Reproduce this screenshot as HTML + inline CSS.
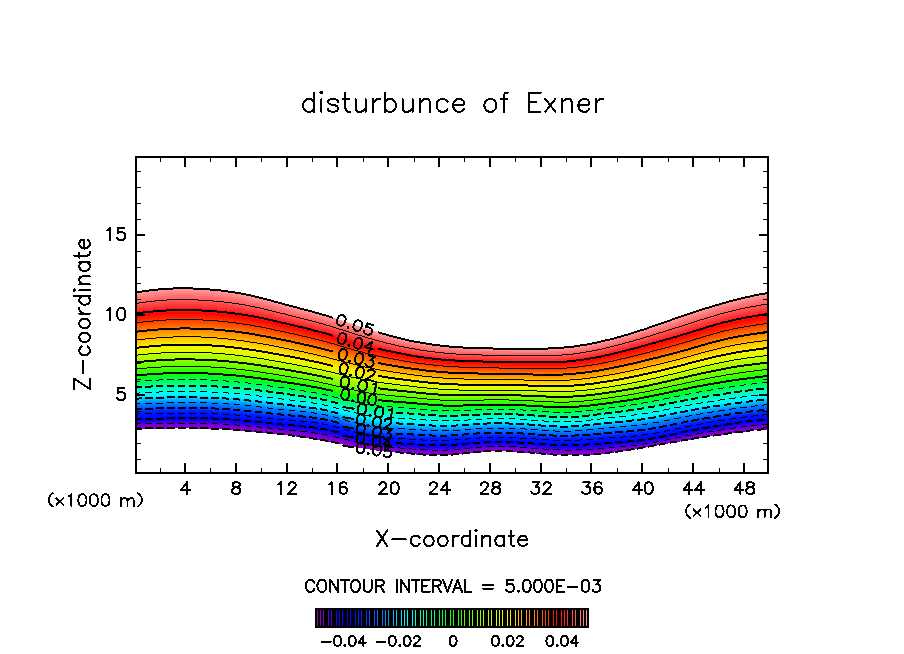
<!DOCTYPE html><html><head><meta charset="utf-8"><title>disturbunce of Exner</title><style>html,body{margin:0;padding:0;background:#fff}svg{display:block}</style></head><body>
<svg width="904" height="654" viewBox="0 0 904 654">
<rect width="904" height="654" fill="#fff"/>
<defs><clipPath id="band"><path d="M136,292.5 144,291.2 152,290.1 160,289.3 168,288.7 176,288.3 184,288.3 192,288.5 200,288.8 208,289.4 216,290 224,290.9 232,292 240,293.3 248,294.9 256,296.7 264,298.7 272,300.9 280,303.1 288,305.2 296,307.4 304,309.4 312,311.6 320,313.8 328,316.1 336,318.6 344,321.2 352,323.8 360,326.5 368,329.1 376,331.6 384,334 392,336.2 400,338.3 408,340.2 416,341.8 424,343.3 432,344.5 440,345.5 448,346.4 456,347 464,347.5 472,347.9 480,348.2 488,348.4 496,348.5 504,348.6 512,348.7 520,348.7 528,348.7 536,348.7 544,348.6 552,348.3 560,347.8 568,347.1 576,346.2 584,344.9 592,343.5 600,341.8 608,339.9 616,337.8 624,335.6 632,333.2 640,330.6 648,328 656,325.2 664,322.5 672,319.7 680,316.9 688,314.1 696,311.5 704,308.9 712,306.4 720,304.1 728,301.8 736,299.8 744,297.8 752,296 760,294.4 768,292.9 L768,428.9 760,429.5 752,430.3 744,431.3 736,432.4 728,433.5 720,434.7 712,435.8 704,437 696,438.2 688,439.5 680,440.9 672,442.3 664,443.8 656,445.2 648,446.7 640,448.1 632,449.4 624,450.6 616,451.7 608,452.7 600,453.6 592,454.3 584,454.8 576,455.1 568,455.1 560,454.9 552,454.4 544,453.8 536,453.1 528,452.3 520,451.7 512,451.2 504,450.8 496,450.8 488,451 480,451.6 472,452.4 464,453.4 456,454.2 448,454.9 440,455.1 432,455 424,454.6 416,454 408,453.2 400,452.5 392,451.8 384,450.9 376,450 368,448.8 360,447.5 352,445.9 344,444.3 336,442.7 328,441.1 320,439.6 312,438.3 304,437.1 296,435.9 288,434.9 280,434 272,433.1 264,432.2 256,431.5 248,430.8 240,430.1 232,429.6 224,429.1 216,428.7 208,428.4 200,428.2 192,428.1 184,428.1 176,428.1 168,428.2 160,428.2 152,428.3 144,428.4 136,428.7Z"/></clipPath><clipPath id="plot"><rect x="136" y="157" width="632" height="316"/></clipPath></defs>
<g clip-path="url(#band)" shape-rendering="crispEdges">
<path d="M768,480 136,480 136,289.5l8,-1.3 8,-1.1 8,-0.8 8,-0.6 8,-0.4 8,0 8,0.2 8,0.3 8,0.6 8,0.6 8,0.9 8,1.1 8,1.3 8,1.6 8,1.8 8,2 8,2.2 8,2.2 8,2.1 8,2.2 8,2 8,2.2 8,2.2 8,2.3 8,2.5 8,2.6 8,2.6 8,2.7 8,2.6 8,2.5 8,2.4 8,2.2 8,2.1 8,1.9 8,1.6 8,1.5 8,1.2 8,1 8,0.9 8,0.6 8,0.5 8,0.4 8,0.3 8,0.2 8,0.1 8,0.1 8,0.1 8,0 8,0 8,0 8,-0.1 8,-0.3 8,-0.5 8,-0.7 8,-0.9 8,-1.3 8,-1.4 8,-1.7 8,-1.9 8,-2.1 8,-2.2 8,-2.4 8,-2.6 8,-2.6 8,-2.8 8,-2.7 8,-2.8 8,-2.8 8,-2.8 8,-2.6 8,-2.6 8,-2.5 8,-2.3 8,-2.3 8,-2 8,-2 8,-1.8 8,-1.6 8,-1.5Z" fill="#ff9898"/>
<path d="M768,480 136,480 136,294.7l8,-1.2 8,-1.1 8,-0.8 8,-0.6 8,-0.3 8,-0.1 8,0.2 8,0.4 8,0.5 8,0.7 8,0.8 8,1.1 8,1.2 8,1.6 8,1.8 8,1.9 8,2.1 8,2.2 8,2.1 8,2.1 8,2.1 8,2.1 8,2.2 8,2.3 8,2.5 8,2.6 8,2.6 8,2.6 8,2.6 8,2.5 8,2.3 8,2.2 8,2 8,1.8 8,1.7 8,1.4 8,1.2 8,1 8,0.8 8,0.7 8,0.4 8,0.4 8,0.2 8,0.2 8,0.2 8,0.1 8,0.1 8,0.1 8,0 8,-0.1 8,-0.1 8,-0.2 8,-0.5 8,-0.7 8,-0.9 8,-1.2 8,-1.5 8,-1.7 8,-1.8 8,-2.1 8,-2.2 8,-2.4 8,-2.5 8,-2.6 8,-2.7 8,-2.7 8,-2.7 8,-2.7 8,-2.7 8,-2.7 8,-2.5 8,-2.5 8,-2.4 8,-2.2 8,-2 8,-1.9 8,-1.8 8,-1.6 8,-1.4Z" fill="#ff8a8a"/>
<path d="M768,480 136,480 136,296.9l8,-1.2 8,-1 8,-0.8 8,-0.6 8,-0.3 8,-0.1 8,0.2 8,0.4 8,0.5 8,0.6 8,0.9 8,1 8,1.2 8,1.5 8,1.8 8,1.9 8,2.1 8,2.1 8,2.1 8,2 8,2.1 8,2.1 8,2.2 8,2.3 8,2.5 8,2.6 8,2.6 8,2.6 8,2.5 8,2.4 8,2.3 8,2.1 8,2 8,1.8 8,1.6 8,1.3 8,1.2 8,1 8,0.8 8,0.7 8,0.4 8,0.4 8,0.2 8,0.2 8,0.2 8,0.1 8,0.1 8,0 8,0.1 8,0 8,-0.1 8,-0.3 8,-0.4 8,-0.7 8,-0.9 8,-1.2 8,-1.5 8,-1.6 8,-1.9 8,-2.1 8,-2.2 8,-2.3 8,-2.5 8,-2.5 8,-2.6 8,-2.6 8,-2.7 8,-2.7 8,-2.6 8,-2.7 8,-2.5 8,-2.5 8,-2.3 8,-2.2 8,-2.1 8,-1.8 8,-1.7 8,-1.6 8,-1.4Z" fill="#ff7b7b"/>
<path d="M768,480 136,480 136,299.1l8,-1.2 8,-1 8,-0.8 8,-0.5 8,-0.3 8,-0.1 8,0.2 8,0.3 8,0.5 8,0.7 8,0.8 8,1 8,1.2 8,1.5 8,1.7 8,1.9 8,2 8,2 8,2.1 8,2 8,2.1 8,2.1 8,2.1 8,2.4 8,2.4 8,2.6 8,2.6 8,2.6 8,2.5 8,2.3 8,2.3 8,2 8,2 8,1.7 8,1.5 8,1.4 8,1.2 8,1 8,0.7 8,0.6 8,0.5 8,0.3 8,0.3 8,0.2 8,0.1 8,0.1 8,0.1 8,0.1 8,0.1 8,0 8,-0.1 8,-0.2 8,-0.4 8,-0.7 8,-0.9 8,-1.2 8,-1.5 8,-1.6 8,-1.9 8,-2 8,-2.2 8,-2.3 8,-2.4 8,-2.5 8,-2.5 8,-2.6 8,-2.6 8,-2.6 8,-2.7 8,-2.6 8,-2.5 8,-2.5 8,-2.3 8,-2.2 8,-2 8,-1.8 8,-1.7 8,-1.5 8,-1.4Z" fill="#ff6e6e"/>
<path d="M768,480 136,480 136,301.2l8,-1.1 8,-1 8,-0.8 8,-0.5 8,-0.3 8,-0.1 8,0.2 8,0.3 8,0.5 8,0.6 8,0.8 8,1 8,1.2 8,1.5 8,1.6 8,1.9 8,1.9 8,2.1 8,2 8,2 8,2 8,2.1 8,2.2 8,2.3 8,2.5 8,2.5 8,2.6 8,2.6 8,2.4 8,2.3 8,2.2 8,2 8,1.9 8,1.7 8,1.5 8,1.3 8,1.2 8,1 8,0.7 8,0.6 8,0.5 8,0.3 8,0.2 8,0.2 8,0.1 8,0.2 8,0.1 8,0.1 8,0.1 8,0 8,-0.1 8,-0.2 8,-0.4 8,-0.6 8,-1 8,-1.2 8,-1.4 8,-1.6 8,-1.9 8,-2 8,-2.2 8,-2.2 8,-2.4 8,-2.4 8,-2.5 8,-2.5 8,-2.6 8,-2.5 8,-2.6 8,-2.6 8,-2.6 8,-2.4 8,-2.4 8,-2.1 8,-2 8,-1.8 8,-1.6 8,-1.5 8,-1.3Z" fill="#ff6161"/>
<path d="M768,480 136,480 136,303.4l8,-1.2 8,-0.9 8,-0.8 8,-0.5 8,-0.3 8,-0.1 8,0.2 8,0.3 8,0.5 8,0.6 8,0.8 8,0.9 8,1.2 8,1.4 8,1.7 8,1.8 8,1.9 8,2 8,2 8,2 8,2 8,2.1 8,2.1 8,2.3 8,2.5 8,2.5 8,2.6 8,2.5 8,2.4 8,2.3 8,2.1 8,2 8,1.8 8,1.7 8,1.4 8,1.4 8,1.1 8,0.9 8,0.8 8,0.6 8,0.4 8,0.3 8,0.2 8,0.2 8,0.2 8,0.1 8,0.1 8,0.1 8,0.1 8,0.1 8,-0.1 8,-0.2 8,-0.4 8,-0.6 8,-0.9 8,-1.2 8,-1.4 8,-1.7 8,-1.8 8,-2 8,-2.1 8,-2.2 8,-2.4 8,-2.4 8,-2.4 8,-2.4 8,-2.5 8,-2.6 8,-2.5 8,-2.6 8,-2.5 8,-2.5 8,-2.3 8,-2.2 8,-1.9 8,-1.8 8,-1.6 8,-1.4 8,-1.3Z" fill="#ff5353"/>
<path d="M768,480 136,480 136,305.4l8,-1.1 8,-0.9 8,-0.8 8,-0.5 8,-0.3 8,0 8,0.1 8,0.3 8,0.5 8,0.6 8,0.8 8,0.9 8,1.2 8,1.4 8,1.6 8,1.7 8,1.9 8,2 8,2 8,1.9 8,2 8,2.1 8,2.1 8,2.3 8,2.4 8,2.6 8,2.5 8,2.5 8,2.4 8,2.2 8,2.1 8,1.9 8,1.8 8,1.6 8,1.5 8,1.3 8,1.1 8,0.9 8,0.8 8,0.5 8,0.4 8,0.3 8,0.2 8,0.2 8,0.2 8,0.1 8,0.2 8,0.1 8,0.1 8,0 8,0 8,-0.2 8,-0.4 8,-0.6 8,-0.9 8,-1.2 8,-1.4 8,-1.6 8,-1.8 8,-2 8,-2.1 8,-2.2 8,-2.3 8,-2.3 8,-2.4 8,-2.4 8,-2.4 8,-2.5 8,-2.5 8,-2.6 8,-2.5 8,-2.5 8,-2.3 8,-2.1 8,-2 8,-1.7 8,-1.5 8,-1.5 8,-1.2Z" fill="#ff4646"/>
<path d="M768,480 136,480 136,307.5l8,-1.1 8,-0.9 8,-0.8 8,-0.5 8,-0.3 8,0 8,0.1 8,0.3 8,0.5 8,0.6 8,0.7 8,1 8,1.1 8,1.4 8,1.5 8,1.8 8,1.8 8,2 8,1.9 8,2 8,1.9 8,2.1 8,2.1 8,2.3 8,2.4 8,2.5 8,2.5 8,2.5 8,2.4 8,2.2 8,2 8,1.9 8,1.7 8,1.6 8,1.4 8,1.2 8,1.1 8,1 8,0.7 8,0.6 8,0.4 8,0.2 8,0.3 8,0.1 8,0.2 8,0.1 8,0.2 8,0.1 8,0.1 8,0.1 8,-0.1 8,-0.1 8,-0.4 8,-0.6 8,-0.9 8,-1.1 8,-1.4 8,-1.6 8,-1.8 8,-1.9 8,-2.1 8,-2.2 8,-2.2 8,-2.3 8,-2.4 8,-2.3 8,-2.4 8,-2.5 8,-2.5 8,-2.5 8,-2.6 8,-2.4 8,-2.3 8,-2.1 8,-1.9 8,-1.7 8,-1.5 8,-1.4 8,-1.3Z" fill="#ff3939"/>
<path d="M768,480 136,480 136,309.5l8,-1.1 8,-0.9 8,-0.7 8,-0.5 8,-0.3 8,-0.1 8,0.2 8,0.3 8,0.4 8,0.6 8,0.8 8,0.9 8,1.1 8,1.4 8,1.5 8,1.7 8,1.8 8,1.9 8,1.9 8,2 8,1.9 8,2 8,2.2 8,2.2 8,2.4 8,2.5 8,2.5 8,2.5 8,2.3 8,2.1 8,2 8,1.9 8,1.6 8,1.6 8,1.4 8,1.2 8,1.1 8,0.9 8,0.7 8,0.6 8,0.4 8,0.2 8,0.2 8,0.2 8,0.2 8,0.1 8,0.2 8,0.1 8,0.1 8,0.1 8,0 8,-0.2 8,-0.3 8,-0.6 8,-0.9 8,-1.1 8,-1.4 8,-1.6 8,-1.7 8,-2 8,-2 8,-2.1 8,-2.3 8,-2.2 8,-2.3 8,-2.3 8,-2.4 8,-2.4 8,-2.5 8,-2.5 8,-2.5 8,-2.4 8,-2.3 8,-2.1 8,-1.9 8,-1.7 8,-1.5 8,-1.3 8,-1.3Z" fill="#ff2a2a"/>
<path d="M768,480 136,480 136,311.5l8,-1.1 8,-0.8 8,-0.8 8,-0.5 8,-0.3 8,0 8,0.1 8,0.3 8,0.4 8,0.6 8,0.8 8,0.9 8,1.1 8,1.3 8,1.5 8,1.7 8,1.8 8,1.9 8,1.8 8,1.9 8,2 8,2 8,2.1 8,2.3 8,2.3 8,2.5 8,2.5 8,2.4 8,2.3 8,2.1 8,1.9 8,1.8 8,1.7 8,1.5 8,1.4 8,1.2 8,1 8,0.9 8,0.7 8,0.6 8,0.4 8,0.2 8,0.2 8,0.2 8,0.2 8,0.1 8,0.1 8,0.2 8,0.1 8,0.1 8,0 8,-0.1 8,-0.3 8,-0.6 8,-0.9 8,-1.1 8,-1.4 8,-1.5 8,-1.8 8,-1.9 8,-2 8,-2.1 8,-2.2 8,-2.2 8,-2.2 8,-2.3 8,-2.4 8,-2.3 8,-2.5 8,-2.5 8,-2.5 8,-2.4 8,-2.3 8,-2.1 8,-1.8 8,-1.7 8,-1.4 8,-1.4 8,-1.2Z" fill="#ff1919"/>
<path d="M768,480 136,480 136,313.4l8,-1 8,-0.9 8,-0.7 8,-0.5 8,-0.3 8,0 8,0.1 8,0.3 8,0.4 8,0.6 8,0.8 8,0.9 8,1.1 8,1.2 8,1.5 8,1.7 8,1.7 8,1.9 8,1.8 8,1.9 8,1.9 8,2 8,2.1 8,2.3 8,2.3 8,2.5 8,2.4 8,2.4 8,2.3 8,2 8,1.9 8,1.8 8,1.6 8,1.5 8,1.3 8,1.2 8,1.1 8,0.9 8,0.7 8,0.5 8,0.3 8,0.3 8,0.2 8,0.2 8,0.1 8,0.2 8,0.1 8,0.2 8,0.1 8,0.1 8,0 8,-0.1 8,-0.3 8,-0.6 8,-0.8 8,-1.1 8,-1.4 8,-1.5 8,-1.7 8,-1.9 8,-2 8,-2.1 8,-2.1 8,-2.2 8,-2.2 8,-2.2 8,-2.3 8,-2.4 8,-2.4 8,-2.5 8,-2.5 8,-2.4 8,-2.3 8,-2.1 8,-1.8 8,-1.6 8,-1.4 8,-1.3 8,-1.2Z" fill="#ff0808"/>
<path d="M768,480 136,480 136,315.4l8,-1 8,-0.9 8,-0.7 8,-0.5 8,-0.3 8,-0.1 8,0.2 8,0.2 8,0.5 8,0.6 8,0.7 8,0.9 8,1.1 8,1.2 8,1.5 8,1.6 8,1.8 8,1.8 8,1.8 8,1.9 8,1.9 8,2 8,2 8,2.3 8,2.3 8,2.4 8,2.4 8,2.4 8,2.2 8,2.1 8,1.8 8,1.7 8,1.6 8,1.4 8,1.4 8,1.2 8,1 8,0.9 8,0.6 8,0.5 8,0.4 8,0.3 8,0.2 8,0.1 8,0.2 8,0.1 8,0.2 8,0.1 8,0.2 8,0.1 8,0 8,-0.1 8,-0.3 8,-0.5 8,-0.9 8,-1.1 8,-1.3 8,-1.5 8,-1.7 8,-1.8 8,-2 8,-2 8,-2.1 8,-2.2 8,-2.2 8,-2.2 8,-2.3 8,-2.3 8,-2.4 8,-2.5 8,-2.4 8,-2.4 8,-2.3 8,-2 8,-1.9 8,-1.5 8,-1.5 8,-1.2 8,-1.2Z" fill="#ff0700"/>
<path d="M768,480 136,480 136,317.3l8,-1 8,-0.9 8,-0.7 8,-0.5 8,-0.2 8,-0.1 8,0.1 8,0.3 8,0.4 8,0.6 8,0.7 8,0.9 8,1.1 8,1.2 8,1.5 8,1.6 8,1.7 8,1.7 8,1.9 8,1.8 8,1.9 8,2 8,2 8,2.2 8,2.4 8,2.3 8,2.4 8,2.4 8,2.1 8,2 8,1.9 8,1.7 8,1.5 8,1.4 8,1.3 8,1.2 8,1 8,0.8 8,0.7 8,0.5 8,0.4 8,0.2 8,0.2 8,0.2 8,0.1 8,0.2 8,0.1 8,0.2 8,0.1 8,0.1 8,0.1 8,-0.1 8,-0.3 8,-0.5 8,-0.8 8,-1.1 8,-1.3 8,-1.5 8,-1.7 8,-1.8 8,-1.9 8,-2 8,-2.1 8,-2.1 8,-2.2 8,-2.2 8,-2.2 8,-2.3 8,-2.4 8,-2.4 8,-2.5 8,-2.4 8,-2.2 8,-2.1 8,-1.7 8,-1.6 8,-1.4 8,-1.3 8,-1.1Z" fill="#ff1400"/>
<path d="M768,480 136,480 136,319.2l8,-1 8,-0.9 8,-0.6 8,-0.5 8,-0.3 8,-0.1 8,0.1 8,0.3 8,0.4 8,0.6 8,0.7 8,0.9 8,1 8,1.3 8,1.4 8,1.6 8,1.6 8,1.8 8,1.8 8,1.8 8,1.9 8,1.9 8,2.1 8,2.2 8,2.3 8,2.4 8,2.3 8,2.3 8,2.2 8,1.9 8,1.8 8,1.7 8,1.5 8,1.4 8,1.2 8,1.2 8,1 8,0.8 8,0.7 8,0.5 8,0.3 8,0.3 8,0.1 8,0.2 8,0.1 8,0.2 8,0.2 8,0.1 8,0.2 8,0.1 8,0 8,0 8,-0.3 8,-0.5 8,-0.8 8,-1.1 8,-1.2 8,-1.5 8,-1.6 8,-1.8 8,-1.9 8,-2 8,-2.1 8,-2.1 8,-2.1 8,-2.1 8,-2.2 8,-2.3 8,-2.4 8,-2.4 8,-2.5 8,-2.3 8,-2.3 8,-2 8,-1.8 8,-1.5 8,-1.4 8,-1.2 8,-1.1Z" fill="#ff2100"/>
<path d="M768,480 136,480 136,321l8,-0.9 8,-0.9 8,-0.7 8,-0.5 8,-0.2 8,-0.1 8,0.1 8,0.2 8,0.5 8,0.5 8,0.7 8,0.9 8,1.1 8,1.2 8,1.4 8,1.5 8,1.7 8,1.7 8,1.8 8,1.8 8,1.9 8,1.9 8,2 8,2.2 8,2.3 8,2.3 8,2.4 8,2.2 8,2.1 8,2 8,1.7 8,1.7 8,1.4 8,1.4 8,1.2 8,1.2 8,1 8,0.8 8,0.6 8,0.5 8,0.4 8,0.2 8,0.2 8,0.1 8,0.2 8,0.1 8,0.2 8,0.1 8,0.2 8,0.1 8,0.1 8,-0.1 8,-0.2 8,-0.5 8,-0.8 8,-1 8,-1.3 8,-1.4 8,-1.6 8,-1.8 8,-1.9 8,-1.9 8,-2.1 8,-2 8,-2.1 8,-2.1 8,-2.2 8,-2.3 8,-2.3 8,-2.5 8,-2.4 8,-2.3 8,-2.3 8,-2 8,-1.7 8,-1.5 8,-1.4 8,-1.2 8,-1.1Z" fill="#ff3000"/>
<path d="M768,480 136,480 136,322.9l8,-1 8,-0.8 8,-0.7 8,-0.5 8,-0.3 8,-0.1 8,0.1 8,0.3 8,0.4 8,0.6 8,0.7 8,0.8 8,1.1 8,1.2 8,1.4 8,1.5 8,1.6 8,1.7 8,1.8 8,1.8 8,1.8 8,1.9 8,2.1 8,2.1 8,2.3 8,2.3 8,2.3 8,2.2 8,2.1 8,1.9 8,1.7 8,1.6 8,1.5 8,1.3 8,1.2 8,1.1 8,1 8,0.8 8,0.7 8,0.5 8,0.3 8,0.2 8,0.2 8,0.1 8,0.2 8,0.1 8,0.2 8,0.1 8,0.2 8,0.1 8,0.1 8,0 8,-0.3 8,-0.4 8,-0.8 8,-1 8,-1.2 8,-1.5 8,-1.5 8,-1.8 8,-1.8 8,-1.9 8,-2 8,-2.1 8,-2.1 8,-2.1 8,-2.1 8,-2.3 8,-2.3 8,-2.4 8,-2.4 8,-2.3 8,-2.2 8,-2 8,-1.8 8,-1.5 8,-1.3 8,-1.2 8,-1.1Z" fill="#ff3e00"/>
<path d="M768,480 136,480 136,324.7l8,-1 8,-0.8 8,-0.7 8,-0.5 8,-0.3 8,-0.1 8,0.1 8,0.3 8,0.4 8,0.6 8,0.7 8,0.8 8,1.1 8,1.2 8,1.4 8,1.4 8,1.7 8,1.6 8,1.8 8,1.7 8,1.9 8,1.9 8,2 8,2.1 8,2.3 8,2.2 8,2.3 8,2.2 8,2.1 8,1.8 8,1.7 8,1.6 8,1.4 8,1.3 8,1.2 8,1.1 8,1 8,0.8 8,0.6 8,0.5 8,0.3 8,0.2 8,0.2 8,0.1 8,0.2 8,0.1 8,0.2 8,0.1 8,0.2 8,0.2 8,0 8,0 8,-0.2 8,-0.5 8,-0.7 8,-1 8,-1.2 8,-1.4 8,-1.6 8,-1.7 8,-1.8 8,-1.9 8,-2 8,-2 8,-2 8,-2.1 8,-2.2 8,-2.2 8,-2.3 8,-2.4 8,-2.4 8,-2.3 8,-2.2 8,-1.9 8,-1.7 8,-1.5 8,-1.3 8,-1.2 8,-1.1Z" fill="#ff4e00"/>
<path d="M768,480 136,480 136,326.4l8,-0.9 8,-0.8 8,-0.7 8,-0.5 8,-0.3 8,-0.1 8,0.1 8,0.3 8,0.4 8,0.5 8,0.8 8,0.8 8,1.1 8,1.1 8,1.4 8,1.5 8,1.6 8,1.6 8,1.7 8,1.8 8,1.8 8,1.9 8,2 8,2.1 8,2.2 8,2.3 8,2.2 8,2.2 8,2 8,1.9 8,1.6 8,1.5 8,1.4 8,1.3 8,1.2 8,1.1 8,0.9 8,0.8 8,0.7 8,0.4 8,0.3 8,0.2 8,0.2 8,0.1 8,0.2 8,0.1 8,0.2 8,0.1 8,0.2 8,0.2 8,0 8,0 8,-0.2 8,-0.4 8,-0.7 8,-1 8,-1.2 8,-1.4 8,-1.5 8,-1.7 8,-1.8 8,-1.8 8,-2 8,-2 8,-2 8,-2.1 8,-2.1 8,-2.2 8,-2.3 8,-2.4 8,-2.3 8,-2.3 8,-2.2 8,-1.9 8,-1.7 8,-1.5 8,-1.3 8,-1.2 8,-1Z" fill="#ff5c00"/>
<path d="M768,480 136,480 136,328.2l8,-0.9 8,-0.8 8,-0.7 8,-0.5 8,-0.3 8,-0.1 8,0.1 8,0.2 8,0.4 8,0.6 8,0.7 8,0.9 8,1 8,1.2 8,1.3 8,1.5 8,1.5 8,1.7 8,1.7 8,1.7 8,1.8 8,1.9 8,2 8,2 8,2.2 8,2.3 8,2.2 8,2.2 8,1.9 8,1.8 8,1.7 8,1.5 8,1.3 8,1.3 8,1.2 8,1 8,1 8,0.7 8,0.7 8,0.4 8,0.3 8,0.2 8,0.2 8,0.1 8,0.1 8,0.2 8,0.1 8,0.2 8,0.2 8,0.1 8,0.1 8,0 8,-0.2 8,-0.4 8,-0.7 8,-0.9 8,-1.2 8,-1.3 8,-1.5 8,-1.7 8,-1.7 8,-1.9 8,-1.9 8,-2 8,-2 8,-2.1 8,-2.1 8,-2.2 8,-2.2 8,-2.4 8,-2.3 8,-2.3 8,-2.1 8,-2 8,-1.6 8,-1.5 8,-1.3 8,-1.1 8,-1.1Z" fill="#ff6a00"/>
<path d="M768,480 136,480 136,329.9l8,-0.9 8,-0.8 8,-0.6 8,-0.5 8,-0.3 8,-0.1 8,0 8,0.3 8,0.4 8,0.5 8,0.7 8,0.9 8,1 8,1.2 8,1.3 8,1.5 8,1.5 8,1.6 8,1.7 8,1.7 8,1.8 8,1.9 8,1.9 8,2.1 8,2.2 8,2.2 8,2.2 8,2.1 8,2 8,1.7 8,1.6 8,1.5 8,1.3 8,1.3 8,1.1 8,1.1 8,0.9 8,0.8 8,0.6 8,0.4 8,0.3 8,0.2 8,0.2 8,0.1 8,0.1 8,0.2 8,0.1 8,0.2 8,0.1 8,0.2 8,0.1 8,0 8,-0.2 8,-0.4 8,-0.6 8,-1 8,-1.1 8,-1.3 8,-1.5 8,-1.6 8,-1.8 8,-1.8 8,-1.9 8,-1.9 8,-2 8,-2.1 8,-2.1 8,-2.1 8,-2.3 8,-2.3 8,-2.3 8,-2.3 8,-2.1 8,-1.9 8,-1.7 8,-1.4 8,-1.3 8,-1.1 8,-1.1Z" fill="#ff7700"/>
<path d="M768,480 136,480 136,331.7l8,-0.9 8,-0.8 8,-0.7 8,-0.5 8,-0.3 8,-0.1 8,0.1 8,0.2 8,0.4 8,0.6 8,0.7 8,0.8 8,1 8,1.2 8,1.3 8,1.4 8,1.5 8,1.6 8,1.7 8,1.7 8,1.8 8,1.8 8,2 8,2 8,2.2 8,2.2 8,2.1 8,2.1 8,1.9 8,1.8 8,1.6 8,1.4 8,1.3 8,1.2 8,1.2 8,1 8,0.9 8,0.8 8,0.6 8,0.4 8,0.3 8,0.2 8,0.1 8,0.1 8,0.2 8,0.1 8,0.2 8,0.1 8,0.2 8,0.2 8,0.1 8,0 8,-0.1 8,-0.4 8,-0.7 8,-0.9 8,-1.1 8,-1.3 8,-1.5 8,-1.6 8,-1.7 8,-1.8 8,-1.8 8,-2 8,-1.9 8,-2.1 8,-2.1 8,-2.1 8,-2.3 8,-2.3 8,-2.3 8,-2.2 8,-2.1 8,-1.9 8,-1.6 8,-1.5 8,-1.2 8,-1.1 8,-1.1Z" fill="#ff8300"/>
<path d="M768,480 136,480 136,333.4l8,-0.9 8,-0.8 8,-0.7 8,-0.5 8,-0.3 8,-0.1 8,0.1 8,0.2 8,0.4 8,0.5 8,0.8 8,0.8 8,1 8,1.2 8,1.3 8,1.4 8,1.5 8,1.6 8,1.6 8,1.7 8,1.7 8,1.9 8,1.9 8,2 8,2.2 8,2.1 8,2.2 8,2 8,1.9 8,1.7 8,1.6 8,1.4 8,1.3 8,1.2 8,1.1 8,1 8,0.9 8,0.8 8,0.6 8,0.4 8,0.3 8,0.2 8,0.1 8,0.1 8,0.1 8,0.1 8,0.2 8,0.2 8,0.1 8,0.2 8,0.2 8,0 8,-0.2 8,-0.3 8,-0.7 8,-0.9 8,-1 8,-1.3 8,-1.5 8,-1.5 8,-1.7 8,-1.8 8,-1.8 8,-1.9 8,-2 8,-2 8,-2.1 8,-2.1 8,-2.2 8,-2.3 8,-2.3 8,-2.2 8,-2.1 8,-1.9 8,-1.6 8,-1.4 8,-1.3 8,-1.1 8,-1Z" fill="#ff9000"/>
<path d="M768,480 136,480 136,335l8,-0.9 8,-0.7 8,-0.7 8,-0.5 8,-0.3 8,-0.1 8,0.1 8,0.2 8,0.4 8,0.5 8,0.7 8,0.9 8,1 8,1.1 8,1.3 8,1.4 8,1.5 8,1.6 8,1.6 8,1.7 8,1.7 8,1.8 8,1.9 8,2 8,2.1 8,2.2 8,2.1 8,2 8,1.9 8,1.7 8,1.5 8,1.4 8,1.2 8,1.2 8,1.1 8,1 8,0.9 8,0.8 8,0.5 8,0.5 8,0.2 8,0.2 8,0.1 8,0.1 8,0.2 8,0.1 8,0.1 8,0.2 8,0.2 8,0.2 8,0.1 8,0.1 8,-0.2 8,-0.3 8,-0.7 8,-0.8 8,-1.1 8,-1.2 8,-1.4 8,-1.6 8,-1.6 8,-1.8 8,-1.8 8,-1.9 8,-2 8,-2 8,-2 8,-2.2 8,-2.2 8,-2.2 8,-2.3 8,-2.2 8,-2 8,-1.9 8,-1.6 8,-1.4 8,-1.2 8,-1.1 8,-1Z" fill="#ff9c00"/>
<path d="M768,480 136,480 136,336.7l8,-0.9 8,-0.8 8,-0.6 8,-0.5 8,-0.3 8,-0.1 8,0 8,0.2 8,0.4 8,0.6 8,0.7 8,0.8 8,1 8,1.2 8,1.2 8,1.4 8,1.5 8,1.5 8,1.6 8,1.7 8,1.7 8,1.8 8,1.9 8,2 8,2.1 8,2.1 8,2.1 8,2 8,1.9 8,1.6 8,1.5 8,1.3 8,1.3 8,1.1 8,1.1 8,1 8,0.9 8,0.7 8,0.6 8,0.4 8,0.3 8,0.2 8,0.1 8,0.1 8,0.1 8,0.1 8,0.1 8,0.2 8,0.2 8,0.2 8,0.2 8,0 8,-0.1 8,-0.4 8,-0.6 8,-0.8 8,-1 8,-1.3 8,-1.4 8,-1.5 8,-1.6 8,-1.7 8,-1.8 8,-1.9 8,-1.9 8,-2 8,-2.1 8,-2.1 8,-2.2 8,-2.2 8,-2.3 8,-2.1 8,-2.1 8,-1.8 8,-1.6 8,-1.4 8,-1.2 8,-1.1 8,-1Z" fill="#ffa900"/>
<path d="M768,480 136,480 136,338.3l8,-0.9 8,-0.7 8,-0.7 8,-0.5 8,-0.3 8,-0.1 8,0.1 8,0.2 8,0.4 8,0.5 8,0.7 8,0.9 8,1 8,1.1 8,1.2 8,1.4 8,1.5 8,1.5 8,1.6 8,1.6 8,1.7 8,1.8 8,1.9 8,2 8,2 8,2.1 8,2.1 8,2 8,1.8 8,1.6 8,1.5 8,1.3 8,1.2 8,1.2 8,1 8,1 8,0.9 8,0.7 8,0.6 8,0.4 8,0.2 8,0.2 8,0.1 8,0.1 8,0.1 8,0.1 8,0.2 8,0.1 8,0.2 8,0.2 8,0.2 8,0.1 8,-0.1 8,-0.4 8,-0.6 8,-0.8 8,-1 8,-1.2 8,-1.4 8,-1.5 8,-1.6 8,-1.7 8,-1.8 8,-1.8 8,-1.9 8,-2 8,-2.1 8,-2.1 8,-2.1 8,-2.3 8,-2.2 8,-2.1 8,-2 8,-1.8 8,-1.6 8,-1.4 8,-1.2 8,-1.1 8,-1Z" fill="#ffb500"/>
<path d="M768,480 136,480 136,340l8,-0.9 8,-0.8 8,-0.6 8,-0.5 8,-0.3 8,-0.2 8,0.1 8,0.2 8,0.4 8,0.5 8,0.7 8,0.9 8,1 8,1.1 8,1.2 8,1.4 8,1.4 8,1.5 8,1.6 8,1.7 8,1.6 8,1.8 8,1.9 8,1.9 8,2.1 8,2.1 8,2 8,1.9 8,1.8 8,1.6 8,1.5 8,1.3 8,1.2 8,1.1 8,1 8,1 8,0.9 8,0.7 8,0.5 8,0.4 8,0.3 8,0.1 8,0.1 8,0.1 8,0.1 8,0.1 8,0.2 8,0.1 8,0.2 8,0.2 8,0.2 8,0.1 8,-0.1 8,-0.3 8,-0.6 8,-0.8 8,-1 8,-1.2 8,-1.3 8,-1.5 8,-1.6 8,-1.6 8,-1.8 8,-1.9 8,-1.9 8,-1.9 8,-2.1 8,-2.1 8,-2.1 8,-2.2 8,-2.2 8,-2.1 8,-2 8,-1.8 8,-1.6 8,-1.3 8,-1.2 8,-1.1 8,-0.9Z" fill="#ffc200"/>
<path d="M768,480 136,480 136,341.6l8,-0.9 8,-0.8 8,-0.6 8,-0.5 8,-0.3 8,-0.1 8,0 8,0.2 8,0.4 8,0.5 8,0.7 8,0.9 8,0.9 8,1.2 8,1.2 8,1.3 8,1.5 8,1.5 8,1.5 8,1.7 8,1.6 8,1.8 8,1.8 8,2 8,2 8,2.1 8,2 8,1.9 8,1.8 8,1.5 8,1.4 8,1.3 8,1.2 8,1.1 8,1 8,1 8,0.8 8,0.7 8,0.6 8,0.4 8,0.2 8,0.2 8,0 8,0.1 8,0.1 8,0.1 8,0.2 8,0.1 8,0.2 8,0.3 8,0.1 8,0.1 8,0 8,-0.3 8,-0.6 8,-0.8 8,-1 8,-1.1 8,-1.4 8,-1.4 8,-1.6 8,-1.6 8,-1.8 8,-1.8 8,-1.9 8,-2 8,-2 8,-2.1 8,-2.1 8,-2.2 8,-2.1 8,-2.1 8,-2 8,-1.8 8,-1.5 8,-1.4 8,-1.1 8,-1.1 8,-1Z" fill="#ffcd00"/>
<path d="M768,480 136,480 136,343.1l8,-0.8 8,-0.8 8,-0.6 8,-0.5 8,-0.3 8,-0.1 8,0 8,0.2 8,0.4 8,0.5 8,0.7 8,0.8 8,1 8,1.1 8,1.3 8,1.3 8,1.4 8,1.5 8,1.5 8,1.6 8,1.7 8,1.7 8,1.9 8,1.9 8,2 8,2 8,2 8,1.9 8,1.8 8,1.5 8,1.4 8,1.3 8,1.1 8,1.1 8,1 8,1 8,0.8 8,0.7 8,0.5 8,0.4 8,0.2 8,0.2 8,0 8,0.1 8,0.1 8,0.1 8,0.1 8,0.2 8,0.2 8,0.3 8,0.1 8,0.1 8,0 8,-0.3 8,-0.5 8,-0.8 8,-1 8,-1.1 8,-1.3 8,-1.4 8,-1.6 8,-1.6 8,-1.8 8,-1.8 8,-1.8 8,-2 8,-2 8,-2.1 8,-2.1 8,-2.2 8,-2.1 8,-2.1 8,-1.9 8,-1.7 8,-1.6 8,-1.3 8,-1.2 8,-1 8,-1Z" fill="#ffd700"/>
<path d="M768,480 136,480 136,344.7l8,-0.9 8,-0.7 8,-0.7 8,-0.4 8,-0.3 8,-0.2 8,0.1 8,0.2 8,0.3 8,0.6 8,0.7 8,0.8 8,1 8,1.1 8,1.2 8,1.3 8,1.4 8,1.5 8,1.5 8,1.6 8,1.7 8,1.7 8,1.8 8,1.9 8,2 8,2 8,2 8,1.9 8,1.7 8,1.5 8,1.4 8,1.2 8,1.1 8,1.1 8,1 8,0.9 8,0.9 8,0.7 8,0.5 8,0.3 8,0.3 8,0.1 8,0 8,0.1 8,0.1 8,0.1 8,0.1 8,0.2 8,0.2 8,0.2 8,0.3 8,0.1 8,-0.1 8,-0.2 8,-0.6 8,-0.7 8,-1 8,-1.1 8,-1.3 8,-1.4 8,-1.5 8,-1.6 8,-1.7 8,-1.8 8,-1.9 8,-1.9 8,-2 8,-2.1 8,-2.1 8,-2.1 8,-2.2 8,-2 8,-1.9 8,-1.7 8,-1.5 8,-1.4 8,-1.1 8,-1.1 8,-0.9Z" fill="#ffe100"/>
<path d="M768,480 136,480 136,346.3l8,-0.9 8,-0.8 8,-0.6 8,-0.5 8,-0.3 8,-0.1 8,0 8,0.2 8,0.4 8,0.5 8,0.7 8,0.8 8,1 8,1.1 8,1.2 8,1.3 8,1.4 8,1.5 8,1.5 8,1.6 8,1.6 8,1.7 8,1.8 8,1.9 8,2 8,2 8,1.9 8,1.9 8,1.7 8,1.5 8,1.3 8,1.2 8,1.1 8,1.1 8,1 8,0.9 8,0.8 8,0.7 8,0.5 8,0.4 8,0.2 8,0.1 8,0 8,0.1 8,0 8,0.1 8,0.2 8,0.2 8,0.2 8,0.2 8,0.2 8,0.2 8,-0.1 8,-0.2 8,-0.5 8,-0.8 8,-0.9 8,-1.1 8,-1.3 8,-1.4 8,-1.5 8,-1.6 8,-1.7 8,-1.7 8,-1.9 8,-1.9 8,-2 8,-2.1 8,-2 8,-2.2 8,-2 8,-2.1 8,-1.8 8,-1.7 8,-1.5 8,-1.4 8,-1.1 8,-1.1 8,-0.9Z" fill="#ffeb00"/>
<path d="M768,480 136,480 136,347.8l8,-0.9 8,-0.7 8,-0.7 8,-0.4 8,-0.3 8,-0.2 8,0.1 8,0.2 8,0.3 8,0.6 8,0.6 8,0.9 8,0.9 8,1.1 8,1.2 8,1.3 8,1.4 8,1.4 8,1.6 8,1.5 8,1.6 8,1.7 8,1.8 8,1.9 8,1.9 8,2 8,2 8,1.8 8,1.7 8,1.5 8,1.3 8,1.1 8,1.1 8,1 8,1 8,0.9 8,0.8 8,0.7 8,0.5 8,0.4 8,0.2 8,0.1 8,0 8,0 8,0.1 8,0.1 8,0.1 8,0.2 8,0.2 8,0.3 8,0.2 8,0.2 8,0 8,-0.3 8,-0.5 8,-0.7 8,-0.9 8,-1.1 8,-1.3 8,-1.3 8,-1.5 8,-1.6 8,-1.7 8,-1.7 8,-1.9 8,-1.9 8,-2 8,-2 8,-2.1 8,-2.1 8,-2 8,-2 8,-1.9 8,-1.7 8,-1.4 8,-1.3 8,-1.2 8,-1 8,-1Z" fill="#fbf200"/>
<path d="M768,480 136,480 136,349.3l8,-0.9 8,-0.7 8,-0.6 8,-0.5 8,-0.3 8,-0.1 8,0 8,0.2 8,0.4 8,0.5 8,0.7 8,0.8 8,0.9 8,1.1 8,1.2 8,1.3 8,1.4 8,1.4 8,1.5 8,1.5 8,1.6 8,1.7 8,1.8 8,1.9 8,1.9 8,2 8,1.9 8,1.8 8,1.7 8,1.4 8,1.3 8,1.1 8,1.1 8,1 8,1 8,0.9 8,0.8 8,0.7 8,0.5 8,0.3 8,0.2 8,0 8,0.1 8,0 8,0.1 8,0.1 8,0.1 8,0.2 8,0.2 8,0.3 8,0.2 8,0.2 8,0 8,-0.3 8,-0.4 8,-0.8 8,-0.9 8,-1.1 8,-1.2 8,-1.3 8,-1.5 8,-1.5 8,-1.7 8,-1.8 8,-1.8 8,-1.9 8,-2 8,-2 8,-2 8,-2.1 8,-2 8,-2 8,-1.8 8,-1.7 8,-1.5 8,-1.3 8,-1.1 8,-1 8,-1Z" fill="#f2f600"/>
<path d="M768,480 136,480 136,350.8l8,-0.9 8,-0.7 8,-0.6 8,-0.5 8,-0.3 8,-0.1 8,0 8,0.2 8,0.4 8,0.5 8,0.7 8,0.8 8,0.9 8,1.1 8,1.2 8,1.3 8,1.3 8,1.4 8,1.5 8,1.6 8,1.5 8,1.7 8,1.8 8,1.8 8,1.9 8,2 8,1.9 8,1.8 8,1.7 8,1.4 8,1.2 8,1.1 8,1.1 8,1 8,0.9 8,0.9 8,0.8 8,0.7 8,0.5 8,0.3 8,0.2 8,0 8,0 8,0.1 8,0 8,0.1 8,0.1 8,0.2 8,0.2 8,0.3 8,0.3 8,0.2 8,0 8,-0.2 8,-0.5 8,-0.7 8,-0.9 8,-1.1 8,-1.2 8,-1.3 8,-1.5 8,-1.5 8,-1.7 8,-1.7 8,-1.8 8,-1.9 8,-2 8,-2 8,-2 8,-2.1 8,-2 8,-1.9 8,-1.8 8,-1.6 8,-1.5 8,-1.3 8,-1.1 8,-1 8,-1Z" fill="#e9f900"/>
<path d="M768,480 136,480 136,352.3l8,-0.9 8,-0.7 8,-0.6 8,-0.5 8,-0.3 8,-0.1 8,0 8,0.2 8,0.4 8,0.5 8,0.7 8,0.8 8,0.9 8,1.1 8,1.2 8,1.2 8,1.4 8,1.4 8,1.4 8,1.6 8,1.5 8,1.7 8,1.7 8,1.9 8,1.9 8,1.9 8,1.9 8,1.8 8,1.6 8,1.4 8,1.3 8,1 8,1.1 8,0.9 8,1 8,0.9 8,0.7 8,0.7 8,0.5 8,0.3 8,0.1 8,0.1 8,0 8,0 8,0 8,0.1 8,0.2 8,0.1 8,0.3 8,0.3 8,0.3 8,0.1 8,0.1 8,-0.2 8,-0.5 8,-0.7 8,-0.9 8,-1 8,-1.2 8,-1.4 8,-1.4 8,-1.5 8,-1.6 8,-1.7 8,-1.9 8,-1.8 8,-2 8,-2 8,-2 8,-2 8,-2 8,-1.9 8,-1.8 8,-1.6 8,-1.4 8,-1.3 8,-1.1 8,-1.1 8,-0.9Z" fill="#e0fd00"/>
<path d="M768,480 136,480 136,353.8l8,-0.9 8,-0.7 8,-0.6 8,-0.5 8,-0.3 8,-0.1 8,0 8,0.2 8,0.3 8,0.6 8,0.6 8,0.8 8,1 8,1 8,1.2 8,1.3 8,1.3 8,1.4 8,1.4 8,1.6 8,1.5 8,1.6 8,1.8 8,1.8 8,1.9 8,1.9 8,1.9 8,1.8 8,1.6 8,1.4 8,1.2 8,1 8,1 8,1 8,0.9 8,0.9 8,0.8 8,0.6 8,0.5 8,0.3 8,0.1 8,0.1 8,-0.1 8,0 8,0.1 8,0.1 8,0.1 8,0.2 8,0.2 8,0.3 8,0.3 8,0.2 8,0 8,-0.1 8,-0.5 8,-0.7 8,-0.9 8,-1 8,-1.2 8,-1.3 8,-1.4 8,-1.5 8,-1.6 8,-1.7 8,-1.8 8,-1.9 8,-1.9 8,-2 8,-2 8,-2 8,-1.9 8,-1.9 8,-1.8 8,-1.6 8,-1.4 8,-1.3 8,-1.1 8,-1 8,-0.9Z" fill="#d6ff00"/>
<path d="M768,480 136,480 136,355.2l8,-0.8 8,-0.8 8,-0.6 8,-0.4 8,-0.3 8,-0.1 8,0 8,0.2 8,0.3 8,0.5 8,0.7 8,0.8 8,0.9 8,1.1 8,1.1 8,1.3 8,1.3 8,1.4 8,1.4 8,1.5 8,1.6 8,1.6 8,1.7 8,1.8 8,1.9 8,1.9 8,1.9 8,1.8 8,1.6 8,1.3 8,1.2 8,1 8,1 8,0.9 8,0.9 8,0.9 8,0.8 8,0.6 8,0.5 8,0.3 8,0.1 8,0 8,0 8,0 8,0 8,0.1 8,0.1 8,0.2 8,0.3 8,0.3 8,0.3 8,0.2 8,0 8,-0.1 8,-0.5 8,-0.7 8,-0.8 8,-1.1 8,-1.1 8,-1.3 8,-1.4 8,-1.5 8,-1.6 8,-1.7 8,-1.8 8,-1.8 8,-2 8,-1.9 8,-2 8,-2 8,-1.9 8,-1.8 8,-1.8 8,-1.6 8,-1.4 8,-1.2 8,-1.1 8,-1 8,-1Z" fill="#c9ff00"/>
<path d="M768,480 136,480 136,356.7l8,-0.9 8,-0.7 8,-0.6 8,-0.5 8,-0.2 8,-0.2 8,0 8,0.2 8,0.4 8,0.5 8,0.6 8,0.8 8,1 8,1 8,1.2 8,1.2 8,1.3 8,1.4 8,1.4 8,1.5 8,1.5 8,1.6 8,1.7 8,1.8 8,1.9 8,1.9 8,1.9 8,1.8 8,1.5 8,1.3 8,1.2 8,1 8,1 8,0.9 8,0.9 8,0.8 8,0.8 8,0.6 8,0.5 8,0.2 8,0.2 8,0 8,-0.1 8,0 8,0 8,0.1 8,0.1 8,0.2 8,0.3 8,0.3 8,0.3 8,0.2 8,0.1 8,-0.2 8,-0.4 8,-0.7 8,-0.8 8,-1.1 8,-1.1 8,-1.3 8,-1.3 8,-1.5 8,-1.6 8,-1.7 8,-1.8 8,-1.8 8,-1.9 8,-2 8,-1.9 8,-2 8,-1.9 8,-1.8 8,-1.7 8,-1.5 8,-1.4 8,-1.3 8,-1.1 8,-1 8,-0.9Z" fill="#bdff00"/>
<path d="M768,480 136,480 136,358.1l8,-0.9 8,-0.7 8,-0.6 8,-0.4 8,-0.3 8,-0.1 8,0 8,0.2 8,0.3 8,0.5 8,0.7 8,0.8 8,0.9 8,1 8,1.2 8,1.2 8,1.3 8,1.4 8,1.4 8,1.4 8,1.6 8,1.5 8,1.7 8,1.8 8,1.9 8,1.9 8,1.9 8,1.7 8,1.6 8,1.3 8,1.1 8,1 8,0.9 8,0.9 8,0.9 8,0.8 8,0.8 8,0.6 8,0.5 8,0.2 8,0.1 8,0 8,0 8,-0.1 8,0 8,0.1 8,0.1 8,0.2 8,0.3 8,0.3 8,0.4 8,0.2 8,0.1 8,-0.2 8,-0.4 8,-0.7 8,-0.8 8,-1 8,-1.2 8,-1.2 8,-1.4 8,-1.5 8,-1.5 8,-1.7 8,-1.7 8,-1.9 8,-1.9 8,-1.9 8,-2 8,-1.9 8,-1.9 8,-1.7 8,-1.7 8,-1.5 8,-1.4 8,-1.3 8,-1.1 8,-1 8,-0.9Z" fill="#b0ff00"/>
<path d="M768,480 136,480 136,359.5l8,-0.8 8,-0.8 8,-0.5 8,-0.5 8,-0.3 8,-0.1 8,0 8,0.2 8,0.4 8,0.5 8,0.6 8,0.8 8,0.9 8,1 8,1.2 8,1.2 8,1.3 8,1.3 8,1.4 8,1.5 8,1.5 8,1.6 8,1.6 8,1.8 8,1.9 8,1.9 8,1.9 8,1.7 8,1.5 8,1.3 8,1.1 8,1 8,0.9 8,0.8 8,0.9 8,0.9 8,0.7 8,0.6 8,0.5 8,0.2 8,0.1 8,-0.1 8,0 8,-0.1 8,0 8,0.1 8,0.1 8,0.2 8,0.3 8,0.4 8,0.3 8,0.3 8,0.1 8,-0.2 8,-0.4 8,-0.7 8,-0.8 8,-1 8,-1.2 8,-1.2 8,-1.4 8,-1.4 8,-1.5 8,-1.7 8,-1.7 8,-1.9 8,-1.9 8,-1.9 8,-1.9 8,-1.9 8,-1.8 8,-1.8 8,-1.6 8,-1.6 8,-1.3 8,-1.3 8,-1.1 8,-1 8,-0.9Z" fill="#a4ff00"/>
<path d="M768,480 136,480 136,360.9l8,-0.8 8,-0.7 8,-0.6 8,-0.4 8,-0.3 8,-0.1 8,0 8,0.2 8,0.3 8,0.5 8,0.6 8,0.8 8,0.9 8,1 8,1.1 8,1.3 8,1.2 8,1.4 8,1.4 8,1.4 8,1.5 8,1.6 8,1.6 8,1.8 8,1.9 8,1.9 8,1.8 8,1.7 8,1.6 8,1.2 8,1.1 8,0.9 8,0.9 8,0.9 8,0.8 8,0.9 8,0.7 8,0.6 8,0.5 8,0.2 8,0 8,0 8,-0.1 8,-0.1 8,0 8,0.1 8,0.1 8,0.2 8,0.3 8,0.4 8,0.3 8,0.3 8,0.1 8,-0.1 8,-0.4 8,-0.7 8,-0.8 8,-1 8,-1.2 8,-1.2 8,-1.3 8,-1.5 8,-1.5 8,-1.6 8,-1.8 8,-1.8 8,-1.9 8,-1.9 8,-1.9 8,-1.8 8,-1.8 8,-1.8 8,-1.6 8,-1.5 8,-1.3 8,-1.3 8,-1.1 8,-0.9 8,-0.9Z" fill="#97ff00"/>
<path d="M768,480 136,480 136,362.3l8,-0.8 8,-0.7 8,-0.6 8,-0.4 8,-0.3 8,-0.1 8,0 8,0.2 8,0.3 8,0.5 8,0.6 8,0.8 8,0.9 8,1 8,1.1 8,1.2 8,1.3 8,1.3 8,1.4 8,1.4 8,1.5 8,1.5 8,1.7 8,1.7 8,1.9 8,1.9 8,1.9 8,1.7 8,1.5 8,1.2 8,1.1 8,0.9 8,0.8 8,0.9 8,0.8 8,0.9 8,0.7 8,0.6 8,0.4 8,0.2 8,0.1 8,-0.1 8,-0.1 8,-0.1 8,0 8,0.1 8,0.1 8,0.2 8,0.3 8,0.4 8,0.4 8,0.3 8,0.1 8,-0.2 8,-0.4 8,-0.6 8,-0.9 8,-1 8,-1.1 8,-1.2 8,-1.3 8,-1.4 8,-1.5 8,-1.7 8,-1.7 8,-1.8 8,-1.9 8,-1.9 8,-1.8 8,-1.9 8,-1.8 8,-1.7 8,-1.6 8,-1.4 8,-1.4 8,-1.2 8,-1.1 8,-1 8,-0.8Z" fill="#8bff00"/>
<path d="M768,480 136,480 136,363.7l8,-0.9 8,-0.7 8,-0.5 8,-0.4 8,-0.3 8,-0.1 8,0 8,0.2 8,0.3 8,0.5 8,0.6 8,0.8 8,0.9 8,1 8,1.1 8,1.2 8,1.2 8,1.4 8,1.3 8,1.4 8,1.5 8,1.5 8,1.6 8,1.8 8,1.9 8,1.9 8,1.8 8,1.7 8,1.5 8,1.3 8,1 8,0.9 8,0.8 8,0.8 8,0.9 8,0.8 8,0.7 8,0.6 8,0.4 8,0.2 8,0 8,-0.1 8,-0.1 8,-0.1 8,0 8,0 8,0.2 8,0.2 8,0.3 8,0.4 8,0.4 8,0.3 8,0.1 8,-0.1 8,-0.4 8,-0.6 8,-0.9 8,-1 8,-1.1 8,-1.2 8,-1.3 8,-1.4 8,-1.5 8,-1.6 8,-1.7 8,-1.8 8,-1.9 8,-1.8 8,-1.9 8,-1.8 8,-1.8 8,-1.6 8,-1.6 8,-1.5 8,-1.3 8,-1.2 8,-1.1 8,-1 8,-0.9Z" fill="#7eff00"/>
<path d="M768,480 136,480 136,365l8,-0.8 8,-0.7 8,-0.5 8,-0.4 8,-0.3 8,-0.1 8,0 8,0.2 8,0.3 8,0.5 8,0.6 8,0.8 8,0.8 8,1 8,1.1 8,1.2 8,1.3 8,1.3 8,1.3 8,1.4 8,1.4 8,1.6 8,1.6 8,1.7 8,1.9 8,1.9 8,1.9 8,1.7 8,1.4 8,1.3 8,1 8,0.8 8,0.8 8,0.8 8,0.9 8,0.8 8,0.7 8,0.6 8,0.4 8,0.1 8,0 8,-0.1 8,-0.1 8,-0.1 8,0 8,0 8,0.2 8,0.2 8,0.3 8,0.4 8,0.4 8,0.3 8,0.2 8,-0.1 8,-0.4 8,-0.7 8,-0.8 8,-1 8,-1.1 8,-1.2 8,-1.3 8,-1.4 8,-1.5 8,-1.6 8,-1.7 8,-1.8 8,-1.8 8,-1.8 8,-1.9 8,-1.8 8,-1.7 8,-1.6 8,-1.6 8,-1.4 8,-1.3 8,-1.2 8,-1.1 8,-1 8,-0.9Z" fill="#72ff00"/>
<path d="M768,480 136,480 136,366.4l8,-0.8 8,-0.7 8,-0.6 8,-0.4 8,-0.2 8,-0.1 8,0 8,0.2 8,0.3 8,0.5 8,0.6 8,0.7 8,0.9 8,1 8,1 8,1.2 8,1.3 8,1.3 8,1.3 8,1.4 8,1.4 8,1.5 8,1.6 8,1.8 8,1.8 8,1.9 8,1.9 8,1.7 8,1.5 8,1.2 8,0.9 8,0.9 8,0.8 8,0.7 8,0.9 8,0.8 8,0.7 8,0.6 8,0.3 8,0.2 8,0 8,-0.1 8,-0.2 8,-0.1 8,-0.1 8,0.1 8,0.1 8,0.3 8,0.3 8,0.4 8,0.4 8,0.4 8,0.1 8,-0.1 8,-0.4 8,-0.6 8,-0.9 8,-1 8,-1.1 8,-1.2 8,-1.2 8,-1.4 8,-1.5 8,-1.5 8,-1.7 8,-1.8 8,-1.8 8,-1.9 8,-1.8 8,-1.7 8,-1.7 8,-1.7 8,-1.5 8,-1.4 8,-1.3 8,-1.2 8,-1.1 8,-0.9 8,-0.9Z" fill="#65ff00"/>
<path d="M768,480 136,480 136,367.7l8,-0.8 8,-0.7 8,-0.5 8,-0.4 8,-0.2 8,-0.2 8,0.1 8,0.2 8,0.3 8,0.4 8,0.6 8,0.8 8,0.8 8,1 8,1.1 8,1.1 8,1.3 8,1.3 8,1.3 8,1.3 8,1.5 8,1.4 8,1.6 8,1.8 8,1.9 8,1.9 8,1.8 8,1.7 8,1.5 8,1.2 8,0.9 8,0.8 8,0.8 8,0.7 8,0.9 8,0.8 8,0.7 8,0.5 8,0.4 8,0.1 8,0 8,-0.1 8,-0.2 8,-0.1 8,-0.1 8,0.1 8,0.1 8,0.3 8,0.3 8,0.4 8,0.5 8,0.3 8,0.2 8,-0.1 8,-0.4 8,-0.7 8,-0.8 8,-1 8,-1.1 8,-1.2 8,-1.3 8,-1.3 8,-1.4 8,-1.6 8,-1.7 8,-1.7 8,-1.9 8,-1.8 8,-1.8 8,-1.7 8,-1.7 8,-1.6 8,-1.5 8,-1.4 8,-1.3 8,-1.1 8,-1.1 8,-1 8,-0.9Z" fill="#59ff00"/>
<path d="M768,480 136,480 136,369l8,-0.8 8,-0.6 8,-0.6 8,-0.3 8,-0.3 8,-0.1 8,0.1 8,0.1 8,0.4 8,0.4 8,0.6 8,0.7 8,0.8 8,1 8,1.1 8,1.1 8,1.3 8,1.3 8,1.3 8,1.3 8,1.4 8,1.5 8,1.6 8,1.7 8,1.9 8,1.9 8,1.8 8,1.7 8,1.5 8,1.2 8,0.9 8,0.8 8,0.7 8,0.8 8,0.7 8,0.8 8,0.7 8,0.6 8,0.4 8,0.1 8,-0.1 8,-0.1 8,-0.2 8,-0.2 8,0 8,0 8,0.2 8,0.2 8,0.4 8,0.4 8,0.5 8,0.3 8,0.2 8,-0.1 8,-0.4 8,-0.6 8,-0.9 8,-1 8,-1.1 8,-1.1 8,-1.3 8,-1.3 8,-1.4 8,-1.6 8,-1.7 8,-1.7 8,-1.8 8,-1.8 8,-1.8 8,-1.7 8,-1.6 8,-1.6 8,-1.5 8,-1.4 8,-1.2 8,-1.2 8,-1.1 8,-0.9 8,-0.9Z" fill="#4cff00"/>
<path d="M768,480 136,480 136,370.3l8,-0.7 8,-0.7 8,-0.5 8,-0.4 8,-0.2 8,-0.1 8,0 8,0.2 8,0.3 8,0.5 8,0.5 8,0.7 8,0.9 8,0.9 8,1.1 8,1.1 8,1.3 8,1.2 8,1.3 8,1.3 8,1.4 8,1.5 8,1.6 8,1.7 8,1.9 8,1.9 8,1.8 8,1.8 8,1.4 8,1.1 8,1 8,0.7 8,0.7 8,0.8 8,0.7 8,0.8 8,0.7 8,0.6 8,0.3 8,0.1 8,-0.1 8,-0.1 8,-0.2 8,-0.2 8,-0.1 8,0.1 8,0.1 8,0.3 8,0.4 8,0.4 8,0.5 8,0.3 8,0.2 8,-0.1 8,-0.3 8,-0.7 8,-0.8 8,-1 8,-1.1 8,-1.2 8,-1.2 8,-1.3 8,-1.5 8,-1.5 8,-1.6 8,-1.8 8,-1.7 8,-1.8 8,-1.8 8,-1.7 8,-1.6 8,-1.6 8,-1.4 8,-1.4 8,-1.2 8,-1.2 8,-1 8,-1 8,-0.9Z" fill="#40ff00"/>
<path d="M768,480 136,480 136,371.6l8,-0.7 8,-0.7 8,-0.5 8,-0.4 8,-0.2 8,-0.1 8,0.1 8,0.1 8,0.4 8,0.4 8,0.6 8,0.7 8,0.8 8,0.9 8,1.1 8,1.1 8,1.2 8,1.3 8,1.3 8,1.3 8,1.3 8,1.5 8,1.5 8,1.8 8,1.8 8,2 8,1.8 8,1.8 8,1.4 8,1.1 8,0.9 8,0.8 8,0.6 8,0.8 8,0.7 8,0.8 8,0.7 8,0.5 8,0.4 8,0.1 8,-0.1 8,-0.2 8,-0.3 8,-0.1 8,-0.1 8,0 8,0.2 8,0.3 8,0.3 8,0.5 8,0.5 8,0.3 8,0.2 8,0 8,-0.4 8,-0.7 8,-0.8 8,-1 8,-1.1 8,-1.2 8,-1.2 8,-1.3 8,-1.4 8,-1.5 8,-1.6 8,-1.7 8,-1.8 8,-1.8 8,-1.7 8,-1.7 8,-1.6 8,-1.5 8,-1.4 8,-1.4 8,-1.2 8,-1.2 8,-1 8,-1 8,-0.9Z" fill="#33ff00"/>
<path d="M768,480 136,480 136,372.9l8,-0.7 8,-0.7 8,-0.5 8,-0.3 8,-0.3 8,0 8,0 8,0.2 8,0.3 8,0.4 8,0.6 8,0.7 8,0.8 8,0.9 8,1 8,1.2 8,1.2 8,1.2 8,1.3 8,1.3 8,1.3 8,1.5 8,1.5 8,1.7 8,1.9 8,2 8,1.8 8,1.8 8,1.4 8,1.1 8,0.9 8,0.7 8,0.7 8,0.7 8,0.7 8,0.8 8,0.7 8,0.5 8,0.3 8,0.1 8,-0.1 8,-0.3 8,-0.2 8,-0.2 8,-0.1 8,0.1 8,0.1 8,0.3 8,0.4 8,0.5 8,0.5 8,0.4 8,0.2 8,-0.1 8,-0.4 8,-0.6 8,-0.9 8,-1 8,-1.1 8,-1.1 8,-1.2 8,-1.3 8,-1.4 8,-1.5 8,-1.6 8,-1.7 8,-1.8 8,-1.7 8,-1.7 8,-1.7 8,-1.6 8,-1.5 8,-1.4 8,-1.3 8,-1.2 8,-1.2 8,-1 8,-1 8,-0.9Z" fill="#27ff00"/>
<path d="M768,480 136,480 136,374.2l8,-0.7 8,-0.7 8,-0.5 8,-0.3 8,-0.2 8,-0.1 8,0 8,0.2 8,0.3 8,0.4 8,0.6 8,0.7 8,0.8 8,0.9 8,1 8,1.1 8,1.2 8,1.3 8,1.2 8,1.3 8,1.3 8,1.4 8,1.6 8,1.7 8,1.9 8,1.9 8,1.9 8,1.7 8,1.5 8,1.1 8,0.8 8,0.7 8,0.7 8,0.6 8,0.8 8,0.8 8,0.6 8,0.6 8,0.3 8,0 8,-0.1 8,-0.3 8,-0.2 8,-0.2 8,-0.1 8,0 8,0.2 8,0.3 8,0.4 8,0.5 8,0.5 8,0.4 8,0.2 8,-0.1 8,-0.4 8,-0.6 8,-0.9 8,-1 8,-1.1 8,-1.1 8,-1.2 8,-1.2 8,-1.4 8,-1.5 8,-1.6 8,-1.7 8,-1.7 8,-1.8 8,-1.7 8,-1.6 8,-1.5 8,-1.5 8,-1.4 8,-1.3 8,-1.2 8,-1.2 8,-1 8,-1 8,-0.9Z" fill="#1aff00"/>
<path d="M768,480 136,480 136,375.5l8,-0.8 8,-0.6 8,-0.5 8,-0.3 8,-0.2 8,-0.1 8,0.1 8,0.1 8,0.3 8,0.5 8,0.5 8,0.7 8,0.7 8,0.9 8,1.1 8,1.1 8,1.2 8,1.2 8,1.3 8,1.2 8,1.3 8,1.4 8,1.5 8,1.8 8,1.8 8,2 8,1.9 8,1.7 8,1.5 8,1.1 8,0.8 8,0.7 8,0.6 8,0.6 8,0.8 8,0.7 8,0.7 8,0.5 8,0.3 8,0 8,-0.1 8,-0.3 8,-0.3 8,-0.2 8,-0.1 8,0.1 8,0.1 8,0.3 8,0.4 8,0.5 8,0.6 8,0.4 8,0.2 8,-0.1 8,-0.3 8,-0.7 8,-0.9 8,-1 8,-1.1 8,-1.1 8,-1.1 8,-1.3 8,-1.3 8,-1.5 8,-1.6 8,-1.7 8,-1.7 8,-1.7 8,-1.7 8,-1.6 8,-1.5 8,-1.5 8,-1.4 8,-1.3 8,-1.2 8,-1.1 8,-1 8,-1 8,-0.9Z" fill="#11ff07"/>
<path d="M768,480 136,480 136,376.7l8,-0.7 8,-0.6 8,-0.5 8,-0.3 8,-0.2 8,-0.1 8,0.1 8,0.2 8,0.2 8,0.5 8,0.5 8,0.6 8,0.8 8,0.9 8,1 8,1.1 8,1.2 8,1.2 8,1.3 8,1.2 8,1.3 8,1.4 8,1.5 8,1.7 8,1.9 8,2 8,1.9 8,1.7 8,1.4 8,1.1 8,0.8 8,0.7 8,0.6 8,0.6 8,0.8 8,0.7 8,0.7 8,0.5 8,0.3 8,0 8,-0.2 8,-0.3 8,-0.3 8,-0.2 8,-0.1 8,0 8,0.2 8,0.3 8,0.4 8,0.5 8,0.5 8,0.5 8,0.2 8,0 8,-0.4 8,-0.7 8,-0.9 8,-1 8,-1 8,-1.2 8,-1.1 8,-1.3 8,-1.3 8,-1.4 8,-1.6 8,-1.7 8,-1.7 8,-1.7 8,-1.6 8,-1.6 8,-1.5 8,-1.5 8,-1.3 8,-1.3 8,-1.2 8,-1.1 8,-1.1 8,-0.9 8,-0.9Z" fill="#0aff14"/>
<path d="M768,480 136,480 136,378l8,-0.7 8,-0.6 8,-0.5 8,-0.3 8,-0.2 8,-0.1 8,0.1 8,0.2 8,0.2 8,0.4 8,0.6 8,0.6 8,0.8 8,0.8 8,1.1 8,1.1 8,1.1 8,1.2 8,1.3 8,1.2 8,1.2 8,1.4 8,1.5 8,1.7 8,1.9 8,2 8,1.9 8,1.8 8,1.4 8,1.1 8,0.8 8,0.6 8,0.6 8,0.6 8,0.7 8,0.8 8,0.6 8,0.5 8,0.3 8,0 8,-0.2 8,-0.3 8,-0.3 8,-0.3 8,-0.1 8,0 8,0.2 8,0.3 8,0.5 8,0.5 8,0.5 8,0.5 8,0.2 8,0 8,-0.4 8,-0.7 8,-0.9 8,-1 8,-1 8,-1.1 8,-1.2 8,-1.2 8,-1.3 8,-1.5 8,-1.5 8,-1.7 8,-1.7 8,-1.6 8,-1.7 8,-1.6 8,-1.4 8,-1.5 8,-1.3 8,-1.3 8,-1.1 8,-1.2 8,-1 8,-0.9 8,-0.9Z" fill="#03ff21"/>
<path d="M768,480 136,480 136,379.2l8,-0.7 8,-0.6 8,-0.4 8,-0.3 8,-0.2 8,-0.1 8,0.1 8,0.1 8,0.3 8,0.4 8,0.5 8,0.7 8,0.7 8,0.9 8,1 8,1.1 8,1.1 8,1.2 8,1.2 8,1.2 8,1.3 8,1.3 8,1.5 8,1.7 8,2 8,1.9 8,2 8,1.7 8,1.5 8,1 8,0.8 8,0.6 8,0.6 8,0.6 8,0.7 8,0.7 8,0.7 8,0.5 8,0.2 8,0 8,-0.2 8,-0.4 8,-0.3 8,-0.2 8,-0.2 8,0.1 8,0.2 8,0.3 8,0.4 8,0.6 8,0.5 8,0.5 8,0.2 8,0 8,-0.4 8,-0.7 8,-0.9 8,-1 8,-1 8,-1.1 8,-1.2 8,-1.2 8,-1.3 8,-1.4 8,-1.5 8,-1.7 8,-1.6 8,-1.7 8,-1.6 8,-1.6 8,-1.5 8,-1.4 8,-1.3 8,-1.2 8,-1.2 8,-1.1 8,-1 8,-1 8,-0.9Z" fill="#00ff30"/>
<path d="M768,480 136,480 136,380.5l8,-0.8 8,-0.5 8,-0.5 8,-0.3 8,-0.2 8,0 8,0 8,0.2 8,0.3 8,0.4 8,0.5 8,0.6 8,0.7 8,0.9 8,1 8,1.1 8,1.1 8,1.2 8,1.2 8,1.2 8,1.2 8,1.4 8,1.4 8,1.8 8,1.9 8,2 8,1.9 8,1.8 8,1.4 8,1.1 8,0.8 8,0.6 8,0.5 8,0.6 8,0.7 8,0.7 8,0.6 8,0.5 8,0.2 8,0 8,-0.2 8,-0.4 8,-0.3 8,-0.3 8,-0.1 8,0 8,0.2 8,0.3 8,0.5 8,0.5 8,0.6 8,0.4 8,0.3 8,0 8,-0.4 8,-0.7 8,-0.9 8,-1 8,-1 8,-1.1 8,-1.1 8,-1.2 8,-1.3 8,-1.4 8,-1.5 8,-1.7 8,-1.6 8,-1.7 8,-1.6 8,-1.5 8,-1.5 8,-1.4 8,-1.3 8,-1.2 8,-1.2 8,-1.1 8,-1 8,-1 8,-0.8Z" fill="#00ff41"/>
<path d="M768,480 136,480 136,381.7l8,-0.7 8,-0.6 8,-0.4 8,-0.3 8,-0.2 8,0 8,0 8,0.2 8,0.3 8,0.3 8,0.5 8,0.6 8,0.8 8,0.8 8,1 8,1.1 8,1.1 8,1.2 8,1.2 8,1.1 8,1.3 8,1.3 8,1.4 8,1.8 8,1.9 8,2 8,2 8,1.7 8,1.5 8,1 8,0.8 8,0.6 8,0.5 8,0.6 8,0.6 8,0.7 8,0.7 8,0.4 8,0.3 8,-0.1 8,-0.3 8,-0.3 8,-0.4 8,-0.3 8,-0.1 8,0.1 8,0.1 8,0.4 8,0.4 8,0.6 8,0.6 8,0.4 8,0.3 8,0 8,-0.4 8,-0.7 8,-0.9 8,-1 8,-1 8,-1.1 8,-1.1 8,-1.2 8,-1.2 8,-1.4 8,-1.5 8,-1.7 8,-1.6 8,-1.7 8,-1.6 8,-1.5 8,-1.4 8,-1.4 8,-1.3 8,-1.2 8,-1.2 8,-1 8,-1.1 8,-0.9 8,-0.9Z" fill="#00ff52"/>
<path d="M768,480 136,480 136,382.9l8,-0.7 8,-0.6 8,-0.4 8,-0.3 8,-0.1 8,-0.1 8,0.1 8,0.1 8,0.3 8,0.4 8,0.5 8,0.6 8,0.7 8,0.8 8,1 8,1.1 8,1.1 8,1.2 8,1.1 8,1.2 8,1.2 8,1.3 8,1.4 8,1.7 8,2 8,2 8,2 8,1.8 8,1.4 8,1.1 8,0.7 8,0.6 8,0.5 8,0.5 8,0.7 8,0.7 8,0.6 8,0.5 8,0.2 8,-0.1 8,-0.3 8,-0.4 8,-0.3 8,-0.3 8,-0.2 8,0.1 8,0.2 8,0.3 8,0.5 8,0.6 8,0.5 8,0.5 8,0.3 8,-0.1 8,-0.3 8,-0.7 8,-0.9 8,-1 8,-1.1 8,-1 8,-1.1 8,-1.1 8,-1.3 8,-1.4 8,-1.5 8,-1.6 8,-1.6 8,-1.6 8,-1.6 8,-1.5 8,-1.4 8,-1.4 8,-1.3 8,-1.2 8,-1.1 8,-1.1 8,-1 8,-1 8,-0.9Z" fill="#00ff63"/>
<path d="M768,480 136,480 136,384.1l8,-0.7 8,-0.6 8,-0.4 8,-0.2 8,-0.2 8,0 8,0 8,0.2 8,0.3 8,0.3 8,0.5 8,0.6 8,0.7 8,0.8 8,1 8,1.1 8,1.1 8,1.1 8,1.2 8,1.1 8,1.2 8,1.3 8,1.4 8,1.7 8,2 8,2 8,2 8,1.8 8,1.4 8,1.1 8,0.7 8,0.6 8,0.5 8,0.5 8,0.7 8,0.6 8,0.7 8,0.4 8,0.2 8,-0.1 8,-0.3 8,-0.4 8,-0.4 8,-0.3 8,-0.1 8,0 8,0.2 8,0.4 8,0.4 8,0.6 8,0.6 8,0.5 8,0.3 8,-0.1 8,-0.4 8,-0.6 8,-0.9 8,-1 8,-1.1 8,-1 8,-1.1 8,-1.1 8,-1.2 8,-1.4 8,-1.5 8,-1.6 8,-1.6 8,-1.6 8,-1.6 8,-1.5 8,-1.4 8,-1.3 8,-1.3 8,-1.2 8,-1.1 8,-1.1 8,-1 8,-1 8,-0.9Z" fill="#00ff74"/>
<path d="M768,480 136,480 136,385.3l8,-0.7 8,-0.5 8,-0.4 8,-0.3 8,-0.2 8,0 8,0.1 8,0.1 8,0.3 8,0.4 8,0.4 8,0.6 8,0.7 8,0.8 8,1 8,1 8,1.2 8,1.1 8,1.1 8,1.1 8,1.2 8,1.2 8,1.5 8,1.7 8,1.9 8,2.1 8,2 8,1.8 8,1.5 8,1 8,0.7 8,0.6 8,0.4 8,0.6 8,0.6 8,0.7 8,0.6 8,0.4 8,0.2 8,-0.1 8,-0.3 8,-0.4 8,-0.4 8,-0.4 8,-0.1 8,0 8,0.2 8,0.4 8,0.5 8,0.6 8,0.6 8,0.5 8,0.2 8,0 8,-0.4 8,-0.7 8,-0.8 8,-1 8,-1.1 8,-1 8,-1.1 8,-1.1 8,-1.2 8,-1.3 8,-1.5 8,-1.6 8,-1.6 8,-1.6 8,-1.6 8,-1.4 8,-1.4 8,-1.4 8,-1.2 8,-1.2 8,-1.2 8,-1 8,-1 8,-1 8,-0.9Z" fill="#00ff86"/>
<path d="M768,480 136,480 136,386.4l8,-0.6 8,-0.5 8,-0.4 8,-0.3 8,-0.1 8,-0.1 8,0.1 8,0.2 8,0.2 8,0.4 8,0.4 8,0.6 8,0.7 8,0.8 8,1 8,1 8,1.1 8,1.1 8,1.1 8,1.1 8,1.2 8,1.2 8,1.4 8,1.7 8,2 8,2.1 8,2 8,1.8 8,1.5 8,1 8,0.7 8,0.6 8,0.4 8,0.5 8,0.7 8,0.6 8,0.6 8,0.5 8,0.1 8,-0.1 8,-0.3 8,-0.5 8,-0.4 8,-0.3 8,-0.2 8,0.1 8,0.2 8,0.3 8,0.5 8,0.6 8,0.6 8,0.5 8,0.3 8,0 8,-0.4 8,-0.7 8,-0.9 8,-1 8,-1 8,-1 8,-1 8,-1.1 8,-1.2 8,-1.3 8,-1.5 8,-1.6 8,-1.6 8,-1.6 8,-1.5 8,-1.5 8,-1.4 8,-1.3 8,-1.3 8,-1.1 8,-1.2 8,-1.1 8,-1 8,-0.9 8,-0.9Z" fill="#00ff97"/>
<path d="M768,480 136,480 136,387.6l8,-0.7 8,-0.5 8,-0.3 8,-0.3 8,-0.1 8,-0.1 8,0.1 8,0.2 8,0.2 8,0.4 8,0.4 8,0.6 8,0.7 8,0.8 8,0.9 8,1.1 8,1.1 8,1.1 8,1.1 8,1 8,1.1 8,1.3 8,1.4 8,1.7 8,1.9 8,2.1 8,2.1 8,1.8 8,1.5 8,1 8,0.7 8,0.6 8,0.4 8,0.5 8,0.6 8,0.7 8,0.6 8,0.4 8,0.1 8,-0.1 8,-0.4 8,-0.4 8,-0.5 8,-0.3 8,-0.1 8,0 8,0.2 8,0.4 8,0.5 8,0.6 8,0.6 8,0.5 8,0.3 8,-0.1 8,-0.3 8,-0.7 8,-0.9 8,-1 8,-1 8,-1 8,-1 8,-1.1 8,-1.2 8,-1.3 8,-1.4 8,-1.6 8,-1.6 8,-1.6 8,-1.5 8,-1.5 8,-1.4 8,-1.3 8,-1.2 8,-1.2 8,-1.1 8,-1.1 8,-1 8,-0.9 8,-0.9Z" fill="#00ffa8"/>
<path d="M768,480 136,480 136,388.7l8,-0.6 8,-0.5 8,-0.3 8,-0.3 8,-0.1 8,0 8,0 8,0.2 8,0.2 8,0.4 8,0.4 8,0.6 8,0.6 8,0.9 8,0.9 8,1 8,1.1 8,1.1 8,1.1 8,1 8,1.1 8,1.2 8,1.4 8,1.7 8,2 8,2.1 8,2 8,1.9 8,1.5 8,1 8,0.7 8,0.5 8,0.5 8,0.5 8,0.6 8,0.6 8,0.6 8,0.4 8,0.1 8,-0.1 8,-0.4 8,-0.5 8,-0.4 8,-0.4 8,-0.1 8,0 8,0.2 8,0.4 8,0.5 8,0.6 8,0.6 8,0.5 8,0.3 8,0 8,-0.4 8,-0.6 8,-0.9 8,-1 8,-1 8,-1 8,-1 8,-1 8,-1.2 8,-1.3 8,-1.4 8,-1.6 8,-1.6 8,-1.5 8,-1.6 8,-1.4 8,-1.4 8,-1.3 8,-1.3 8,-1.1 8,-1.2 8,-1 8,-1 8,-1 8,-0.8Z" fill="#00ffb6"/>
<path d="M768,480 136,480 136,389.9l8,-0.6 8,-0.5 8,-0.3 8,-0.3 8,-0.1 8,0 8,0 8,0.2 8,0.2 8,0.3 8,0.5 8,0.5 8,0.7 8,0.8 8,0.9 8,1.1 8,1 8,1.1 8,1.1 8,1 8,1.1 8,1.2 8,1.4 8,1.6 8,2 8,2.1 8,2.1 8,1.9 8,1.5 8,1 8,0.7 8,0.5 8,0.4 8,0.5 8,0.6 8,0.7 8,0.5 8,0.4 8,0.2 8,-0.2 8,-0.4 8,-0.5 8,-0.5 8,-0.3 8,-0.2 8,0.1 8,0.2 8,0.3 8,0.6 8,0.6 8,0.6 8,0.5 8,0.3 8,0 8,-0.4 8,-0.7 8,-0.9 8,-0.9 8,-1 8,-1 8,-1 8,-1 8,-1.1 8,-1.3 8,-1.4 8,-1.6 8,-1.5 8,-1.6 8,-1.6 8,-1.4 8,-1.4 8,-1.3 8,-1.2 8,-1.2 8,-1.1 8,-1.1 8,-1 8,-0.9 8,-0.9Z" fill="#00ffc6"/>
<path d="M768,480 136,480 136,391l8,-0.6 8,-0.4 8,-0.4 8,-0.2 8,-0.1 8,-0.1 8,0.1 8,0.1 8,0.3 8,0.3 8,0.5 8,0.5 8,0.7 8,0.8 8,0.9 8,1 8,1.1 8,1 8,1.1 8,1 8,1 8,1.2 8,1.4 8,1.7 8,1.9 8,2.2 8,2.1 8,1.8 8,1.5 8,1.1 8,0.7 8,0.5 8,0.4 8,0.5 8,0.6 8,0.6 8,0.6 8,0.3 8,0.1 8,-0.1 8,-0.4 8,-0.5 8,-0.5 8,-0.4 8,-0.1 8,0 8,0.2 8,0.4 8,0.5 8,0.6 8,0.6 8,0.6 8,0.3 8,-0.1 8,-0.4 8,-0.6 8,-0.9 8,-1 8,-1 8,-0.9 8,-1 8,-1 8,-1.1 8,-1.2 8,-1.4 8,-1.6 8,-1.5 8,-1.6 8,-1.6 8,-1.4 8,-1.4 8,-1.3 8,-1.2 8,-1.2 8,-1.1 8,-1 8,-1 8,-1 8,-0.8Z" fill="#00ffd4"/>
<path d="M768,480 136,480 136,392.1l8,-0.5 8,-0.5 8,-0.3 8,-0.2 8,-0.1 8,-0.1 8,0.1 8,0.1 8,0.3 8,0.3 8,0.4 8,0.6 8,0.6 8,0.8 8,0.9 8,1 8,1.1 8,1 8,1.1 8,0.9 8,1.1 8,1.1 8,1.4 8,1.7 8,2 8,2.1 8,2.1 8,1.9 8,1.5 8,1.1 8,0.7 8,0.5 8,0.4 8,0.4 8,0.6 8,0.6 8,0.6 8,0.3 8,0.1 8,-0.2 8,-0.4 8,-0.5 8,-0.5 8,-0.4 8,-0.1 8,0 8,0.2 8,0.4 8,0.5 8,0.7 8,0.6 8,0.5 8,0.3 8,0 8,-0.4 8,-0.7 8,-0.8 8,-1 8,-1 8,-0.9 8,-0.9 8,-1 8,-1.1 8,-1.2 8,-1.4 8,-1.6 8,-1.5 8,-1.6 8,-1.6 8,-1.4 8,-1.4 8,-1.2 8,-1.3 8,-1.1 8,-1.1 8,-1.1 8,-1 8,-0.9 8,-0.9Z" fill="#00ffe4"/>
<path d="M768,480 136,480 136,393.3l8,-0.6 8,-0.4 8,-0.4 8,-0.2 8,-0.1 8,0 8,0 8,0.2 8,0.2 8,0.3 8,0.5 8,0.5 8,0.7 8,0.7 8,1 8,1 8,1 8,1 8,1 8,1 8,1 8,1.1 8,1.4 8,1.7 8,2 8,2.1 8,2.1 8,1.9 8,1.6 8,1 8,0.7 8,0.5 8,0.4 8,0.5 8,0.6 8,0.6 8,0.5 8,0.4 8,0 8,-0.2 8,-0.4 8,-0.5 8,-0.5 8,-0.4 8,-0.2 8,0.1 8,0.2 8,0.4 8,0.5 8,0.6 8,0.6 8,0.5 8,0.4 8,-0.1 8,-0.3 8,-0.7 8,-0.9 8,-0.9 8,-1 8,-0.9 8,-0.9 8,-1 8,-1 8,-1.2 8,-1.4 8,-1.6 8,-1.5 8,-1.6 8,-1.5 8,-1.5 8,-1.3 8,-1.3 8,-1.2 8,-1.2 8,-1.1 8,-1.1 8,-1 8,-0.9 8,-0.9Z" fill="#00fdee"/>
<path d="M768,480 136,480 136,394.4l8,-0.6 8,-0.4 8,-0.3 8,-0.2 8,-0.1 8,0 8,0 8,0.1 8,0.3 8,0.3 8,0.4 8,0.5 8,0.7 8,0.8 8,0.9 8,1 8,1 8,1 8,1 8,0.9 8,1 8,1.1 8,1.4 8,1.7 8,2 8,2.1 8,2.1 8,2 8,1.5 8,1.1 8,0.7 8,0.5 8,0.4 8,0.5 8,0.5 8,0.6 8,0.5 8,0.4 8,0 8,-0.2 8,-0.5 8,-0.5 8,-0.5 8,-0.4 8,-0.1 8,0 8,0.2 8,0.4 8,0.5 8,0.6 8,0.7 8,0.5 8,0.3 8,0 8,-0.4 8,-0.7 8,-0.8 8,-1 8,-0.9 8,-0.9 8,-0.9 8,-0.9 8,-1.1 8,-1.2 8,-1.3 8,-1.6 8,-1.5 8,-1.6 8,-1.5 8,-1.5 8,-1.3 8,-1.3 8,-1.2 8,-1.2 8,-1.1 8,-1.1 8,-1 8,-0.9 8,-0.8Z" fill="#00faf5"/>
<path d="M768,480 136,480 136,395.5l8,-0.6 8,-0.4 8,-0.3 8,-0.1 8,-0.2 8,0 8,0 8,0.2 8,0.2 8,0.3 8,0.4 8,0.6 8,0.6 8,0.8 8,0.9 8,1 8,1 8,1 8,1 8,0.9 8,0.9 8,1.1 8,1.4 8,1.6 8,2 8,2.2 8,2.2 8,1.9 8,1.6 8,1 8,0.8 8,0.4 8,0.4 8,0.5 8,0.6 8,0.5 8,0.5 8,0.4 8,0 8,-0.2 8,-0.5 8,-0.5 8,-0.6 8,-0.4 8,-0.1 8,0 8,0.2 8,0.4 8,0.6 8,0.6 8,0.6 8,0.5 8,0.3 8,0 8,-0.4 8,-0.6 8,-0.9 8,-0.9 8,-0.9 8,-0.9 8,-0.8 8,-1 8,-1 8,-1.2 8,-1.3 8,-1.6 8,-1.5 8,-1.6 8,-1.5 8,-1.5 8,-1.3 8,-1.3 8,-1.2 8,-1.2 8,-1.1 8,-1.1 8,-1 8,-0.9 8,-0.8Z" fill="#00f7fc"/>
<path d="M768,480 136,480 136,396.6l8,-0.6 8,-0.4 8,-0.2 8,-0.2 8,-0.1 8,-0.1 8,0.1 8,0.1 8,0.2 8,0.3 8,0.5 8,0.5 8,0.6 8,0.8 8,0.9 8,1 8,1 8,1 8,0.9 8,0.9 8,1 8,1 8,1.4 8,1.6 8,2 8,2.2 8,2.2 8,1.9 8,1.6 8,1.1 8,0.7 8,0.5 8,0.4 8,0.4 8,0.6 8,0.6 8,0.4 8,0.4 8,0 8,-0.3 8,-0.4 8,-0.6 8,-0.5 8,-0.4 8,-0.2 8,0.1 8,0.2 8,0.4 8,0.5 8,0.6 8,0.7 8,0.5 8,0.3 8,0 8,-0.4 8,-0.7 8,-0.8 8,-0.9 8,-0.9 8,-0.9 8,-0.8 8,-0.9 8,-1 8,-1.2 8,-1.3 8,-1.6 8,-1.5 8,-1.6 8,-1.6 8,-1.4 8,-1.4 8,-1.2 8,-1.3 8,-1.1 8,-1.1 8,-1.1 8,-1 8,-0.9 8,-0.8Z" fill="#00edff"/>
<path d="M768,480 136,480 136,397.6l8,-0.5 8,-0.4 8,-0.2 8,-0.2 8,-0.1 8,0 8,0 8,0.1 8,0.2 8,0.3 8,0.5 8,0.5 8,0.6 8,0.8 8,0.9 8,1 8,1 8,0.9 8,1 8,0.8 8,1 8,1 8,1.3 8,1.7 8,2 8,2.2 8,2.2 8,1.9 8,1.6 8,1.1 8,0.7 8,0.5 8,0.4 8,0.5 8,0.5 8,0.6 8,0.5 8,0.3 8,0 8,-0.3 8,-0.5 8,-0.6 8,-0.5 8,-0.4 8,-0.2 8,0.1 8,0.2 8,0.4 8,0.5 8,0.7 8,0.6 8,0.5 8,0.3 8,0 8,-0.4 8,-0.6 8,-0.8 8,-0.9 8,-0.9 8,-0.9 8,-0.8 8,-0.8 8,-1 8,-1.2 8,-1.3 8,-1.6 8,-1.5 8,-1.6 8,-1.6 8,-1.4 8,-1.4 8,-1.3 8,-1.2 8,-1.1 8,-1.2 8,-1 8,-1 8,-0.9 8,-0.9Z" fill="#00dcff"/>
<path d="M768,480 136,480 136,398.7l8,-0.5 8,-0.4 8,-0.2 8,-0.2 8,-0.1 8,0 8,0 8,0.1 8,0.2 8,0.4 8,0.4 8,0.5 8,0.6 8,0.8 8,0.9 8,0.9 8,1 8,1 8,0.9 8,0.9 8,0.9 8,1 8,1.3 8,1.7 8,2 8,2.2 8,2.2 8,1.9 8,1.6 8,1.1 8,0.8 8,0.5 8,0.4 8,0.4 8,0.6 8,0.5 8,0.5 8,0.3 8,0 8,-0.3 8,-0.5 8,-0.6 8,-0.6 8,-0.4 8,-0.1 8,0 8,0.2 8,0.4 8,0.6 8,0.6 8,0.6 8,0.5 8,0.3 8,0 8,-0.3 8,-0.7 8,-0.8 8,-0.9 8,-0.8 8,-0.8 8,-0.8 8,-0.9 8,-0.9 8,-1.2 8,-1.4 8,-1.5 8,-1.5 8,-1.6 8,-1.6 8,-1.4 8,-1.4 8,-1.3 8,-1.2 8,-1.2 8,-1.1 8,-1.1 8,-1 8,-0.9 8,-0.8Z" fill="#00cbff"/>
<path d="M768,480 136,480 136,399.8l8,-0.5 8,-0.4 8,-0.2 8,-0.1 8,-0.1 8,-0.1 8,0 8,0.1 8,0.2 8,0.3 8,0.5 8,0.5 8,0.6 8,0.8 8,0.9 8,0.9 8,1 8,0.9 8,0.9 8,0.9 8,0.9 8,1 8,1.3 8,1.6 8,2 8,2.2 8,2.2 8,2 8,1.6 8,1.2 8,0.7 8,0.5 8,0.4 8,0.5 8,0.5 8,0.5 8,0.5 8,0.2 8,0 8,-0.3 8,-0.5 8,-0.6 8,-0.5 8,-0.4 8,-0.2 8,0 8,0.3 8,0.4 8,0.5 8,0.6 8,0.7 8,0.5 8,0.3 8,0 8,-0.4 8,-0.6 8,-0.8 8,-0.9 8,-0.8 8,-0.8 8,-0.8 8,-0.8 8,-1 8,-1.1 8,-1.4 8,-1.5 8,-1.5 8,-1.6 8,-1.6 8,-1.4 8,-1.4 8,-1.3 8,-1.2 8,-1.2 8,-1.1 8,-1.1 8,-1 8,-0.9 8,-0.8Z" fill="#00bbff"/>
<path d="M768,480 136,480 136,400.8l8,-0.4 8,-0.4 8,-0.2 8,-0.1 8,-0.1 8,-0.1 8,0 8,0.1 8,0.2 8,0.3 8,0.4 8,0.6 8,0.6 8,0.8 8,0.9 8,0.9 8,1 8,0.9 8,0.9 8,0.8 8,0.9 8,1 8,1.2 8,1.7 8,2 8,2.2 8,2.2 8,2 8,1.6 8,1.2 8,0.7 8,0.6 8,0.4 8,0.4 8,0.5 8,0.5 8,0.5 8,0.2 8,0 8,-0.3 8,-0.5 8,-0.6 8,-0.6 8,-0.4 8,-0.2 8,0.1 8,0.2 8,0.4 8,0.5 8,0.7 8,0.6 8,0.5 8,0.3 8,0 8,-0.4 8,-0.6 8,-0.8 8,-0.8 8,-0.9 8,-0.7 8,-0.8 8,-0.8 8,-0.9 8,-1.1 8,-1.4 8,-1.5 8,-1.6 8,-1.6 8,-1.5 8,-1.5 8,-1.3 8,-1.3 8,-1.3 8,-1.2 8,-1.1 8,-1.1 8,-1 8,-0.9 8,-0.8Z" fill="#00abff"/>
<path d="M768,480 136,480 136,401.9l8,-0.5 8,-0.3 8,-0.2 8,-0.1 8,-0.1 8,-0.1 8,0 8,0.1 8,0.2 8,0.3 8,0.4 8,0.6 8,0.6 8,0.8 8,0.8 8,1 8,0.9 8,0.9 8,0.9 8,0.8 8,0.9 8,0.9 8,1.3 8,1.6 8,2 8,2.3 8,2.2 8,2 8,1.6 8,1.2 8,0.7 8,0.6 8,0.4 8,0.4 8,0.5 8,0.6 8,0.4 8,0.2 8,0 8,-0.3 8,-0.6 8,-0.6 8,-0.5 8,-0.4 8,-0.2 8,0 8,0.2 8,0.4 8,0.6 8,0.6 8,0.6 8,0.5 8,0.3 8,0 8,-0.3 8,-0.6 8,-0.8 8,-0.8 8,-0.9 8,-0.7 8,-0.7 8,-0.8 8,-0.9 8,-1.1 8,-1.4 8,-1.5 8,-1.6 8,-1.6 8,-1.5 8,-1.5 8,-1.4 8,-1.3 8,-1.2 8,-1.2 8,-1.2 8,-1 8,-1 8,-0.9 8,-0.8Z" fill="#009aff"/>
<path d="M768,480 136,480 136,402.9l8,-0.4 8,-0.3 8,-0.2 8,-0.1 8,-0.1 8,-0.1 8,0 8,0.1 8,0.2 8,0.3 8,0.4 8,0.5 8,0.7 8,0.7 8,0.9 8,0.9 8,1 8,0.9 8,0.8 8,0.8 8,0.8 8,1 8,1.3 8,1.6 8,2 8,2.2 8,2.2 8,2.1 8,1.6 8,1.2 8,0.8 8,0.5 8,0.4 8,0.5 8,0.5 8,0.5 8,0.4 8,0.2 8,0 8,-0.4 8,-0.5 8,-0.6 8,-0.6 8,-0.4 8,-0.2 8,0.1 8,0.2 8,0.4 8,0.5 8,0.6 8,0.6 8,0.5 8,0.3 8,0 8,-0.3 8,-0.6 8,-0.8 8,-0.8 8,-0.8 8,-0.7 8,-0.7 8,-0.7 8,-0.9 8,-1.1 8,-1.4 8,-1.5 8,-1.6 8,-1.6 8,-1.6 8,-1.4 8,-1.4 8,-1.3 8,-1.3 8,-1.2 8,-1.1 8,-1.1 8,-1 8,-0.9 8,-0.8Z" fill="#008aff"/>
<path d="M768,480 136,480 136,404l8,-0.5 8,-0.3 8,-0.1 8,-0.2 8,-0.1 8,0 8,0 8,0.1 8,0.1 8,0.3 8,0.5 8,0.5 8,0.6 8,0.8 8,0.9 8,0.9 8,0.9 8,0.9 8,0.8 8,0.8 8,0.8 8,1 8,1.2 8,1.6 8,2 8,2.2 8,2.3 8,2 8,1.7 8,1.2 8,0.8 8,0.5 8,0.4 8,0.5 8,0.5 8,0.5 8,0.4 8,0.2 8,-0.1 8,-0.3 8,-0.6 8,-0.6 8,-0.6 8,-0.4 8,-0.2 8,0.1 8,0.2 8,0.4 8,0.5 8,0.7 8,0.6 8,0.5 8,0.3 8,0 8,-0.4 8,-0.6 8,-0.7 8,-0.8 8,-0.8 8,-0.7 8,-0.6 8,-0.8 8,-0.9 8,-1.1 8,-1.3 8,-1.5 8,-1.6 8,-1.6 8,-1.6 8,-1.5 8,-1.4 8,-1.3 8,-1.3 8,-1.1 8,-1.2 8,-1.1 8,-1 8,-0.9 8,-0.7Z" fill="#007dff"/>
<path d="M768,480 136,480 136,405l8,-0.4 8,-0.3 8,-0.2 8,-0.1 8,-0.1 8,0 8,-0.1 8,0.1 8,0.2 8,0.3 8,0.4 8,0.6 8,0.6 8,0.8 8,0.8 8,0.9 8,0.9 8,0.9 8,0.8 8,0.8 8,0.8 8,0.9 8,1.3 8,1.6 8,2 8,2.2 8,2.2 8,2.1 8,1.7 8,1.1 8,0.9 8,0.5 8,0.5 8,0.4 8,0.5 8,0.5 8,0.4 8,0.2 8,-0.1 8,-0.4 8,-0.5 8,-0.7 8,-0.5 8,-0.4 8,-0.2 8,0 8,0.3 8,0.4 8,0.5 8,0.6 8,0.6 8,0.5 8,0.3 8,0 8,-0.3 8,-0.6 8,-0.7 8,-0.8 8,-0.8 8,-0.6 8,-0.7 8,-0.7 8,-0.9 8,-1.1 8,-1.3 8,-1.5 8,-1.6 8,-1.7 8,-1.6 8,-1.4 8,-1.4 8,-1.4 8,-1.2 8,-1.2 8,-1.2 8,-1.1 8,-1 8,-0.9 8,-0.7Z" fill="#0073ff"/>
<path d="M768,480 136,480 136,406l8,-0.4 8,-0.2 8,-0.2 8,-0.1 8,-0.1 8,-0.1 8,0 8,0.1 8,0.1 8,0.3 8,0.5 8,0.5 8,0.7 8,0.7 8,0.9 8,0.9 8,0.9 8,0.8 8,0.9 8,0.7 8,0.8 8,0.9 8,1.2 8,1.6 8,2 8,2.2 8,2.3 8,2 8,1.7 8,1.2 8,0.8 8,0.6 8,0.5 8,0.4 8,0.5 8,0.5 8,0.4 8,0.1 8,0 8,-0.4 8,-0.6 8,-0.6 8,-0.6 8,-0.4 8,-0.2 8,0.1 8,0.2 8,0.4 8,0.5 8,0.6 8,0.6 8,0.5 8,0.3 8,0 8,-0.3 8,-0.6 8,-0.7 8,-0.7 8,-0.8 8,-0.6 8,-0.7 8,-0.7 8,-0.8 8,-1.1 8,-1.3 8,-1.5 8,-1.7 8,-1.6 8,-1.6 8,-1.5 8,-1.4 8,-1.3 8,-1.3 8,-1.2 8,-1.2 8,-1.1 8,-1 8,-0.9 8,-0.7Z" fill="#0069ff"/>
<path d="M768,480 136,480 136,407.1l8,-0.5 8,-0.2 8,-0.1 8,-0.1 8,-0.1 8,-0.1 8,0 8,0 8,0.2 8,0.3 8,0.4 8,0.6 8,0.6 8,0.8 8,0.8 8,0.9 8,0.9 8,0.9 8,0.8 8,0.7 8,0.7 8,1 8,1.2 8,1.6 8,1.9 8,2.3 8,2.2 8,2.1 8,1.7 8,1.2 8,0.8 8,0.6 8,0.5 8,0.4 8,0.5 8,0.5 8,0.4 8,0.1 8,-0.1 8,-0.4 8,-0.5 8,-0.7 8,-0.6 8,-0.4 8,-0.2 8,0.1 8,0.2 8,0.4 8,0.5 8,0.6 8,0.6 8,0.5 8,0.3 8,0 8,-0.3 8,-0.5 8,-0.7 8,-0.8 8,-0.7 8,-0.6 8,-0.6 8,-0.7 8,-0.8 8,-1.1 8,-1.3 8,-1.6 8,-1.6 8,-1.6 8,-1.7 8,-1.5 8,-1.4 8,-1.3 8,-1.3 8,-1.2 8,-1.2 8,-1.1 8,-1 8,-0.9 8,-0.7Z" fill="#005fff"/>
<path d="M768,480 136,480 136,408.1l8,-0.4 8,-0.3 8,-0.1 8,-0.1 8,-0.1 8,-0.1 8,0 8,0.1 8,0.1 8,0.3 8,0.5 8,0.5 8,0.7 8,0.7 8,0.8 8,0.9 8,0.9 8,0.9 8,0.7 8,0.8 8,0.7 8,0.9 8,1.2 8,1.6 8,2 8,2.2 8,2.2 8,2.1 8,1.7 8,1.2 8,0.9 8,0.6 8,0.5 8,0.4 8,0.5 8,0.5 8,0.3 8,0.2 8,-0.1 8,-0.4 8,-0.6 8,-0.6 8,-0.6 8,-0.4 8,-0.2 8,0 8,0.3 8,0.4 8,0.5 8,0.6 8,0.6 8,0.4 8,0.3 8,0.1 8,-0.3 8,-0.6 8,-0.6 8,-0.8 8,-0.7 8,-0.6 8,-0.6 8,-0.7 8,-0.8 8,-1.1 8,-1.3 8,-1.5 8,-1.6 8,-1.7 8,-1.6 8,-1.5 8,-1.5 8,-1.3 8,-1.3 8,-1.2 8,-1.2 8,-1.1 8,-1 8,-0.9 8,-0.7Z" fill="#0055ff"/>
<path d="M768,480 136,480 136,409.1l8,-0.4 8,-0.2 8,-0.1 8,-0.1 8,-0.1 8,-0.1 8,-0.1 8,0.1 8,0.2 8,0.3 8,0.4 8,0.5 8,0.7 8,0.7 8,0.9 8,0.9 8,0.8 8,0.9 8,0.7 8,0.7 8,0.8 8,0.9 8,1.2 8,1.5 8,2 8,2.2 8,2.3 8,2 8,1.8 8,1.2 8,0.9 8,0.6 8,0.5 8,0.4 8,0.5 8,0.5 8,0.3 8,0.2 8,-0.1 8,-0.5 8,-0.5 8,-0.7 8,-0.6 8,-0.4 8,-0.2 8,0.1 8,0.2 8,0.4 8,0.5 8,0.6 8,0.6 8,0.5 8,0.3 8,0 8,-0.3 8,-0.5 8,-0.7 8,-0.7 8,-0.7 8,-0.5 8,-0.6 8,-0.7 8,-0.8 8,-1.1 8,-1.3 8,-1.5 8,-1.7 8,-1.7 8,-1.6 8,-1.5 8,-1.4 8,-1.4 8,-1.3 8,-1.2 8,-1.2 8,-1.1 8,-1 8,-0.9 8,-0.7Z" fill="#0048ff"/>
<path d="M768,480 136,480 136,410.1l8,-0.4 8,-0.2 8,-0.1 8,-0.1 8,-0.1 8,-0.1 8,0 8,0 8,0.2 8,0.3 8,0.4 8,0.6 8,0.6 8,0.8 8,0.8 8,0.9 8,0.8 8,0.9 8,0.7 8,0.7 8,0.8 8,0.9 8,1.1 8,1.6 8,2 8,2.2 8,2.2 8,2.1 8,1.7 8,1.2 8,0.9 8,0.7 8,0.5 8,0.4 8,0.5 8,0.5 8,0.3 8,0.2 8,-0.2 8,-0.4 8,-0.6 8,-0.7 8,-0.6 8,-0.4 8,-0.1 8,0 8,0.2 8,0.4 8,0.5 8,0.6 8,0.6 8,0.5 8,0.3 8,0 8,-0.3 8,-0.5 8,-0.6 8,-0.7 8,-0.6 8,-0.6 8,-0.6 8,-0.7 8,-0.8 8,-1 8,-1.4 8,-1.5 8,-1.6 8,-1.7 8,-1.7 8,-1.5 8,-1.4 8,-1.4 8,-1.3 8,-1.2 8,-1.2 8,-1.1 8,-1 8,-0.9 8,-0.7Z" fill="#0037ff"/>
<path d="M768,480 136,480 136,411.1l8,-0.4 8,-0.2 8,-0.1 8,-0.1 8,-0.1 8,-0.1 8,0 8,0 8,0.2 8,0.3 8,0.4 8,0.6 8,0.7 8,0.7 8,0.8 8,0.9 8,0.9 8,0.8 8,0.7 8,0.7 8,0.7 8,0.9 8,1.2 8,1.5 8,2 8,2.2 8,2.2 8,2.1 8,1.7 8,1.3 8,0.9 8,0.7 8,0.5 8,0.4 8,0.5 8,0.5 8,0.3 8,0.1 8,-0.1 8,-0.4 8,-0.7 8,-0.6 8,-0.6 8,-0.4 8,-0.2 8,0 8,0.3 8,0.4 8,0.5 8,0.6 8,0.5 8,0.5 8,0.3 8,0 8,-0.2 8,-0.5 8,-0.6 8,-0.7 8,-0.6 8,-0.6 8,-0.6 8,-0.6 8,-0.8 8,-1.1 8,-1.3 8,-1.6 8,-1.6 8,-1.7 8,-1.7 8,-1.5 8,-1.4 8,-1.4 8,-1.3 8,-1.2 8,-1.2 8,-1.2 8,-1 8,-0.8 8,-0.7Z" fill="#0026ff"/>
<path d="M768,480 136,480 136,412.1l8,-0.4 8,-0.2 8,-0.1 8,0 8,-0.1 8,-0.1 8,-0.1 8,0 8,0.2 8,0.3 8,0.4 8,0.6 8,0.7 8,0.7 8,0.8 8,0.9 8,0.9 8,0.8 8,0.7 8,0.7 8,0.7 8,0.9 8,1.2 8,1.5 8,1.9 8,2.2 8,2.2 8,2.1 8,1.7 8,1.3 8,1 8,0.6 8,0.6 8,0.4 8,0.5 8,0.5 8,0.3 8,0.1 8,-0.2 8,-0.4 8,-0.6 8,-0.7 8,-0.6 8,-0.4 8,-0.2 8,0.1 8,0.2 8,0.4 8,0.5 8,0.6 8,0.6 8,0.4 8,0.3 8,0.1 8,-0.3 8,-0.5 8,-0.6 8,-0.6 8,-0.6 8,-0.6 8,-0.6 8,-0.6 8,-0.8 8,-1.1 8,-1.3 8,-1.5 8,-1.7 8,-1.7 8,-1.6 8,-1.6 8,-1.4 8,-1.4 8,-1.3 8,-1.3 8,-1.2 8,-1.1 8,-1 8,-0.9 8,-0.7Z" fill="#001cff"/>
<path d="M768,480 136,480 136,413.1l8,-0.4 8,-0.1 8,-0.1 8,-0.1 8,-0.1 8,-0.1 8,-0.1 8,0.1 8,0.1 8,0.3 8,0.5 8,0.5 8,0.7 8,0.7 8,0.9 8,0.8 8,0.9 8,0.8 8,0.7 8,0.7 8,0.7 8,0.9 8,1.1 8,1.6 8,1.9 8,2.2 8,2.2 8,2 8,1.8 8,1.3 8,0.9 8,0.7 8,0.5 8,0.5 8,0.5 8,0.5 8,0.3 8,0.1 8,-0.2 8,-0.4 8,-0.7 8,-0.6 8,-0.7 8,-0.4 8,-0.2 8,0.1 8,0.2 8,0.4 8,0.5 8,0.6 8,0.6 8,0.4 8,0.3 8,0.1 8,-0.3 8,-0.4 8,-0.6 8,-0.6 8,-0.6 8,-0.6 8,-0.5 8,-0.7 8,-0.8 8,-1 8,-1.4 8,-1.5 8,-1.7 8,-1.7 8,-1.6 8,-1.6 8,-1.5 8,-1.3 8,-1.3 8,-1.3 8,-1.2 8,-1.1 8,-1 8,-0.9 8,-0.7Z" fill="#0018ff"/>
<path d="M768,480 136,480 136,414.1l8,-0.4 8,-0.1 8,-0.1 8,-0.1 8,-0.1 8,-0.1 8,-0.1 8,0.1 8,0.1 8,0.3 8,0.5 8,0.5 8,0.7 8,0.8 8,0.8 8,0.8 8,0.8 8,0.8 8,0.8 8,0.7 8,0.7 8,0.8 8,1.2 8,1.5 8,1.9 8,2.2 8,2.2 8,2.1 8,1.7 8,1.3 8,0.9 8,0.8 8,0.5 8,0.5 8,0.5 8,0.4 8,0.3 8,0.1 8,-0.1 8,-0.5 8,-0.6 8,-0.7 8,-0.6 8,-0.5 8,-0.1 8,0 8,0.3 8,0.4 8,0.5 8,0.5 8,0.6 8,0.5 8,0.3 8,0 8,-0.2 8,-0.4 8,-0.6 8,-0.6 8,-0.6 8,-0.6 8,-0.5 8,-0.7 8,-0.8 8,-1 8,-1.4 8,-1.5 8,-1.7 8,-1.7 8,-1.7 8,-1.5 8,-1.5 8,-1.4 8,-1.3 8,-1.2 8,-1.3 8,-1.1 8,-1 8,-0.8 8,-0.7Z" fill="#0013ff"/>
<path d="M768,480 136,480 136,415l8,-0.3 8,-0.1 8,-0.1 8,-0.1 8,-0.1 8,-0.1 8,-0.1 8,0.1 8,0.1 8,0.3 8,0.5 8,0.5 8,0.7 8,0.8 8,0.8 8,0.8 8,0.8 8,0.8 8,0.8 8,0.6 8,0.8 8,0.8 8,1.2 8,1.5 8,1.9 8,2.1 8,2.2 8,2.1 8,1.7 8,1.3 8,1 8,0.7 8,0.6 8,0.5 8,0.5 8,0.4 8,0.3 8,0.1 8,-0.2 8,-0.4 8,-0.7 8,-0.7 8,-0.6 8,-0.4 8,-0.2 8,0.1 8,0.2 8,0.4 8,0.5 8,0.6 8,0.5 8,0.5 8,0.3 8,0.1 8,-0.3 8,-0.4 8,-0.5 8,-0.6 8,-0.6 8,-0.6 8,-0.5 8,-0.7 8,-0.8 8,-1.1 8,-1.3 8,-1.6 8,-1.6 8,-1.7 8,-1.7 8,-1.5 8,-1.5 8,-1.4 8,-1.3 8,-1.3 8,-1.2 8,-1.1 8,-1 8,-0.9 8,-0.7Z" fill="#000fff"/>
<path d="M768,480 136,480 136,416l8,-0.3 8,-0.1 8,-0.1 8,-0.1 8,-0.1 8,-0.1 8,0 8,0 8,0.1 8,0.3 8,0.5 8,0.5 8,0.7 8,0.8 8,0.8 8,0.8 8,0.8 8,0.8 8,0.7 8,0.7 8,0.7 8,0.9 8,1.2 8,1.5 8,1.9 8,2.1 8,2.2 8,2 8,1.7 8,1.3 8,1 8,0.8 8,0.5 8,0.6 8,0.5 8,0.4 8,0.3 8,0.1 8,-0.2 8,-0.5 8,-0.6 8,-0.7 8,-0.7 8,-0.4 8,-0.2 8,0.1 8,0.2 8,0.4 8,0.5 8,0.6 8,0.6 8,0.4 8,0.3 8,0.1 8,-0.2 8,-0.4 8,-0.6 8,-0.5 8,-0.6 8,-0.6 8,-0.5 8,-0.7 8,-0.8 8,-1.1 8,-1.3 8,-1.6 8,-1.7 8,-1.7 8,-1.6 8,-1.6 8,-1.4 8,-1.4 8,-1.4 8,-1.2 8,-1.2 8,-1.2 8,-1 8,-0.8 8,-0.7Z" fill="#000bff"/>
<path d="M768,480 136,480 136,417l8,-0.3 8,-0.1 8,-0.1 8,-0.1 8,-0.1 8,-0.1 8,0 8,0 8,0.1 8,0.3 8,0.5 8,0.6 8,0.6 8,0.8 8,0.8 8,0.8 8,0.8 8,0.8 8,0.7 8,0.7 8,0.7 8,0.9 8,1.2 8,1.5 8,1.8 8,2.1 8,2.2 8,2 8,1.7 8,1.3 8,1 8,0.8 8,0.6 8,0.5 8,0.6 8,0.4 8,0.3 8,0.1 8,-0.2 8,-0.5 8,-0.7 8,-0.7 8,-0.6 8,-0.5 8,-0.2 8,0.1 8,0.3 8,0.4 8,0.5 8,0.5 8,0.6 8,0.5 8,0.3 8,0 8,-0.1 8,-0.4 8,-0.6 8,-0.5 8,-0.6 8,-0.6 8,-0.5 8,-0.7 8,-0.8 8,-1.1 8,-1.4 8,-1.5 8,-1.7 8,-1.7 8,-1.7 8,-1.5 8,-1.5 8,-1.4 8,-1.3 8,-1.3 8,-1.2 8,-1.1 8,-1 8,-0.9 8,-0.7Z" fill="#0006ff"/>
<path d="M768,480 136,480 136,418l8,-0.3 8,-0.2 8,0 8,-0.1 8,-0.1 8,-0.1 8,0 8,0 8,0.1 8,0.3 8,0.5 8,0.5 8,0.7 8,0.8 8,0.8 8,0.8 8,0.8 8,0.8 8,0.7 8,0.7 8,0.7 8,0.9 8,1.2 8,1.5 8,1.8 8,2.1 8,2.1 8,2 8,1.7 8,1.4 8,1 8,0.7 8,0.7 8,0.5 8,0.5 8,0.5 8,0.3 8,0 8,-0.2 8,-0.5 8,-0.6 8,-0.8 8,-0.6 8,-0.5 8,-0.1 8,0 8,0.3 8,0.4 8,0.5 8,0.6 8,0.5 8,0.5 8,0.3 8,0.1 8,-0.2 8,-0.4 8,-0.5 8,-0.5 8,-0.6 8,-0.6 8,-0.5 8,-0.7 8,-0.9 8,-1.1 8,-1.3 8,-1.6 8,-1.7 8,-1.7 8,-1.6 8,-1.6 8,-1.5 8,-1.3 8,-1.4 8,-1.2 8,-1.3 8,-1.1 8,-1 8,-0.9 8,-0.6Z" fill="#0002ff"/>
<path d="M768,480 136,480 136,419l8,-0.3 8,-0.2 8,0 8,-0.1 8,-0.1 8,-0.1 8,-0.1 8,0.1 8,0.1 8,0.3 8,0.5 8,0.5 8,0.7 8,0.7 8,0.8 8,0.8 8,0.9 8,0.7 8,0.8 8,0.7 8,0.7 8,0.9 8,1.2 8,1.5 8,1.8 8,2.1 8,2.1 8,1.9 8,1.7 8,1.4 8,1 8,0.8 8,0.6 8,0.6 8,0.5 8,0.4 8,0.3 8,0.1 8,-0.2 8,-0.5 8,-0.7 8,-0.7 8,-0.7 8,-0.4 8,-0.2 8,0 8,0.3 8,0.4 8,0.5 8,0.6 8,0.6 8,0.4 8,0.4 8,0 8,-0.1 8,-0.4 8,-0.5 8,-0.5 8,-0.6 8,-0.6 8,-0.6 8,-0.7 8,-0.9 8,-1.1 8,-1.3 8,-1.6 8,-1.7 8,-1.7 8,-1.6 8,-1.6 8,-1.4 8,-1.4 8,-1.3 8,-1.3 8,-1.2 8,-1.1 8,-1.1 8,-0.8 8,-0.6Z" fill="#0400fc"/>
<path d="M768,480 136,480 136,419.9l8,-0.3 8,-0.1 8,0 8,-0.1 8,-0.1 8,-0.1 8,-0.1 8,0.1 8,0.1 8,0.3 8,0.5 8,0.5 8,0.7 8,0.7 8,0.8 8,0.8 8,0.8 8,0.8 8,0.8 8,0.7 8,0.8 8,0.9 8,1.1 8,1.5 8,1.8 8,2.1 8,2 8,2 8,1.6 8,1.4 8,1 8,0.8 8,0.6 8,0.6 8,0.6 8,0.4 8,0.3 8,0.1 8,-0.2 8,-0.6 8,-0.7 8,-0.7 8,-0.7 8,-0.4 8,-0.2 8,0 8,0.3 8,0.4 8,0.5 8,0.6 8,0.6 8,0.5 8,0.3 8,0.1 8,-0.1 8,-0.4 8,-0.5 8,-0.5 8,-0.6 8,-0.6 8,-0.6 8,-0.7 8,-0.9 8,-1.2 8,-1.4 8,-1.5 8,-1.7 8,-1.7 8,-1.6 8,-1.5 8,-1.5 8,-1.4 8,-1.3 8,-1.2 8,-1.3 8,-1.1 8,-1 8,-0.9 8,-0.6Z" fill="#0b00f7"/>
<path d="M768,480 136,480 136,420.9l8,-0.3 8,-0.1 8,-0.1 8,0 8,-0.1 8,-0.1 8,-0.1 8,0.1 8,0.1 8,0.3 8,0.5 8,0.5 8,0.7 8,0.7 8,0.8 8,0.8 8,0.8 8,0.8 8,0.7 8,0.8 8,0.8 8,0.9 8,1.2 8,1.5 8,1.8 8,1.9 8,2.1 8,1.9 8,1.7 8,1.3 8,1 8,0.8 8,0.7 8,0.6 8,0.5 8,0.5 8,0.3 8,0.1 8,-0.3 8,-0.5 8,-0.7 8,-0.8 8,-0.6 8,-0.5 8,-0.2 8,0.1 8,0.2 8,0.4 8,0.6 8,0.6 8,0.5 8,0.5 8,0.4 8,0.1 8,-0.2 8,-0.3 8,-0.5 8,-0.5 8,-0.6 8,-0.6 8,-0.7 8,-0.7 8,-1 8,-1.1 8,-1.4 8,-1.5 8,-1.7 8,-1.7 8,-1.6 8,-1.5 8,-1.5 8,-1.3 8,-1.3 8,-1.3 8,-1.2 8,-1.2 8,-1 8,-0.8 8,-0.7Z" fill="#1a00f0"/>
<path d="M768,480 136,480 136,421.9l8,-0.3 8,-0.1 8,-0.1 8,0 8,-0.1 8,-0.1 8,-0.1 8,0.1 8,0.1 8,0.3 8,0.5 8,0.5 8,0.7 8,0.7 8,0.8 8,0.8 8,0.8 8,0.8 8,0.7 8,0.8 8,0.8 8,1 8,1.1 8,1.5 8,1.8 8,2 8,1.9 8,1.9 8,1.7 8,1.3 8,1 8,0.8 8,0.7 8,0.6 8,0.6 8,0.5 8,0.3 8,0 8,-0.2 8,-0.5 8,-0.8 8,-0.7 8,-0.7 8,-0.5 8,-0.2 8,0.1 8,0.2 8,0.5 8,0.5 8,0.6 8,0.6 8,0.5 8,0.3 8,0.2 8,-0.2 8,-0.3 8,-0.5 8,-0.5 8,-0.6 8,-0.7 8,-0.6 8,-0.8 8,-1 8,-1.2 8,-1.4 8,-1.5 8,-1.7 8,-1.6 8,-1.6 8,-1.5 8,-1.5 8,-1.3 8,-1.3 8,-1.3 8,-1.2 8,-1.1 8,-1 8,-0.9 8,-0.6Z" fill="#3100e6"/>
<path d="M768,480 136,480 136,422.8l8,-0.2 8,-0.2 8,0 8,0 8,-0.1 8,-0.1 8,-0.1 8,0.1 8,0.1 8,0.3 8,0.5 8,0.5 8,0.7 8,0.7 8,0.7 8,0.8 8,0.8 8,0.8 8,0.8 8,0.8 8,0.8 8,1 8,1.2 8,1.5 8,1.7 8,2 8,1.9 8,1.9 8,1.6 8,1.3 8,1 8,0.8 8,0.7 8,0.7 8,0.5 8,0.5 8,0.3 8,0.1 8,-0.2 8,-0.6 8,-0.7 8,-0.8 8,-0.7 8,-0.5 8,-0.2 8,0.1 8,0.2 8,0.5 8,0.5 8,0.6 8,0.6 8,0.5 8,0.4 8,0.1 8,-0.1 8,-0.3 8,-0.5 8,-0.5 8,-0.7 8,-0.6 8,-0.7 8,-0.9 8,-1 8,-1.2 8,-1.4 8,-1.5 8,-1.6 8,-1.7 8,-1.6 8,-1.5 8,-1.4 8,-1.3 8,-1.3 8,-1.2 8,-1.3 8,-1.1 8,-1 8,-0.8 8,-0.7Z" fill="#4600de"/>
<path d="M768,480 136,480 136,423.8l8,-0.3 8,-0.1 8,0 8,-0.1 8,0 8,-0.1 8,-0.1 8,0.1 8,0.1 8,0.3 8,0.5 8,0.5 8,0.6 8,0.7 8,0.8 8,0.8 8,0.8 8,0.8 8,0.8 8,0.8 8,0.9 8,1 8,1.2 8,1.5 8,1.7 8,1.9 8,1.9 8,1.8 8,1.6 8,1.3 8,1 8,0.8 8,0.7 8,0.7 8,0.6 8,0.5 8,0.3 8,0.1 8,-0.3 8,-0.5 8,-0.8 8,-0.8 8,-0.7 8,-0.5 8,-0.2 8,0.1 8,0.2 8,0.5 8,0.5 8,0.7 8,0.6 8,0.5 8,0.4 8,0.1 8,-0.1 8,-0.3 8,-0.4 8,-0.6 8,-0.7 8,-0.7 8,-0.7 8,-0.9 8,-1.1 8,-1.2 8,-1.4 8,-1.5 8,-1.6 8,-1.7 8,-1.5 8,-1.5 8,-1.4 8,-1.3 8,-1.3 8,-1.2 8,-1.2 8,-1.1 8,-1.1 8,-0.8 8,-0.6Z" fill="#5a00d9"/>
<path d="M768,480 136,480 136,424.8l8,-0.3 8,-0.1 8,-0.1 8,0 8,-0.1 8,0 8,-0.1 8,0.1 8,0.1 8,0.3 8,0.5 8,0.5 8,0.6 8,0.7 8,0.8 8,0.7 8,0.8 8,0.9 8,0.8 8,0.9 8,0.9 8,1 8,1.2 8,1.5 8,1.7 8,1.8 8,1.9 8,1.8 8,1.5 8,1.3 8,1 8,0.8 8,0.7 8,0.7 8,0.6 8,0.6 8,0.3 8,0.1 8,-0.3 8,-0.6 8,-0.7 8,-0.9 8,-0.7 8,-0.5 8,-0.2 8,0 8,0.3 8,0.5 8,0.6 8,0.6 8,0.6 8,0.6 8,0.4 8,0.1 8,0 8,-0.3 8,-0.5 8,-0.6 8,-0.7 8,-0.7 8,-0.9 8,-0.9 8,-1.1 8,-1.2 8,-1.4 8,-1.6 8,-1.6 8,-1.6 8,-1.5 8,-1.4 8,-1.4 8,-1.3 8,-1.3 8,-1.2 8,-1.2 8,-1.1 8,-1 8,-0.8 8,-0.7Z" fill="#6e00d3"/>
<path d="M768,480 136,480 136,425.8l8,-0.3 8,-0.1 8,-0.1 8,0 8,-0.1 8,-0.1 8,0 8,0.1 8,0.1 8,0.3 8,0.5 8,0.5 8,0.6 8,0.7 8,0.7 8,0.8 8,0.8 8,0.8 8,0.9 8,0.9 8,0.9 8,1.1 8,1.3 8,1.4 8,1.7 8,1.8 8,1.8 8,1.7 8,1.5 8,1.3 8,1 8,0.8 8,0.8 8,0.6 8,0.7 8,0.5 8,0.4 8,0 8,-0.2 8,-0.6 8,-0.8 8,-0.8 8,-0.8 8,-0.5 8,-0.2 8,0 8,0.3 8,0.5 8,0.6 8,0.6 8,0.7 8,0.5 8,0.5 8,0.1 8,0 8,-0.3 8,-0.5 8,-0.6 8,-0.7 8,-0.8 8,-0.9 8,-1 8,-1.1 8,-1.3 8,-1.4 8,-1.6 8,-1.5 8,-1.6 8,-1.5 8,-1.4 8,-1.3 8,-1.3 8,-1.2 8,-1.3 8,-1.1 8,-1.2 8,-1 8,-0.8 8,-0.6Z" fill="#7e00ce"/>
<path d="M768,480 136,480 136,426.7l8,-0.2 8,-0.2 8,0 8,-0.1 8,0 8,-0.1 8,0 8,0.1 8,0.2 8,0.3 8,0.4 8,0.5 8,0.6 8,0.6 8,0.8 8,0.7 8,0.9 8,0.8 8,0.9 8,0.9 8,1 8,1.1 8,1.3 8,1.5 8,1.6 8,1.8 8,1.7 8,1.7 8,1.5 8,1.2 8,1 8,0.8 8,0.7 8,0.7 8,0.7 8,0.6 8,0.3 8,0.1 8,-0.2 8,-0.6 8,-0.8 8,-0.9 8,-0.8 8,-0.6 8,-0.2 8,0.1 8,0.3 8,0.5 8,0.6 8,0.7 8,0.6 8,0.6 8,0.5 8,0.2 8,-0.1 8,-0.3 8,-0.5 8,-0.6 8,-0.8 8,-0.8 8,-1 8,-1 8,-1.2 8,-1.3 8,-1.5 8,-1.5 8,-1.5 8,-1.5 8,-1.5 8,-1.4 8,-1.3 8,-1.2 8,-1.2 8,-1.2 8,-1.2 8,-1.1 8,-1 8,-0.8 8,-0.6Z" fill="#8a00ca"/>
<path d="M768,480 136,480 136,427.7l8,-0.3 8,-0.1 8,-0.1 8,0 8,0 8,-0.1 8,0 8,0.1 8,0.2 8,0.3 8,0.4 8,0.5 8,0.5 8,0.7 8,0.7 8,0.8 8,0.8 8,0.9 8,0.9 8,1 8,1 8,1.2 8,1.3 8,1.5 8,1.6 8,1.7 8,1.7 8,1.6 8,1.4 8,1.2 8,0.9 8,0.9 8,0.7 8,0.7 8,0.7 8,0.6 8,0.4 8,0.1 8,-0.2 8,-0.6 8,-0.9 8,-0.9 8,-0.8 8,-0.6 8,-0.2 8,0.1 8,0.3 8,0.5 8,0.6 8,0.7 8,0.7 8,0.6 8,0.5 8,0.2 8,0 8,-0.3 8,-0.5 8,-0.7 8,-0.8 8,-0.9 8,-1.1 8,-1.1 8,-1.3 8,-1.3 8,-1.4 8,-1.5 8,-1.5 8,-1.5 8,-1.4 8,-1.4 8,-1.2 8,-1.2 8,-1.2 8,-1.2 8,-1.2 8,-1.1 8,-0.9 8,-0.9 8,-0.6Z" fill="#9500c5"/>
</g>
<g clip-path="url(#plot)" fill="#000" shape-rendering="crispEdges">
<path d="M136,291.5 140.9,290.7 145.8,290 150.8,289.3 155.7,288.7 160.6,288.2 165.6,287.8 170.5,287.6 175.4,287.4 180.3,287.3 185.2,287.3 190.2,287.4 195.1,287.6 200,287.8 204.9,288.2 209.9,288.5 214.8,289 219.7,289.4 224.6,290 229.6,290.7 234.5,291.4 239.4,292.2 244.3,293.2 249.3,294.2 254.2,295.3 259.1,296.5 264,297.8 269,299.1 273.9,300.4 278.8,301.8 283.8,303.1 288.7,304.4 293.6,305.7 298.5,307 303.4,308.3 308.4,309.6 313.3,310.9 318.2,312.3 323.1,313.7 328.1,315.2 333,316.7 333,318.7 328.1,317.2 323.1,315.7 318.2,314.3 313.3,312.9 308.4,311.6 303.4,310.3 298.5,309 293.6,307.7 288.7,306.4 283.8,305.1 278.8,303.8 273.9,302.4 269,301.1 264,299.8 259.1,298.5 254.2,297.3 249.3,296.2 244.3,295.2 239.4,294.2 234.5,293.4 229.6,292.7 224.6,292 219.7,291.4 214.8,291 209.9,290.5 204.9,290.2 200,289.8 195.1,289.6 190.2,289.4 185.2,289.3 180.3,289.3 175.4,289.4 170.5,289.6 165.6,289.8 160.6,290.2 155.7,290.7 150.8,291.3 145.8,292 140.9,292.7 136,293.5ZM378,331.2 383,332.7 388,334.1 393,335.5 398,336.8 403,338.1 408,339.2 413,340.3 418,341.2 423,342.1 428,342.9 433,343.7 438,344.3 443,344.9 448,345.4 453,345.8 458,346.2 463,346.5 468,346.7 473,347 478,347.1 483,347.3 488,347.4 493,347.5 498,347.6 503,347.7 508,347.7 513,347.7 518,347.8 523,347.8 528,347.8 533,347.7 538,347.7 543,347.6 548,347.5 553,347.3 558,347 563,346.6 568,346.1 573,345.6 578,344.9 583,344.1 588,343.3 593,342.3 598,341.3 603,340.1 608,338.9 613,337.7 618,336.3 623,334.9 628,333.4 633,331.9 638,330.3 643,328.7 648,327 653,325.3 658,323.6 663,321.8 668,320.1 673,318.3 678,316.6 683,314.8 688,313.1 693,311.5 698,309.8 703,308.2 708,306.7 713,305.1 718,303.7 723,302.2 728,300.9 733,299.5 738,298.3 743,297.1 748,295.9 753,294.8 758,293.8 763,292.8 768,291.9 768,293.9 763,294.8 758,295.8 753,296.8 748,297.9 743,299.1 738,300.3 733,301.5 728,302.9 723,304.2 718,305.7 713,307.1 708,308.7 703,310.2 698,311.8 693,313.5 688,315.1 683,316.8 678,318.6 673,320.3 668,322.1 663,323.8 658,325.6 653,327.3 648,329 643,330.7 638,332.3 633,333.9 628,335.4 623,336.9 618,338.3 613,339.7 608,340.9 603,342.1 598,343.3 593,344.3 588,345.3 583,346.1 578,346.9 573,347.6 568,348.1 563,348.6 558,349 553,349.3 548,349.5 543,349.6 538,349.7 533,349.7 528,349.8 523,349.8 518,349.8 513,349.7 508,349.7 503,349.7 498,349.6 493,349.5 488,349.4 483,349.3 478,349.1 473,349 468,348.7 463,348.5 458,348.2 453,347.8 448,347.4 443,346.9 438,346.3 433,345.7 428,344.9 423,344.1 418,343.2 413,342.3 408,341.2 403,340.1 398,338.8 393,337.5 388,336.1 383,334.7 378,333.2Z"/>
<path d="M136,302.9 141,302.2 146,301.5 150.9,300.9 155.9,300.4 160.9,299.9 165.9,299.6 170.8,299.3 175.8,299.2 180.8,299.1 185.8,299.1 190.7,299.2 195.7,299.4 200.7,299.6 205.7,299.9 210.6,300.3 215.6,300.7 220.6,301.1 225.6,301.7 230.6,302.3 235.5,303 240.5,303.7 245.5,304.6 250.5,305.5 255.4,306.6 260.4,307.7 265.4,308.8 270.4,310 275.3,311.2 280.3,312.5 285.3,313.7 290.3,315 295.2,316.2 300.2,317.5 305.2,318.7 310.2,320 315.1,321.3 320.1,322.7 325.1,324.1 330.1,325.6 335.1,327.1 340,328.7 345,330.2 350,331.8 355,333.4 359.9,335 364.9,336.5 369.9,338 374.9,339.4 379.8,340.8 384.8,342.1 389.8,343.3 394.8,344.5 399.7,345.6 404.7,346.6 409.7,347.6 414.7,348.5 419.7,349.4 424.6,350.2 429.6,350.9 434.6,351.5 439.6,352.1 444.5,352.6 449.5,353 454.5,353.4 459.5,353.7 464.4,353.9 469.4,354.1 474.4,354.3 479.4,354.4 484.3,354.6 489.3,354.7 494.3,354.8 499.3,354.9 504.3,354.9 509.2,355 514.2,355.1 519.2,355.1 524.2,355.2 529.1,355.3 534.1,355.3 539.1,355.3 544.1,355.2 549,355.1 554,355 559,354.7 564,354.4 568.9,353.9 573.9,353.4 578.9,352.7 583.9,351.9 588.9,351.1 593.8,350.1 598.8,349.1 603.8,348 608.8,346.9 613.7,345.6 618.7,344.3 623.7,343 628.7,341.6 633.6,340.2 638.6,338.8 643.6,337.3 648.6,335.8 653.5,334.3 658.5,332.8 663.5,331.2 668.5,329.7 673.4,328.1 678.4,326.6 683.4,325 688.4,323.4 693.4,321.8 698.3,320.2 703.3,318.6 708.3,317.1 713.3,315.6 718.2,314.1 723.2,312.7 728.2,311.4 733.2,310.2 738.1,309 743.1,307.9 748.1,306.9 753.1,306 758,305.1 763,304.2 768,303.4 768,304.4 763,305.2 758,306.1 753.1,307 748.1,307.9 743.1,308.9 738.1,310 733.2,311.2 728.2,312.4 723.2,313.7 718.2,315.1 713.3,316.6 708.3,318.1 703.3,319.6 698.3,321.2 693.4,322.8 688.4,324.4 683.4,326 678.4,327.6 673.4,329.1 668.5,330.7 663.5,332.2 658.5,333.8 653.5,335.3 648.6,336.8 643.6,338.3 638.6,339.8 633.6,341.2 628.7,342.6 623.7,344 618.7,345.3 613.7,346.6 608.8,347.9 603.8,349 598.8,350.1 593.8,351.1 588.9,352.1 583.9,352.9 578.9,353.7 573.9,354.4 568.9,354.9 564,355.4 559,355.7 554,356 549,356.1 544.1,356.2 539.1,356.3 534.1,356.3 529.1,356.3 524.2,356.2 519.2,356.1 514.2,356.1 509.2,356 504.3,355.9 499.3,355.9 494.3,355.8 489.3,355.7 484.3,355.6 479.4,355.4 474.4,355.3 469.4,355.1 464.4,354.9 459.5,354.7 454.5,354.4 449.5,354 444.5,353.6 439.6,353.1 434.6,352.5 429.6,351.9 424.6,351.2 419.7,350.4 414.7,349.5 409.7,348.6 404.7,347.6 399.7,346.6 394.8,345.5 389.8,344.3 384.8,343.1 379.8,341.8 374.9,340.4 369.9,339 364.9,337.5 359.9,336 355,334.4 350,332.8 345,331.2 340,329.7 335.1,328.1 330.1,326.6 325.1,325.1 320.1,323.7 315.1,322.3 310.2,321 305.2,319.7 300.2,318.5 295.2,317.2 290.3,316 285.3,314.7 280.3,313.5 275.3,312.2 270.4,311 265.4,309.8 260.4,308.7 255.4,307.6 250.5,306.5 245.5,305.6 240.5,304.7 235.5,304 230.6,303.3 225.6,302.7 220.6,302.1 215.6,301.7 210.6,301.3 205.7,300.9 200.7,300.6 195.7,300.4 190.7,300.2 185.8,300.1 180.8,300.1 175.8,300.2 170.8,300.3 165.9,300.6 160.9,300.9 155.9,301.4 150.9,301.9 146,302.5 141,303.2 136,303.9Z"/>
<path d="M136,312.5 140.9,311.8 145.8,311.2 150.8,310.7 155.7,310.2 160.6,309.8 165.6,309.5 170.5,309.2 175.4,309.1 180.3,309 185.2,309 190.2,309.1 195.1,309.2 200,309.4 204.9,309.7 209.9,310 214.8,310.3 219.7,310.8 224.6,311.2 229.6,311.8 234.5,312.4 239.4,313.1 244.3,313.8 249.3,314.7 254.2,315.6 259.1,316.6 264,317.6 269,318.7 273.9,319.8 278.8,320.9 283.8,322.1 288.7,323.2 293.6,324.4 298.5,325.5 303.4,326.7 308.4,327.9 313.3,329.2 318.2,330.5 323.1,331.8 328.1,333.2 333,334.7 333,336.7 328.1,335.2 323.1,333.8 318.2,332.5 313.3,331.2 308.4,329.9 303.4,328.7 298.5,327.5 293.6,326.4 288.7,325.2 283.8,324.1 278.8,322.9 273.9,321.8 269,320.7 264,319.6 259.1,318.6 254.2,317.6 249.3,316.7 244.3,315.8 239.4,315.1 234.5,314.4 229.6,313.8 224.6,313.2 219.7,312.8 214.8,312.3 209.9,312 204.9,311.7 200,311.4 195.1,311.2 190.2,311.1 185.2,311 180.3,311 175.4,311.1 170.5,311.2 165.6,311.5 160.6,311.8 155.7,312.2 150.8,312.7 145.8,313.2 140.9,313.8 136,314.5ZM378,347.6 383,348.8 388,350 393,351 398,352 403,353 408,353.9 413,354.8 418,355.6 423,356.3 428,357 433,357.6 438,358.2 443,358.7 448,359.1 453,359.4 458,359.7 463,359.9 468,360.1 473,360.3 478,360.4 483,360.5 488,360.6 493,360.7 498,360.8 503,360.9 508,361 513,361.1 518,361.1 523,361.2 528,361.3 533,361.4 538,361.4 543,361.4 548,361.4 553,361.3 558,361.1 563,360.8 568,360.4 573,359.9 578,359.3 583,358.6 588,357.9 593,357 598,356 603,355 608,353.9 613,352.8 618,351.5 623,350.3 628,349 633,347.7 638,346.4 643,345 648,343.6 653,342.3 658,340.9 663,339.5 668,338 673,336.6 678,335.1 683,333.6 688,332.1 693,330.5 698,329 703,327.4 708,325.9 713,324.4 718,323 723,321.6 728,320.4 733,319.2 738,318.1 743,317.1 748,316.2 753,315.3 758,314.5 763,313.7 768,313 768,315 763,315.7 758,316.5 753,317.3 748,318.2 743,319.1 738,320.1 733,321.2 728,322.4 723,323.6 718,325 713,326.4 708,327.9 703,329.4 698,331 693,332.5 688,334.1 683,335.6 678,337.1 673,338.6 668,340 663,341.5 658,342.9 653,344.3 648,345.6 643,347 638,348.4 633,349.7 628,351 623,352.3 618,353.5 613,354.8 608,355.9 603,357 598,358 593,359 588,359.9 583,360.6 578,361.3 573,361.9 568,362.4 563,362.8 558,363.1 553,363.3 548,363.4 543,363.4 538,363.4 533,363.4 528,363.3 523,363.2 518,363.1 513,363.1 508,363 503,362.9 498,362.8 493,362.7 488,362.6 483,362.5 478,362.4 473,362.3 468,362.1 463,361.9 458,361.7 453,361.4 448,361.1 443,360.7 438,360.2 433,359.6 428,359 423,358.3 418,357.6 413,356.8 408,355.9 403,355 398,354 393,353 388,352 383,350.8 378,349.6Z"/>
<path d="M136,322.4 141,321.8 146,321.2 150.9,320.7 155.9,320.2 160.9,319.8 165.9,319.5 170.8,319.3 175.8,319.1 180.8,319.1 185.8,319 190.7,319.1 195.7,319.2 200.7,319.4 205.7,319.7 210.6,320 215.6,320.3 220.6,320.8 225.6,321.3 230.6,321.8 235.5,322.4 240.5,323.1 245.5,323.8 250.5,324.6 255.4,325.5 260.4,326.4 265.4,327.4 270.4,328.4 275.3,329.5 280.3,330.5 285.3,331.6 290.3,332.7 295.2,333.8 300.2,335 305.2,336.1 310.2,337.3 315.1,338.5 320.1,339.8 325.1,341.1 330.1,342.5 335.1,343.9 340,345.4 345,346.8 350,348.3 355,349.7 359.9,351 364.9,352.4 369.9,353.6 374.9,354.8 379.8,355.9 384.8,356.9 389.8,357.9 394.8,358.9 399.7,359.7 404.7,360.6 409.7,361.4 414.7,362.2 419.7,362.9 424.6,363.5 429.6,364.2 434.6,364.7 439.6,365.2 444.5,365.7 449.5,366 454.5,366.3 459.5,366.5 464.4,366.7 469.4,366.9 474.4,367 479.4,367.1 484.3,367.2 489.3,367.3 494.3,367.4 499.3,367.5 504.3,367.6 509.2,367.6 514.2,367.7 519.2,367.8 524.2,367.9 529.1,368 534.1,368.1 539.1,368.2 544.1,368.2 549,368.2 554,368.1 559,368 564,367.7 568.9,367.4 573.9,366.9 578.9,366.4 583.9,365.7 588.9,365 593.8,364.2 598.8,363.3 603.8,362.3 608.8,361.3 613.7,360.3 618.7,359.1 623.7,358 628.7,356.8 633.6,355.6 638.6,354.3 643.6,353.1 648.6,351.8 653.5,350.5 658.5,349.2 663.5,347.9 668.5,346.6 673.4,345.2 678.4,343.8 683.4,342.4 688.4,340.9 693.4,339.4 698.3,337.9 703.3,336.4 708.3,334.9 713.3,333.5 718.2,332.1 723.2,330.8 728.2,329.6 733.2,328.5 738.1,327.5 743.1,326.6 748.1,325.8 753.1,325 758,324.2 763,323.5 768,322.8 768,323.8 763,324.5 758,325.2 753.1,326 748.1,326.8 743.1,327.6 738.1,328.5 733.2,329.5 728.2,330.6 723.2,331.8 718.2,333.1 713.3,334.5 708.3,335.9 703.3,337.4 698.3,338.9 693.4,340.4 688.4,341.9 683.4,343.4 678.4,344.8 673.4,346.2 668.5,347.6 663.5,348.9 658.5,350.2 653.5,351.5 648.6,352.8 643.6,354.1 638.6,355.3 633.6,356.6 628.7,357.8 623.7,359 618.7,360.1 613.7,361.3 608.8,362.3 603.8,363.3 598.8,364.3 593.8,365.2 588.9,366 583.9,366.7 578.9,367.4 573.9,367.9 568.9,368.4 564,368.7 559,369 554,369.1 549,369.2 544.1,369.2 539.1,369.2 534.1,369.1 529.1,369 524.2,368.9 519.2,368.8 514.2,368.7 509.2,368.6 504.3,368.6 499.3,368.5 494.3,368.4 489.3,368.3 484.3,368.2 479.4,368.1 474.4,368 469.4,367.9 464.4,367.7 459.5,367.5 454.5,367.3 449.5,367 444.5,366.7 439.6,366.2 434.6,365.7 429.6,365.2 424.6,364.5 419.7,363.9 414.7,363.2 409.7,362.4 404.7,361.6 399.7,360.7 394.8,359.9 389.8,358.9 384.8,357.9 379.8,356.9 374.9,355.8 369.9,354.6 364.9,353.4 359.9,352 355,350.7 350,349.3 345,347.8 340,346.4 335.1,344.9 330.1,343.5 325.1,342.1 320.1,340.8 315.1,339.5 310.2,338.3 305.2,337.1 300.2,336 295.2,334.8 290.3,333.7 285.3,332.6 280.3,331.5 275.3,330.5 270.4,329.4 265.4,328.4 260.4,327.4 255.4,326.5 250.5,325.6 245.5,324.8 240.5,324.1 235.5,323.4 230.6,322.8 225.6,322.3 220.6,321.8 215.6,321.3 210.6,321 205.7,320.7 200.7,320.4 195.7,320.2 190.7,320.1 185.8,320 180.8,320.1 175.8,320.1 170.8,320.3 165.9,320.5 160.9,320.8 155.9,321.2 150.9,321.7 146,322.2 141,322.8 136,323.4Z"/>
<path d="M136,330.7 140.9,330.1 145.8,329.6 150.8,329.1 155.7,328.7 160.6,328.3 165.6,328 170.5,327.7 175.4,327.6 180.3,327.5 185.2,327.4 190.2,327.5 195.1,327.6 200,327.7 204.9,327.9 209.9,328.2 214.8,328.6 219.7,329 224.6,329.4 229.6,330 234.5,330.5 239.4,331.2 244.3,331.9 249.3,332.6 254.2,333.4 259.1,334.3 264,335.2 269,336.1 273.9,337 278.8,338 283.8,339 288.7,340.1 293.6,341.1 298.5,342.2 303.4,343.3 308.4,344.4 313.3,345.6 318.2,346.8 323.1,348 328.1,349.3 333,350.6 333,352.6 328.1,351.3 323.1,350 318.2,348.8 313.3,347.6 308.4,346.4 303.4,345.3 298.5,344.2 293.6,343.1 288.7,342.1 283.8,341 278.8,340 273.9,339 269,338.1 264,337.2 259.1,336.3 254.2,335.4 249.3,334.6 244.3,333.9 239.4,333.2 234.5,332.5 229.6,332 224.6,331.4 219.7,331 214.8,330.6 209.9,330.2 204.9,329.9 200,329.7 195.1,329.6 190.2,329.5 185.2,329.4 180.3,329.5 175.4,329.6 170.5,329.7 165.6,330 160.6,330.3 155.7,330.7 150.8,331.1 145.8,331.6 140.9,332.1 136,332.7ZM378,361.9 383,362.9 388,363.8 393,364.7 398,365.5 403,366.3 408,367 413,367.8 418,368.4 423,369.1 428,369.7 433,370.2 438,370.7 443,371.1 448,371.5 453,371.8 458,372 463,372.2 468,372.3 473,372.4 478,372.5 483,372.6 488,372.7 493,372.7 498,372.8 503,372.9 508,373 513,373.1 518,373.2 523,373.3 528,373.4 533,373.5 538,373.6 543,373.7 548,373.7 553,373.7 558,373.6 563,373.5 568,373.2 573,372.8 578,372.3 583,371.7 588,371.1 593,370.4 598,369.6 603,368.7 608,367.8 613,366.8 618,365.7 623,364.7 628,363.6 633,362.4 638,361.2 643,360.1 648,358.8 653,357.6 658,356.4 663,355.1 668,353.8 673,352.5 678,351.2 683,349.8 688,348.4 693,346.9 698,345.5 703,344 708,342.6 713,341.2 718,339.9 723,338.7 728,337.5 733,336.5 738,335.5 743,334.6 748,333.8 753,333.1 758,332.4 763,331.7 768,331.1 768,333.1 763,333.7 758,334.4 753,335.1 748,335.8 743,336.6 738,337.5 733,338.5 728,339.5 723,340.7 718,341.9 713,343.2 708,344.6 703,346 698,347.5 693,348.9 688,350.4 683,351.8 678,353.2 673,354.5 668,355.8 663,357.1 658,358.4 653,359.6 648,360.8 643,362.1 638,363.2 633,364.4 628,365.6 623,366.7 618,367.7 613,368.8 608,369.8 603,370.7 598,371.6 593,372.4 588,373.1 583,373.7 578,374.3 573,374.8 568,375.2 563,375.5 558,375.6 553,375.7 548,375.7 543,375.7 538,375.6 533,375.5 528,375.4 523,375.3 518,375.2 513,375.1 508,375 503,374.9 498,374.8 493,374.7 488,374.7 483,374.6 478,374.5 473,374.4 468,374.3 463,374.2 458,374 453,373.8 448,373.5 443,373.1 438,372.7 433,372.2 428,371.7 423,371.1 418,370.4 413,369.8 408,369 403,368.3 398,367.5 393,366.7 388,365.8 383,364.9 378,363.9Z"/>
<path d="M136,339.5 141,338.9 146,338.4 150.9,337.9 155.9,337.5 160.9,337.1 165.9,336.8 170.8,336.6 175.8,336.4 180.8,336.3 185.8,336.3 190.7,336.3 195.7,336.4 200.7,336.5 205.7,336.8 210.6,337.1 215.6,337.4 220.6,337.8 225.6,338.3 230.6,338.8 235.5,339.4 240.5,340 245.5,340.7 250.5,341.5 255.4,342.3 260.4,343.1 265.4,343.9 270.4,344.8 275.3,345.8 280.3,346.7 285.3,347.7 290.3,348.7 295.2,349.7 300.2,350.8 305.2,351.8 310.2,352.9 315.1,354.1 320.1,355.2 325.1,356.4 330.1,357.7 335.1,359 340,360.2 345,361.5 350,362.8 355,364.1 359.9,365.3 364.9,366.4 369.9,367.5 374.9,368.4 379.8,369.4 384.8,370.2 389.8,371 394.8,371.8 399.7,372.5 404.7,373.2 409.7,373.9 414.7,374.6 419.7,375.2 424.6,375.8 429.6,376.3 434.6,376.8 439.6,377.3 444.5,377.6 449.5,377.9 454.5,378.2 459.5,378.4 464.4,378.5 469.4,378.6 474.4,378.7 479.4,378.7 484.3,378.8 489.3,378.8 494.3,378.9 499.3,379 504.3,379 509.2,379.1 514.2,379.2 519.2,379.3 524.2,379.5 529.1,379.6 534.1,379.7 539.1,379.8 544.1,379.9 549,380 554,380 559,380 564,379.8 568.9,379.6 573.9,379.2 578.9,378.8 583.9,378.3 588.9,377.7 593.8,377 598.8,376.2 603.8,375.4 608.8,374.6 613.7,373.7 618.7,372.7 623.7,371.7 628.7,370.7 633.6,369.6 638.6,368.5 643.6,367.4 648.6,366.2 653.5,365 658.5,363.8 663.5,362.6 668.5,361.4 673.4,360.1 678.4,358.8 683.4,357.5 688.4,356.1 693.4,354.7 698.3,353.4 703.3,352 708.3,350.7 713.3,349.4 718.2,348.1 723.2,347 728.2,345.9 733.2,344.9 738.1,344 743.1,343.1 748.1,342.4 753.1,341.7 758,341 763,340.4 768,339.8 768,340.8 763,341.4 758,342 753.1,342.7 748.1,343.4 743.1,344.1 738.1,345 733.2,345.9 728.2,346.9 723.2,348 718.2,349.1 713.3,350.4 708.3,351.7 703.3,353 698.3,354.4 693.4,355.7 688.4,357.1 683.4,358.5 678.4,359.8 673.4,361.1 668.5,362.4 663.5,363.6 658.5,364.8 653.5,366 648.6,367.2 643.6,368.4 638.6,369.5 633.6,370.6 628.7,371.7 623.7,372.7 618.7,373.7 613.7,374.7 608.8,375.6 603.8,376.4 598.8,377.2 593.8,378 588.9,378.7 583.9,379.3 578.9,379.8 573.9,380.2 568.9,380.6 564,380.8 559,381 554,381 549,381 544.1,380.9 539.1,380.8 534.1,380.7 529.1,380.6 524.2,380.5 519.2,380.3 514.2,380.2 509.2,380.1 504.3,380 499.3,380 494.3,379.9 489.3,379.8 484.3,379.8 479.4,379.7 474.4,379.7 469.4,379.6 464.4,379.5 459.5,379.4 454.5,379.2 449.5,378.9 444.5,378.6 439.6,378.3 434.6,377.8 429.6,377.3 424.6,376.8 419.7,376.2 414.7,375.6 409.7,374.9 404.7,374.2 399.7,373.5 394.8,372.8 389.8,372 384.8,371.2 379.8,370.4 374.9,369.4 369.9,368.5 364.9,367.4 359.9,366.3 355,365.1 350,363.8 345,362.5 340,361.2 335.1,360 330.1,358.7 325.1,357.4 320.1,356.2 315.1,355.1 310.2,353.9 305.2,352.8 300.2,351.8 295.2,350.7 290.3,349.7 285.3,348.7 280.3,347.7 275.3,346.8 270.4,345.8 265.4,344.9 260.4,344.1 255.4,343.3 250.5,342.5 245.5,341.7 240.5,341 235.5,340.4 230.6,339.8 225.6,339.3 220.6,338.8 215.6,338.4 210.6,338.1 205.7,337.8 200.7,337.5 195.7,337.4 190.7,337.3 185.8,337.3 180.8,337.3 175.8,337.4 170.8,337.6 165.9,337.8 160.9,338.1 155.9,338.5 150.9,338.9 146,339.4 141,339.9 136,340.5Z"/>
<path d="M136,346.8 140.9,346.3 145.8,345.8 150.8,345.3 155.7,344.9 160.6,344.5 165.6,344.2 170.5,344 175.4,343.8 180.3,343.7 185.2,343.7 190.2,343.7 195.1,343.7 200,343.9 204.9,344.1 209.9,344.4 214.8,344.7 219.7,345.1 224.6,345.5 229.6,346 234.5,346.6 239.4,347.2 244.3,347.8 249.3,348.5 254.2,349.3 259.1,350 264,350.8 269,351.7 273.9,352.6 278.8,353.4 283.8,354.4 288.7,355.3 293.6,356.3 298.5,357.2 303.4,358.2 308.4,359.3 313.3,360.3 318.2,361.4 323.1,362.6 328.1,363.7 333,364.9 333,366.9 328.1,365.7 323.1,364.6 318.2,363.4 313.3,362.3 308.4,361.3 303.4,360.2 298.5,359.2 293.6,358.3 288.7,357.3 283.8,356.4 278.8,355.4 273.9,354.6 269,353.7 264,352.8 259.1,352 254.2,351.3 249.3,350.5 244.3,349.8 239.4,349.2 234.5,348.6 229.6,348 224.6,347.5 219.7,347.1 214.8,346.7 209.9,346.4 204.9,346.1 200,345.9 195.1,345.7 190.2,345.7 185.2,345.7 180.3,345.7 175.4,345.8 170.5,346 165.6,346.2 160.6,346.5 155.7,346.9 150.8,347.3 145.8,347.8 140.9,348.3 136,348.8ZM378,374.9 383,375.7 388,376.5 393,377.2 398,377.9 403,378.5 408,379.1 413,379.8 418,380.4 423,380.9 428,381.5 433,382 438,382.4 443,382.8 448,383.1 453,383.3 458,383.5 463,383.6 468,383.6 473,383.7 478,383.7 483,383.7 488,383.8 493,383.8 498,383.8 503,383.9 508,384 513,384.1 518,384.2 523,384.3 528,384.5 533,384.6 538,384.8 543,384.9 548,385 553,385.1 558,385.1 563,385 568,384.8 573,384.6 578,384.2 583,383.7 588,383.2 593,382.6 598,381.9 603,381.1 608,380.3 613,379.5 618,378.6 623,377.7 628,376.7 633,375.7 638,374.7 643,373.6 648,372.5 653,371.3 658,370.2 663,369 668,367.7 673,366.5 678,365.2 683,363.9 688,362.6 693,361.3 698,360 703,358.7 708,357.5 713,356.3 718,355.1 723,354 728,353 733,352 738,351.1 743,350.3 748,349.6 753,348.9 758,348.2 763,347.6 768,347.1 768,349.1 763,349.6 758,350.2 753,350.9 748,351.6 743,352.3 738,353.1 733,354 728,355 723,356 718,357.1 713,358.3 708,359.5 703,360.7 698,362 693,363.3 688,364.6 683,365.9 678,367.2 673,368.5 668,369.7 663,371 658,372.2 653,373.3 648,374.5 643,375.6 638,376.7 633,377.7 628,378.7 623,379.7 618,380.6 613,381.5 608,382.3 603,383.1 598,383.9 593,384.6 588,385.2 583,385.7 578,386.2 573,386.6 568,386.8 563,387 558,387.1 553,387.1 548,387 543,386.9 538,386.8 533,386.6 528,386.5 523,386.3 518,386.2 513,386.1 508,386 503,385.9 498,385.8 493,385.8 488,385.8 483,385.7 478,385.7 473,385.7 468,385.6 463,385.6 458,385.5 453,385.3 448,385.1 443,384.8 438,384.4 433,384 428,383.5 423,382.9 418,382.4 413,381.8 408,381.1 403,380.5 398,379.9 393,379.2 388,378.5 383,377.7 378,376.9Z"/>
<path d="M136,354.7 141,354.2 146,353.7 150.9,353.2 155.9,352.8 160.9,352.5 165.9,352.2 170.8,352 175.8,351.8 180.8,351.7 185.8,351.7 190.7,351.7 195.7,351.8 200.7,351.9 205.7,352.1 210.6,352.4 215.6,352.7 220.6,353.1 225.6,353.6 230.6,354.1 235.5,354.6 240.5,355.2 245.5,355.9 250.5,356.5 255.4,357.3 260.4,358 265.4,358.8 270.4,359.7 275.3,360.5 280.3,361.4 285.3,362.3 290.3,363.2 295.2,364.1 300.2,365.1 305.2,366 310.2,367 315.1,368.1 320.1,369.2 325.1,370.3 330.1,371.4 335.1,372.6 340,373.8 345,375 350,376.2 355,377.3 359.9,378.4 364.9,379.4 369.9,380.3 374.9,381.2 379.8,381.9 384.8,382.6 389.8,383.3 394.8,383.9 399.7,384.5 404.7,385.1 409.7,385.6 414.7,386.2 419.7,386.8 424.6,387.3 429.6,387.8 434.6,388.2 439.6,388.6 444.5,388.9 449.5,389.2 454.5,389.3 459.5,389.5 464.4,389.5 469.4,389.5 474.4,389.5 479.4,389.5 484.3,389.5 489.3,389.5 494.3,389.5 499.3,389.5 504.3,389.6 509.2,389.7 514.2,389.8 519.2,389.9 524.2,390 529.1,390.2 534.1,390.4 539.1,390.6 544.1,390.8 549,390.9 554,391 559,391.1 564,391 568.9,390.8 573.9,390.6 578.9,390.2 583.9,389.8 588.9,389.3 593.8,388.7 598.8,388 603.8,387.3 608.8,386.6 613.7,385.8 618.7,384.9 623.7,384.1 628.7,383.2 633.6,382.2 638.6,381.2 643.6,380.2 648.6,379.1 653.5,378 658.5,376.9 663.5,375.7 668.5,374.5 673.4,373.3 678.4,372.1 683.4,370.8 688.4,369.6 693.4,368.4 698.3,367.2 703.3,366 708.3,364.8 713.3,363.7 718.2,362.6 723.2,361.6 728.2,360.6 733.2,359.7 738.1,358.9 743.1,358.1 748.1,357.4 753.1,356.7 758,356.1 763,355.5 768,355 768,356 763,356.5 758,357.1 753.1,357.7 748.1,358.4 743.1,359.1 738.1,359.9 733.2,360.7 728.2,361.6 723.2,362.6 718.2,363.6 713.3,364.7 708.3,365.8 703.3,367 698.3,368.2 693.4,369.4 688.4,370.6 683.4,371.8 678.4,373.1 673.4,374.3 668.5,375.5 663.5,376.7 658.5,377.9 653.5,379 648.6,380.1 643.6,381.2 638.6,382.2 633.6,383.2 628.7,384.2 623.7,385.1 618.7,385.9 613.7,386.8 608.8,387.6 603.8,388.3 598.8,389 593.8,389.7 588.9,390.3 583.9,390.8 578.9,391.2 573.9,391.6 568.9,391.8 564,392 559,392.1 554,392 549,391.9 544.1,391.8 539.1,391.6 534.1,391.4 529.1,391.2 524.2,391 519.2,390.9 514.2,390.8 509.2,390.7 504.3,390.6 499.3,390.5 494.3,390.5 489.3,390.5 484.3,390.5 479.4,390.5 474.4,390.5 469.4,390.5 464.4,390.5 459.5,390.5 454.5,390.3 449.5,390.2 444.5,389.9 439.6,389.6 434.6,389.2 429.6,388.8 424.6,388.3 419.7,387.8 414.7,387.2 409.7,386.6 404.7,386.1 399.7,385.5 394.8,384.9 389.8,384.3 384.8,383.6 379.8,382.9 374.9,382.2 369.9,381.3 364.9,380.4 359.9,379.4 355,378.3 350,377.2 345,376 340,374.8 335.1,373.6 330.1,372.4 325.1,371.3 320.1,370.2 315.1,369.1 310.2,368 305.2,367 300.2,366.1 295.2,365.1 290.3,364.2 285.3,363.3 280.3,362.4 275.3,361.5 270.4,360.7 265.4,359.8 260.4,359 255.4,358.3 250.5,357.5 245.5,356.9 240.5,356.2 235.5,355.6 230.6,355.1 225.6,354.6 220.6,354.1 215.6,353.7 210.6,353.4 205.7,353.1 200.7,352.9 195.7,352.8 190.7,352.7 185.8,352.7 180.8,352.7 175.8,352.8 170.8,353 165.9,353.2 160.9,353.5 155.9,353.8 150.9,354.2 146,354.7 141,355.2 136,355.7Z"/>
<path d="M136,361.3 140.9,360.8 145.8,360.3 150.8,359.9 155.7,359.5 160.6,359.2 165.6,358.9 170.5,358.7 175.4,358.5 180.3,358.4 185.2,358.4 190.2,358.4 195.1,358.5 200,358.6 204.9,358.8 209.9,359 214.8,359.3 219.7,359.7 224.6,360.1 229.6,360.6 234.5,361.1 239.4,361.6 244.3,362.2 249.3,362.9 254.2,363.6 259.1,364.3 264,365 269,365.8 273.9,366.6 278.8,367.4 283.8,368.3 288.7,369.1 293.6,370 298.5,370.9 303.4,371.8 308.4,372.7 313.3,373.7 318.2,374.7 323.1,375.8 328.1,376.9 333,378 333,380 328.1,378.9 323.1,377.8 318.2,376.7 313.3,375.7 308.4,374.7 303.4,373.8 298.5,372.9 293.6,372 288.7,371.1 283.8,370.3 278.8,369.4 273.9,368.6 269,367.8 264,367 259.1,366.3 254.2,365.6 249.3,364.9 244.3,364.2 239.4,363.6 234.5,363.1 229.6,362.6 224.6,362.1 219.7,361.7 214.8,361.3 209.9,361 204.9,360.8 200,360.6 195.1,360.5 190.2,360.4 185.2,360.4 180.3,360.4 175.4,360.5 170.5,360.7 165.6,360.9 160.6,361.2 155.7,361.5 150.8,361.9 145.8,362.3 140.9,362.8 136,363.3ZM378,387.2 383,387.9 388,388.5 393,389 398,389.6 403,390.1 408,390.6 413,391.1 418,391.7 423,392.2 428,392.7 433,393.1 438,393.5 443,393.8 448,394.1 453,394.2 458,394.3 463,394.3 468,394.3 473,394.2 478,394.1 483,394.1 488,394 493,394 498,394 503,394.1 508,394.1 513,394.2 518,394.4 523,394.6 528,394.8 533,395 538,395.2 543,395.4 548,395.6 553,395.8 558,395.9 563,395.9 568,395.8 573,395.5 578,395.2 583,394.8 588,394.3 593,393.7 598,393.1 603,392.4 608,391.7 613,391 618,390.2 623,389.4 628,388.5 633,387.6 638,386.7 643,385.7 648,384.7 653,383.6 658,382.5 663,381.3 668,380.2 673,379 678,377.8 683,376.7 688,375.5 693,374.3 698,373.2 703,372.1 708,371 713,370 718,369 723,368 728,367.1 733,366.2 738,365.4 743,364.7 748,364 753,363.3 758,362.7 763,362.1 768,361.6 768,363.6 763,364.1 758,364.7 753,365.3 748,366 743,366.7 738,367.4 733,368.2 728,369.1 723,370 718,371 713,372 708,373 703,374.1 698,375.2 693,376.3 688,377.5 683,378.7 678,379.8 673,381 668,382.2 663,383.3 658,384.5 653,385.6 648,386.7 643,387.7 638,388.7 633,389.6 628,390.5 623,391.4 618,392.2 613,393 608,393.7 603,394.4 598,395.1 593,395.7 588,396.3 583,396.8 578,397.2 573,397.5 568,397.8 563,397.9 558,397.9 553,397.8 548,397.6 543,397.4 538,397.2 533,397 528,396.8 523,396.6 518,396.4 513,396.2 508,396.1 503,396.1 498,396 493,396 488,396 483,396.1 478,396.1 473,396.2 468,396.3 463,396.3 458,396.3 453,396.2 448,396.1 443,395.8 438,395.5 433,395.1 428,394.7 423,394.2 418,393.7 413,393.1 408,392.6 403,392.1 398,391.6 393,391 388,390.5 383,389.9 378,389.2Z"/>
<path d="M136,368.6 141,368 146,367.6 150.9,367.2 155.9,366.8 160.9,366.5 165.9,366.3 170.8,366.1 175.8,365.9 180.8,365.9 185.8,365.8 190.7,365.9 195.7,365.9 200.7,366.1 205.7,366.3 210.6,366.5 215.6,366.8 220.6,367.1 225.6,367.5 230.6,368 235.5,368.5 240.5,369 245.5,369.6 250.5,370.2 255.4,370.9 260.4,371.6 265.4,372.4 270.4,373.1 275.3,373.9 280.3,374.7 285.3,375.5 290.3,376.4 295.2,377.2 300.2,378 305.2,378.9 310.2,379.8 315.1,380.8 320.1,381.8 325.1,382.9 330.1,384 335.1,385.2 340,386.3 345,387.5 350,388.7 355,389.8 359.9,390.8 364.9,391.8 369.9,392.6 374.9,393.3 379.8,393.9 384.8,394.5 389.8,395 394.8,395.5 399.7,395.9 404.7,396.4 409.7,396.8 414.7,397.3 419.7,397.8 424.6,398.3 429.6,398.8 434.6,399.2 439.6,399.5 444.5,399.8 449.5,399.9 454.5,400 459.5,400 464.4,399.9 469.4,399.8 474.4,399.7 479.4,399.6 484.3,399.5 489.3,399.4 494.3,399.4 499.3,399.4 504.3,399.4 509.2,399.5 514.2,399.7 519.2,399.8 524.2,400 529.1,400.3 534.1,400.5 539.1,400.8 544.1,401.1 549,401.3 554,401.5 559,401.6 564,401.6 568.9,401.5 573.9,401.3 578.9,400.9 583.9,400.5 588.9,400 593.8,399.4 598.8,398.8 603.8,398.1 608.8,397.4 613.7,396.7 618.7,396 623.7,395.2 628.7,394.4 633.6,393.5 638.6,392.6 643.6,391.7 648.6,390.7 653.5,389.7 658.5,388.6 663.5,387.5 668.5,386.4 673.4,385.3 678.4,384.2 683.4,383.1 688.4,382 693.4,380.9 698.3,379.8 703.3,378.8 708.3,377.8 713.3,376.9 718.2,375.9 723.2,375.1 728.2,374.2 733.2,373.4 738.1,372.7 743.1,371.9 748.1,371.3 753.1,370.6 758,370 763,369.4 768,368.9 768,369.9 763,370.4 758,371 753.1,371.6 748.1,372.3 743.1,372.9 738.1,373.7 733.2,374.4 728.2,375.2 723.2,376.1 718.2,376.9 713.3,377.9 708.3,378.8 703.3,379.8 698.3,380.8 693.4,381.9 688.4,383 683.4,384.1 678.4,385.2 673.4,386.3 668.5,387.4 663.5,388.5 658.5,389.6 653.5,390.7 648.6,391.7 643.6,392.7 638.6,393.6 633.6,394.5 628.7,395.4 623.7,396.2 618.7,397 613.7,397.7 608.8,398.4 603.8,399.1 598.8,399.8 593.8,400.4 588.9,401 583.9,401.5 578.9,401.9 573.9,402.3 568.9,402.5 564,402.6 559,402.6 554,402.5 549,402.3 544.1,402.1 539.1,401.8 534.1,401.5 529.1,401.3 524.2,401 519.2,400.8 514.2,400.7 509.2,400.5 504.3,400.4 499.3,400.4 494.3,400.4 489.3,400.4 484.3,400.5 479.4,400.6 474.4,400.7 469.4,400.8 464.4,400.9 459.5,401 454.5,401 449.5,400.9 444.5,400.8 439.6,400.5 434.6,400.2 429.6,399.8 424.6,399.3 419.7,398.8 414.7,398.3 409.7,397.8 404.7,397.4 399.7,396.9 394.8,396.5 389.8,396 384.8,395.5 379.8,394.9 374.9,394.3 369.9,393.6 364.9,392.8 359.9,391.8 355,390.8 350,389.7 345,388.5 340,387.3 335.1,386.2 330.1,385 325.1,383.9 320.1,382.8 315.1,381.8 310.2,380.8 305.2,379.9 300.2,379 295.2,378.2 290.3,377.4 285.3,376.5 280.3,375.7 275.3,374.9 270.4,374.1 265.4,373.4 260.4,372.6 255.4,371.9 250.5,371.2 245.5,370.6 240.5,370 235.5,369.5 230.6,369 225.6,368.5 220.6,368.1 215.6,367.8 210.6,367.5 205.7,367.3 200.7,367.1 195.7,366.9 190.7,366.9 185.8,366.8 180.8,366.9 175.8,366.9 170.8,367.1 165.9,367.3 160.9,367.5 155.9,367.8 150.9,368.2 146,368.6 141,369 136,369.6Z"/>
<path d="M136,374.5 140.9,374 145.8,373.6 150.8,373.2 155.7,372.9 160.6,372.6 165.6,372.4 170.5,372.2 175.4,372.1 180.3,372 185.2,372 190.2,372.1 195.1,372.1 200,372.3 204.9,372.4 209.9,372.6 214.8,372.9 219.7,373.2 224.6,373.6 229.6,374 234.5,374.4 239.4,374.9 244.3,375.4 249.3,376 254.2,376.6 259.1,377.3 264,378 269,378.7 273.9,379.5 278.8,380.2 283.8,381 288.7,381.8 293.6,382.5 298.5,383.3 303.4,384.1 308.4,385 313.3,385.9 318.2,386.8 323.1,387.8 328.1,388.9 333,390 333,392 328.1,390.9 323.1,389.8 318.2,388.8 313.3,387.9 308.4,387 303.4,386.1 298.5,385.3 293.6,384.5 288.7,383.8 283.8,383 278.8,382.2 273.9,381.5 269,380.7 264,380 259.1,379.3 254.2,378.6 249.3,378 244.3,377.4 239.4,376.9 234.5,376.4 229.6,376 224.6,375.6 219.7,375.2 214.8,374.9 209.9,374.6 204.9,374.4 200,374.3 195.1,374.1 190.2,374.1 185.2,374 180.3,374 175.4,374.1 170.5,374.2 165.6,374.4 160.6,374.6 155.7,374.9 150.8,375.2 145.8,375.6 140.9,376 136,376.5ZM378,399.1 383,399.6 388,400.1 393,400.5 398,400.9 403,401.2 408,401.7 413,402.1 418,402.6 423,403.1 428,403.5 433,403.9 438,404.2 443,404.5 448,404.6 453,404.7 458,404.6 463,404.5 468,404.4 473,404.2 478,404 483,403.9 488,403.7 493,403.7 498,403.6 503,403.7 508,403.8 513,403.9 518,404.1 523,404.3 528,404.6 533,404.9 538,405.2 543,405.5 548,405.8 553,406 558,406.2 563,406.2 568,406.2 573,406 578,405.6 583,405.2 588,404.7 593,404.1 598,403.5 603,402.9 608,402.2 613,401.5 618,400.8 623,400 628,399.3 633,398.5 638,397.6 643,396.7 648,395.8 653,394.8 658,393.8 663,392.8 668,391.7 673,390.6 678,389.5 683,388.5 688,387.4 693,386.4 698,385.4 703,384.5 708,383.5 713,382.7 718,381.8 723,381 728,380.2 733,379.4 738,378.7 743,378 748,377.3 753,376.7 758,376.1 763,375.5 768,374.9 768,376.9 763,377.5 758,378.1 753,378.7 748,379.3 743,380 738,380.7 733,381.4 728,382.2 723,383 718,383.8 713,384.7 708,385.5 703,386.5 698,387.4 693,388.4 688,389.4 683,390.5 678,391.5 673,392.6 668,393.7 663,394.8 658,395.8 653,396.8 648,397.8 643,398.7 638,399.6 633,400.5 628,401.3 623,402 618,402.8 613,403.5 608,404.2 603,404.9 598,405.5 593,406.1 588,406.7 583,407.2 578,407.6 573,408 568,408.2 563,408.2 558,408.2 553,408 548,407.8 543,407.5 538,407.2 533,406.9 528,406.6 523,406.3 518,406.1 513,405.9 508,405.8 503,405.7 498,405.6 493,405.7 488,405.7 483,405.9 478,406 473,406.2 468,406.4 463,406.5 458,406.6 453,406.7 448,406.6 443,406.5 438,406.2 433,405.9 428,405.5 423,405.1 418,404.6 413,404.1 408,403.7 403,403.2 398,402.9 393,402.5 388,402.1 383,401.6 378,401.1Z"/>
<path d="M136,381.2 140.4,380.8 140.4,381.8 136,382.2ZM144.9,380.4 148.2,380.2 151.5,380 151.5,381 148.2,381.2 144.9,381.4ZM155.9,379.7 159.2,379.5 162.5,379.4 162.5,380.4 159.2,380.5 155.9,380.7ZM167,379.2 170.3,379.1 173.6,379.1 173.6,380.1 170.3,380.1 167,380.2ZM178.1,379 181.4,379 184.7,379 184.7,380 181.4,380 178.1,380ZM189.2,379 192.5,379 195.8,379.1 195.8,380.1 192.5,380 189.2,380ZM200.3,379.2 203.6,379.3 206.9,379.4 206.9,380.4 203.6,380.3 200.3,380.2ZM211.4,379.6 214.7,379.8 218,380 218,381 214.7,380.8 211.4,380.6ZM222.5,380.3 225.8,380.5 229.1,380.7 229.1,381.7 225.8,381.5 222.5,381.3ZM233.6,381.1 236.9,381.4 240.1,381.7 240.1,382.7 236.9,382.4 233.6,382.1ZM244.6,382.2 247.9,382.5 251.2,382.9 251.2,383.9 247.9,383.5 244.6,383.2ZM255.6,383.5 258.9,383.9 262.2,384.4 262.2,385.4 258.9,384.9 255.6,384.5ZM266.6,385 269.9,385.5 273.2,385.9 273.2,386.9 269.9,386.5 266.6,386ZM277.6,386.6 280.9,387.1 284.2,387.5 284.2,388.5 280.9,388.1 277.6,387.6ZM288.6,388.2 291.9,388.7 295.1,389.1 295.1,390.1 291.9,389.7 288.6,389.2ZM299.6,389.8 302.8,390.3 306.1,390.8 306.1,391.8 302.8,391.3 299.6,390.8ZM310.6,391.5 313.8,392.1 317,392.7 317,393.7 313.8,393.1 310.6,392.5ZM321.5,393.6 324.7,394.2 327.9,395 327.9,396 324.7,395.2 321.5,394.6ZM332.3,396 335.5,396.8 338.7,397.6 338.7,398.6 335.5,397.8 332.3,397ZM343.1,398.7 346.3,399.5 349.5,400.3 349.5,401.3 346.3,400.5 343.1,399.7ZM353.8,401.3 357.1,402 360.3,402.7 360.3,403.7 357.1,403 353.8,402.3ZM364.7,403.6 368,404.1 371.2,404.6 371.2,405.6 368,405.1 364.7,404.6ZM375.7,405.1 379,405.5 382.3,405.8 382.3,406.8 379,406.5 375.7,406.1ZM386.8,406.1 390.1,406.4 393.3,406.6 393.3,407.6 390.1,407.4 386.8,407.1ZM397.8,406.9 401.1,407.1 404.4,407.3 404.4,408.3 401.1,408.1 397.8,407.9ZM408.9,407.6 412.2,407.9 415.5,408.2 415.5,409.2 412.2,408.9 408.9,408.6ZM420,408.6 423.3,408.9 426.5,409.2 426.5,410.2 423.3,409.9 420,409.6ZM431,409.5 434.3,409.8 437.6,409.9 437.6,410.9 434.3,410.8 431,410.5ZM442.1,410.2 445.4,410.3 448.7,410.3 448.7,411.3 445.4,411.3 442.1,411.2ZM453.2,410.3 456.5,410.2 459.8,410.1 459.8,411.1 456.5,411.2 453.2,411.3ZM464.3,410 467.6,409.8 470.9,409.7 470.9,410.7 467.6,410.8 464.3,411ZM475.4,409.4 478.7,409.3 482,409.2 482,410.2 478.7,410.3 475.4,410.4ZM486.5,409 489.8,408.9 493.1,408.9 493.1,409.9 489.8,409.9 486.5,410ZM497.6,408.8 500.9,408.8 504.2,408.9 504.2,409.9 500.9,409.8 497.6,409.8ZM508.7,409 512,409.1 515.3,409.2 515.3,410.2 512,410.1 508.7,410ZM519.8,409.4 523.1,409.5 526.4,409.7 526.4,410.7 523.1,410.5 519.8,410.4ZM530.8,410 534.1,410.3 537.4,410.5 537.4,411.5 534.1,411.3 530.8,411ZM541.9,410.8 545.2,411.1 548.5,411.3 548.5,412.3 545.2,412.1 541.9,411.8ZM553,411.5 556.3,411.6 559.6,411.7 559.6,412.7 556.3,412.6 553,412.5ZM564.1,411.7 567.4,411.7 570.7,411.6 570.7,412.6 567.4,412.7 564.1,412.7ZM575.2,411.3 578.5,411.1 581.8,410.8 581.8,411.8 578.5,412.1 575.2,412.3ZM586.2,410.4 589.5,410 592.8,409.6 592.8,410.6 589.5,411 586.2,411.4ZM597.3,409.1 600.5,408.7 603.8,408.2 603.8,409.2 600.5,409.7 597.3,410.1ZM608.3,407.6 611.5,407.2 614.8,406.8 614.8,407.8 611.5,408.2 608.3,408.6ZM619.3,406.2 622.5,405.7 625.8,405.2 625.8,406.2 622.5,406.7 619.3,407.2ZM630.3,404.6 633.5,404.1 636.8,403.6 636.8,404.6 633.5,405.1 630.3,405.6ZM641.2,402.9 644.5,402.3 647.7,401.7 647.7,402.7 644.5,403.3 641.2,403.9ZM652.2,400.9 655.4,400.3 658.6,399.7 658.6,400.7 655.4,401.3 652.2,401.9ZM663,398.8 666.3,398.1 669.5,397.4 669.5,398.4 666.3,399.1 663,399.8ZM673.9,396.5 677.1,395.9 680.4,395.2 680.4,396.2 677.1,396.9 673.9,397.5ZM684.8,394.3 688,393.7 691.3,393 691.3,394 688,394.7 684.8,395.3ZM695.7,392.2 698.9,391.6 702.2,391 702.2,392 698.9,392.6 695.7,393.2ZM706.6,390.3 709.9,389.7 713.1,389.2 713.1,390.2 709.9,390.7 706.6,391.3ZM717.6,388.4 720.8,387.9 724.1,387.4 724.1,388.4 720.8,388.9 717.6,389.4ZM728.5,386.7 731.8,386.3 735.1,385.8 735.1,386.8 731.8,387.3 728.5,387.7ZM739.5,385.2 742.8,384.7 746.1,384.3 746.1,385.3 742.8,385.7 739.5,386.2ZM750.5,383.7 753.8,383.3 757.1,382.9 757.1,383.9 753.8,384.3 750.5,384.7ZM761.6,382.4 764.8,382.1 768,381.7 768,382.7 764.8,383.1 761.6,383.4Z"/>
<path d="M136,386.6 138.7,386.4 141.5,386.1 141.5,388.1 138.7,388.4 136,388.6ZM144.8,385.9 148.6,385.7 152.5,385.4 152.5,387.4 148.6,387.7 144.8,387.9ZM155.8,385.3 159.6,385.1 163.4,385 163.4,387 159.6,387.1 155.8,387.3ZM166.7,384.9 170.6,384.8 174.4,384.7 174.4,386.7 170.6,386.8 166.7,386.9ZM177.7,384.7 181.6,384.7 185.4,384.7 185.4,386.7 181.6,386.7 177.7,386.7ZM188.7,384.7 192.6,384.7 196.4,384.8 196.4,386.8 192.6,386.7 188.7,386.7ZM199.7,384.9 203.6,385 207.4,385.1 207.4,387.1 203.6,387 199.7,386.9ZM210.7,385.3 214.6,385.4 218.4,385.6 218.4,387.6 214.6,387.4 210.7,387.3ZM221.7,385.8 225.6,386 229.4,386.3 229.4,388.3 225.6,388 221.7,387.8ZM232.7,386.6 236.5,386.9 240.4,387.2 240.4,389.2 236.5,388.9 232.7,388.6ZM243.7,387.6 247.5,388 251.3,388.4 251.3,390.4 247.5,390 243.7,389.6ZM254.6,388.8 258.4,389.3 262.2,389.8 262.2,391.8 258.4,391.3 254.6,390.8ZM265.5,390.2 269.3,390.7 273.1,391.2 273.1,393.2 269.3,392.7 265.5,392.2ZM276.4,391.7 280.2,392.2 284,392.7 284,394.7 280.2,394.2 276.4,393.7ZM287.3,393.2 291.1,393.7 294.9,394.2 294.9,396.2 291.1,395.7 287.3,395.2ZM298.2,394.6 302,395.2 305.8,395.7 305.8,397.7 302,397.2 298.2,396.6ZM309.1,396.2 312.9,396.8 316.7,397.5 316.7,399.5 312.9,398.8 309.1,398.2ZM319.9,398.1 323.7,398.9 327.4,399.7 327.4,401.7 323.7,400.9 319.9,400.1ZM330.7,400.4 334.4,401.4 338.1,402.3 338.1,404.3 334.4,403.4 330.7,402.4ZM395.5,411.7 399.4,411.9 403.2,412.1 403.2,414.1 399.4,413.9 395.5,413.7ZM406.5,412.3 410.3,412.6 414.2,412.9 414.2,414.9 410.3,414.6 406.5,414.3ZM417.5,413.2 421.3,413.5 425.1,413.8 425.1,415.8 421.3,415.5 417.5,415.2ZM428.4,414 432.3,414.3 436.1,414.5 436.1,416.5 432.3,416.3 428.4,416ZM439.4,414.7 443.3,414.8 447.1,414.9 447.1,416.9 443.3,416.8 439.4,416.7ZM450.4,414.8 454.2,414.8 458.1,414.6 458.1,416.6 454.2,416.8 450.4,416.8ZM461.4,414.5 465.2,414.3 469.1,414.1 469.1,416.1 465.2,416.3 461.4,416.5ZM472.4,413.9 476.2,413.7 480.1,413.5 480.1,415.5 476.2,415.7 472.4,415.9ZM483.4,413.3 487.2,413.2 491.1,413.1 491.1,415.1 487.2,415.2 483.4,415.3ZM494.4,413 498.2,413 502.1,413 502.1,415 498.2,415 494.4,415ZM505.4,413 509.2,413.1 513.1,413.3 513.1,415.3 509.2,415.1 505.4,415ZM516.3,413.4 520.2,413.6 524,413.8 524,415.8 520.2,415.6 516.3,415.4ZM527.3,414 531.2,414.3 535,414.6 535,416.6 531.2,416.3 527.3,416ZM538.3,414.9 542.1,415.2 546,415.4 546,417.4 542.1,417.2 538.3,416.9ZM549.3,415.7 553.1,415.9 557,416 557,418 553.1,417.9 549.3,417.7ZM560.3,416.1 564.1,416.1 568,416.1 568,418.1 564.1,418.1 560.3,418.1ZM571.3,416 575.1,415.7 578.9,415.5 578.9,417.5 575.1,417.7 571.3,418ZM582.2,415.2 586.1,414.8 589.9,414.4 589.9,416.4 586.1,416.8 582.2,417.2ZM593.2,414 597,413.5 600.8,413 600.8,415 597,415.5 593.2,416ZM604.1,412.6 607.9,412.1 611.7,411.6 611.7,413.6 607.9,414.1 604.1,414.6ZM615,411.2 618.8,410.8 622.6,410.3 622.6,412.3 618.8,412.8 615,413.2ZM625.9,409.9 629.7,409.3 633.5,408.8 633.5,410.8 629.7,411.3 625.9,411.9ZM636.8,408.3 640.6,407.8 644.4,407.2 644.4,409.2 640.6,409.8 636.8,410.3ZM647.7,406.6 651.5,406 655.2,405.3 655.2,407.3 651.5,408 647.7,408.6ZM658.5,404.6 662.3,403.9 666,403.2 666,405.2 662.3,405.9 658.5,406.6ZM669.3,402.5 673.1,401.7 676.8,401 676.8,403 673.1,403.7 669.3,404.5ZM680.1,400.3 683.8,399.6 687.6,398.9 687.6,400.9 683.8,401.6 680.1,402.3ZM690.9,398.3 694.7,397.6 698.4,396.9 698.4,398.9 694.7,399.6 690.9,400.3ZM701.7,396.4 705.5,395.7 709.3,395.1 709.3,397.1 705.5,397.7 701.7,398.4ZM712.6,394.6 716.4,394 720.2,393.4 720.2,395.4 716.4,396 712.6,396.6ZM723.4,392.9 727.2,392.3 731,391.8 731,393.8 727.2,394.3 723.4,394.9ZM734.3,391.3 738.1,390.8 741.9,390.3 741.9,392.3 738.1,392.8 734.3,393.3ZM745.2,389.9 749,389.4 752.9,388.9 752.9,390.9 749,391.4 745.2,391.9ZM756.1,388.5 760,388.1 763.8,387.7 763.8,389.7 760,390.1 756.1,390.5ZM767.1,387.3 768,387.2 768,389.2 767.1,389.3Z"/>
<path d="M136,392.8 140.4,392.4 140.4,393.4 136,393.8ZM144.9,392.1 148.2,392 151.5,391.8 151.5,392.8 148.2,393 144.9,393.1ZM156,391.6 159.3,391.5 162.6,391.4 162.6,392.4 159.3,392.5 156,392.6ZM167.1,391.3 170.4,391.2 173.7,391.2 173.7,392.2 170.4,392.2 167.1,392.3ZM178.2,391.1 181.5,391.1 184.8,391.1 184.8,392.1 181.5,392.1 178.2,392.1ZM189.3,391.1 192.6,391.2 195.9,391.2 195.9,392.2 192.6,392.2 189.3,392.1ZM200.4,391.3 203.7,391.4 207,391.5 207,392.5 203.7,392.4 200.4,392.3ZM211.5,391.7 214.7,391.8 218,392 218,393 214.7,392.8 211.5,392.7ZM222.5,392.2 225.8,392.4 229.1,392.6 229.1,393.6 225.8,393.4 222.5,393.2ZM233.6,392.9 236.9,393.2 240.2,393.5 240.2,394.5 236.9,394.2 233.6,393.9ZM244.7,393.9 247.9,394.3 251.2,394.6 251.2,395.6 247.9,395.3 244.7,394.9ZM255.7,395.1 259,395.5 262.3,395.9 262.3,396.9 259,396.5 255.7,396.1ZM266.7,396.5 270,396.9 273.3,397.4 273.3,398.4 270,397.9 266.7,397.5ZM277.7,398 281,398.4 284.3,398.8 284.3,399.8 281,399.4 277.7,399ZM288.7,399.3 292,399.7 295.3,400.1 295.3,401.1 292,400.7 288.7,400.3ZM299.8,400.7 303,401.1 306.3,401.5 306.3,402.5 303,402.1 299.8,401.7ZM310.8,402.2 314,402.7 317.3,403.2 317.3,404.2 314,403.7 310.8,403.2ZM321.7,404 324.9,404.7 328.1,405.4 328.1,406.4 324.9,405.7 321.7,405ZM332.5,406.5 335.7,407.3 338.9,408.2 338.9,409.2 335.7,408.3 332.5,407.5ZM343.3,409.3 346.4,410.2 349.6,411 349.6,412 346.4,411.2 343.3,410.3ZM354,412.1 357.2,412.9 360.4,413.6 360.4,414.6 357.2,413.9 354,413.1ZM364.8,414.5 368.1,415.1 371.3,415.6 371.3,416.6 368.1,416.1 364.8,415.5ZM375.8,416.1 379.1,416.5 382.4,416.7 382.4,417.7 379.1,417.5 375.8,417.1ZM386.9,417.1 390.2,417.2 393.5,417.4 393.5,418.4 390.2,418.2 386.9,418.1ZM397.9,417.7 401.2,417.8 404.5,418 404.5,419 401.2,418.8 397.9,418.7ZM409,418.3 412.3,418.5 415.6,418.8 415.6,419.8 412.3,419.5 409,419.3ZM420.1,419.1 423.4,419.3 426.7,419.6 426.7,420.6 423.4,420.3 420.1,420.1ZM431.2,419.9 434.5,420.1 437.8,420.2 437.8,421.2 434.5,421.1 431.2,420.9ZM442.3,420.3 445.6,420.4 448.9,420.3 448.9,421.3 445.6,421.4 442.3,421.3ZM453.4,420.2 456.7,420.1 460,419.9 460,420.9 456.7,421.1 453.4,421.2ZM464.4,419.7 467.7,419.5 471,419.2 471,420.2 467.7,420.5 464.4,420.7ZM475.5,418.9 478.8,418.7 482.1,418.6 482.1,419.6 478.8,419.7 475.5,419.9ZM486.6,418.4 489.9,418.2 493.2,418.2 493.2,419.2 489.9,419.2 486.6,419.4ZM497.7,418.1 501,418.1 504.3,418.2 504.3,419.2 501,419.1 497.7,419.1ZM508.8,418.3 512.1,418.4 515.4,418.5 515.4,419.5 512.1,419.4 508.8,419.3ZM519.9,418.8 523.2,419 526.5,419.2 526.5,420.2 523.2,420 519.9,419.8ZM531,419.5 534.3,419.8 537.5,420 537.5,421 534.3,420.8 531,420.5ZM542,420.4 545.3,420.6 548.6,420.9 548.6,421.9 545.3,421.6 542,421.4ZM553.1,421.1 556.4,421.3 559.7,421.4 559.7,422.4 556.4,422.3 553.1,422.1ZM564.2,421.4 567.5,421.4 570.8,421.3 570.8,422.3 567.5,422.4 564.2,422.4ZM575.3,421 578.6,420.8 581.9,420.5 581.9,421.5 578.6,421.8 575.3,422ZM586.4,420.1 589.6,419.7 592.9,419.3 592.9,420.3 589.6,420.7 586.4,421.1ZM597.4,418.8 600.7,418.4 603.9,418 603.9,419 600.7,419.4 597.4,419.8ZM608.4,417.5 611.7,417.1 615,416.7 615,417.7 611.7,418.1 608.4,418.5ZM619.4,416.2 622.7,415.9 626,415.5 626,416.5 622.7,416.9 619.4,417.2ZM630.5,415 633.7,414.5 637,414.1 637,415.1 633.7,415.5 630.5,416ZM641.5,413.5 644.7,413 648,412.5 648,413.5 644.7,414 641.5,414.5ZM652.4,411.7 655.7,411.1 658.9,410.5 658.9,411.5 655.7,412.1 652.4,412.7ZM663.3,409.7 666.6,409.1 669.8,408.4 669.8,409.4 666.6,410.1 663.3,410.7ZM674.2,407.5 677.5,406.9 680.7,406.3 680.7,407.3 677.5,407.9 674.2,408.5ZM685.1,405.4 688.4,404.8 691.6,404.2 691.6,405.2 688.4,405.8 685.1,406.4ZM696,403.4 699.3,402.9 702.5,402.3 702.5,403.3 699.3,403.9 696,404.4ZM707,401.6 710.2,401.1 713.5,400.6 713.5,401.6 710.2,402.1 707,402.6ZM717.9,399.9 721.2,399.4 724.5,398.9 724.5,399.9 721.2,400.4 717.9,400.9ZM728.9,398.3 732.2,397.8 735.5,397.4 735.5,398.4 732.2,398.8 728.9,399.3ZM739.9,396.8 743.2,396.3 746.5,395.9 746.5,396.9 743.2,397.3 739.9,397.8ZM750.9,395.4 754.2,395 757.5,394.6 757.5,395.6 754.2,396 750.9,396.4ZM762,394.1 765,393.8 768,393.5 768,394.5 765,394.8 762,395.1Z"/>
<path d="M136,397.7 138.7,397.5 141.5,397.4 141.5,399.4 138.7,399.5 136,399.7ZM144.8,397.2 148.6,397 152.5,396.8 152.5,398.8 148.6,399 144.8,399.2ZM155.8,396.7 159.6,396.6 163.5,396.5 163.5,398.5 159.6,398.6 155.8,398.7ZM166.8,396.5 170.6,396.4 174.5,396.4 174.5,398.4 170.6,398.4 166.8,398.5ZM177.8,396.3 181.6,396.3 185.5,396.3 185.5,398.3 181.6,398.3 177.8,398.3ZM188.8,396.3 192.6,396.4 196.5,396.4 196.5,398.4 192.6,398.4 188.8,398.3ZM199.8,396.5 203.6,396.5 207.5,396.6 207.5,398.6 203.6,398.5 199.8,398.5ZM210.8,396.8 214.6,396.9 218.5,397.1 218.5,399.1 214.6,398.9 210.8,398.8ZM221.8,397.3 225.6,397.5 229.4,397.7 229.4,399.7 225.6,399.5 221.8,399.3ZM232.7,398 236.6,398.3 240.4,398.6 240.4,400.6 236.6,400.3 232.7,400ZM243.7,398.9 247.5,399.3 251.3,399.7 251.3,401.7 247.5,401.3 243.7,400.9ZM254.6,400.1 258.5,400.5 262.3,401 262.3,403 258.5,402.5 254.6,402.1ZM265.6,401.4 269.4,401.8 273.2,402.3 273.2,404.3 269.4,403.8 265.6,403.4ZM276.5,402.7 280.3,403.2 284.1,403.6 284.1,405.6 280.3,405.2 276.5,404.7ZM287.4,404 291.2,404.4 295.1,404.8 295.1,406.8 291.2,406.4 287.4,406ZM298.3,405.1 302.2,405.6 306,406 306,408 302.2,407.6 298.3,407.1ZM309.3,406.5 313.1,407 316.9,407.6 316.9,409.6 313.1,409 309.3,408.5ZM320.1,408.2 323.9,408.9 327.7,409.7 327.7,411.7 323.9,410.9 320.1,410.2ZM330.9,410.5 334.6,411.4 338.3,412.4 338.3,414.4 334.6,413.4 330.9,412.5ZM395.6,422.3 399.4,422.5 403.3,422.7 403.3,424.7 399.4,424.5 395.6,424.3ZM406.6,422.9 410.4,423.1 414.3,423.4 414.3,425.4 410.4,425.1 406.6,424.9ZM417.5,423.6 421.4,423.8 425.2,424.1 425.2,426.1 421.4,425.8 417.5,425.6ZM428.5,424.3 432.4,424.5 436.2,424.7 436.2,426.7 432.4,426.5 428.5,426.3ZM439.5,424.8 443.4,424.8 447.2,424.8 447.2,426.8 443.4,426.8 439.5,426.8ZM450.5,424.7 454.4,424.6 458.2,424.4 458.2,426.4 454.4,426.6 450.5,426.7ZM461.5,424.2 465.3,423.9 469.2,423.6 469.2,425.6 465.3,425.9 461.5,426.2ZM472.5,423.4 476.3,423.1 480.1,422.9 480.1,424.9 476.3,425.1 472.5,425.4ZM483.4,422.7 487.3,422.5 491.1,422.4 491.1,424.4 487.3,424.5 483.4,424.7ZM494.4,422.3 498.3,422.3 502.1,422.3 502.1,424.3 498.3,424.3 494.4,424.3ZM505.4,422.4 509.3,422.5 513.1,422.6 513.1,424.6 509.3,424.5 505.4,424.4ZM516.4,422.8 520.3,423 524.1,423.2 524.1,425.2 520.3,425 516.4,424.8ZM527.4,423.4 531.2,423.7 535.1,424 535.1,426 531.2,425.7 527.4,425.4ZM538.4,424.3 542.2,424.6 546.1,424.9 546.1,426.9 542.2,426.6 538.4,426.3ZM549.3,425.1 553.2,425.3 557,425.5 557,427.5 553.2,427.3 549.3,427.1ZM560.3,425.6 564.2,425.6 568,425.5 568,427.5 564.2,427.6 560.3,427.6ZM571.3,425.4 575.2,425.2 579,425 579,427 575.2,427.2 571.3,427.4ZM582.3,424.7 586.1,424.3 590,424 590,426 586.1,426.3 582.3,426.7ZM593.2,423.6 597.1,423.2 600.9,422.8 600.9,424.8 597.1,425.2 593.2,425.6ZM604.2,422.4 608,422 611.8,421.6 611.8,423.6 608,424 604.2,424.4ZM615.1,421.3 619,420.9 622.8,420.5 622.8,422.5 619,422.9 615.1,423.3ZM626.1,420.2 629.9,419.8 633.7,419.3 633.7,421.3 629.9,421.8 626.1,422.2ZM637,419 640.8,418.5 644.6,417.9 644.6,419.9 640.8,420.5 637,421ZM647.9,417.4 651.7,416.8 655.5,416.2 655.5,418.2 651.7,418.8 647.9,419.4ZM658.7,415.6 662.5,414.9 666.3,414.1 666.3,416.1 662.5,416.9 658.7,417.6ZM669.5,413.5 673.3,412.7 677.1,412 677.1,414 673.3,414.7 669.5,415.5ZM680.3,411.3 684.1,410.6 687.9,409.9 687.9,411.9 684.1,412.6 680.3,413.3ZM691.1,409.3 694.9,408.6 698.7,407.9 698.7,409.9 694.9,410.6 691.1,411.3ZM702,407.4 705.8,406.7 709.6,406.1 709.6,408.1 705.8,408.7 702,409.4ZM712.8,405.6 716.6,405 720.4,404.5 720.4,406.5 716.6,407 712.8,407.6ZM723.7,404 727.5,403.4 731.3,402.9 731.3,404.9 727.5,405.4 723.7,406ZM734.6,402.4 738.4,401.9 742.2,401.4 742.2,403.4 738.4,403.9 734.6,404.4ZM745.5,401 749.3,400.5 753.1,400 753.1,402 749.3,402.5 745.5,403ZM756.4,399.6 760.2,399.2 764.1,398.8 764.1,400.8 760.2,401.2 756.4,401.6ZM767.4,398.5 768,398.4 768,400.4 767.4,400.5Z"/>
<path d="M136,403.5 140.4,403.2 140.4,404.2 136,404.5ZM144.9,403 148.2,402.9 151.5,402.8 151.5,403.8 148.2,403.9 144.9,404ZM156,402.7 159.3,402.6 162.6,402.5 162.6,403.5 159.3,403.6 156,403.7ZM167.1,402.5 170.4,402.4 173.7,402.4 173.7,403.4 170.4,403.4 167.1,403.5ZM178.2,402.3 181.5,402.3 184.8,402.3 184.8,403.3 181.5,403.3 178.2,403.3ZM189.3,402.3 192.6,402.3 195.9,402.3 195.9,403.3 192.6,403.3 189.3,403.3ZM200.4,402.4 203.7,402.4 207,402.5 207,403.5 203.7,403.4 200.4,403.4ZM211.5,402.7 214.8,402.8 218.1,403 218.1,404 214.8,403.8 211.5,403.7ZM222.6,403.2 225.9,403.4 229.1,403.6 229.1,404.6 225.9,404.4 222.6,404.2ZM233.6,403.9 236.9,404.2 240.2,404.5 240.2,405.5 236.9,405.2 233.6,404.9ZM244.7,404.9 248,405.2 251.3,405.6 251.3,406.6 248,406.2 244.7,405.9ZM255.7,406.1 259,406.4 262.3,406.8 262.3,407.8 259,407.4 255.7,407.1ZM266.8,407.3 270,407.7 273.3,408.1 273.3,409.1 270,408.7 266.8,408.3ZM277.8,408.6 281.1,408.9 284.4,409.3 284.4,410.3 281.1,409.9 277.8,409.6ZM288.8,409.7 292.1,410.1 295.4,410.4 295.4,411.4 292.1,411.1 288.8,410.7ZM299.9,410.8 303.2,411.1 306.4,411.5 306.4,412.5 303.2,412.1 299.9,411.8ZM310.9,412.1 314.2,412.5 317.4,413 317.4,414 314.2,413.5 310.9,413.1ZM321.9,413.8 325.1,414.4 328.3,415.1 328.3,416.1 325.1,415.4 321.9,414.8ZM332.7,416.2 335.9,417 339.1,417.9 339.1,418.9 335.9,418 332.7,417.2ZM343.4,419.1 346.6,420 349.8,420.9 349.8,421.9 346.6,421 343.4,420.1ZM354.1,422.1 357.3,422.9 360.5,423.7 360.5,424.7 357.3,423.9 354.1,423.1ZM364.9,424.6 368.2,425.2 371.4,425.8 371.4,426.8 368.2,426.2 364.9,425.6ZM375.9,426.4 379.2,426.7 382.4,427 382.4,428 379.2,427.7 375.9,427.4ZM386.9,427.4 390.2,427.6 393.5,427.8 393.5,428.8 390.2,428.6 386.9,428.4ZM398,428.1 401.3,428.2 404.6,428.4 404.6,429.4 401.3,429.2 398,429.1ZM409.1,428.7 412.4,428.9 415.7,429.1 415.7,430.1 412.4,429.9 409.1,429.7ZM420.2,429.4 423.5,429.6 426.8,429.7 426.8,430.7 423.5,430.6 420.2,430.4ZM431.2,430 434.5,430.1 437.8,430.2 437.8,431.2 434.5,431.1 431.2,431ZM442.3,430.2 445.6,430.2 448.9,430.1 448.9,431.1 445.6,431.2 442.3,431.2ZM453.4,429.9 456.7,429.7 460,429.5 460,430.5 456.7,430.7 453.4,430.9ZM464.5,429.2 467.8,429 471.1,428.7 471.1,429.7 467.8,430 464.5,430.2ZM475.6,428.4 478.9,428.1 482.2,427.9 482.2,428.9 478.9,429.1 475.6,429.4ZM486.7,427.7 490,427.6 493.3,427.5 493.3,428.5 490,428.6 486.7,428.7ZM497.8,427.5 501.1,427.5 504.4,427.5 504.4,428.5 501.1,428.5 497.8,428.5ZM508.9,427.6 512.2,427.7 515.4,427.9 515.4,428.9 512.2,428.7 508.9,428.6ZM519.9,428.1 523.2,428.3 526.5,428.6 526.5,429.6 523.2,429.3 519.9,429.1ZM531,428.9 534.3,429.1 537.6,429.4 537.6,430.4 534.3,430.1 531,429.9ZM542.1,429.7 545.4,430 548.7,430.2 548.7,431.2 545.4,431 542.1,430.7ZM553.2,430.4 556.5,430.6 559.8,430.7 559.8,431.7 556.5,431.6 553.2,431.4ZM564.3,430.7 567.6,430.7 570.9,430.6 570.9,431.6 567.6,431.7 564.3,431.7ZM575.4,430.4 578.6,430.2 581.9,429.9 581.9,430.9 578.6,431.2 575.4,431.4ZM586.4,429.6 589.7,429.3 593,428.9 593,429.9 589.7,430.3 586.4,430.6ZM597.5,428.5 600.8,428.2 604,427.8 604,428.8 600.8,429.2 597.5,429.5ZM608.5,427.4 611.8,427.1 615.1,426.8 615.1,427.8 611.8,428.1 608.5,428.4ZM619.6,426.5 622.9,426.2 626.1,425.9 626.1,426.9 622.9,427.2 619.6,427.5ZM630.6,425.5 633.9,425.1 637.2,424.8 637.2,425.8 633.9,426.1 630.6,426.5ZM641.7,424.3 644.9,423.8 648.2,423.3 648.2,424.3 644.9,424.8 641.7,425.3ZM652.6,422.6 655.9,422.1 659.1,421.5 659.1,422.5 655.9,423.1 652.6,423.6ZM663.6,420.6 666.8,420 670,419.3 670,420.3 666.8,421 663.6,421.6ZM674.4,418.4 677.7,417.8 680.9,417.1 680.9,418.1 677.7,418.8 674.4,419.4ZM685.3,416.2 688.6,415.6 691.8,415 691.8,416 688.6,416.6 685.3,417.2ZM696.2,414.2 699.5,413.6 702.7,413 702.7,414 699.5,414.6 696.2,415.2ZM707.2,412.3 710.4,411.8 713.7,411.3 713.7,412.3 710.4,412.8 707.2,413.3ZM718.1,410.6 721.4,410.1 724.7,409.6 724.7,410.6 721.4,411.1 718.1,411.6ZM729.1,408.9 732.4,408.4 735.6,408 735.6,409 732.4,409.4 729.1,409.9ZM740.1,407.4 743.4,406.9 746.6,406.5 746.6,407.5 743.4,407.9 740.1,408.4ZM751.1,405.9 754.4,405.6 757.7,405.2 757.7,406.2 754.4,406.6 751.1,406.9ZM762.1,404.7 765.1,404.4 768,404.2 768,405.2 765.1,405.4 762.1,405.7Z"/>
<path d="M136,408.1 138.7,407.9 141.5,407.8 141.5,409.8 138.7,409.9 136,410.1ZM144.8,407.7 148.6,407.6 152.5,407.5 152.5,409.5 148.6,409.6 144.8,409.7ZM155.8,407.4 159.6,407.4 163.5,407.3 163.5,409.3 159.6,409.4 155.8,409.4ZM166.8,407.3 170.6,407.2 174.5,407.2 174.5,409.2 170.6,409.2 166.8,409.3ZM177.8,407.2 181.6,407.1 185.5,407.1 185.5,409.1 181.6,409.1 177.8,409.2ZM188.8,407.1 192.6,407.1 196.5,407.1 196.5,409.1 192.6,409.1 188.8,409.1ZM199.8,407.1 203.6,407.2 207.5,407.3 207.5,409.3 203.6,409.2 199.8,409.1ZM210.8,407.4 214.6,407.5 218.5,407.7 218.5,409.7 214.6,409.5 210.8,409.4ZM221.8,407.9 225.6,408.1 229.5,408.4 229.5,410.4 225.6,410.1 221.8,409.9ZM232.7,408.6 236.6,408.9 240.4,409.2 240.4,411.2 236.6,410.9 232.7,410.6ZM243.7,409.6 247.5,409.9 251.4,410.3 251.4,412.3 247.5,411.9 243.7,411.6ZM254.6,410.7 258.5,411.1 262.3,411.5 262.3,413.5 258.5,413.1 254.6,412.7ZM265.6,411.9 269.4,412.3 273.2,412.7 273.2,414.7 269.4,414.3 265.6,413.9ZM276.5,413 280.3,413.4 284.2,413.8 284.2,415.8 280.3,415.4 276.5,415ZM287.5,414.1 291.3,414.5 295.1,414.8 295.1,416.8 291.3,416.5 287.5,416.1ZM298.4,415.1 302.3,415.4 306.1,415.8 306.1,417.8 302.3,417.4 298.4,417.1ZM309.4,416.2 313.2,416.7 317,417.2 317,419.2 313.2,418.7 309.4,418.2ZM320.3,417.7 324,418.4 327.8,419.2 327.8,421.2 324,420.4 320.3,419.7ZM331,420 334.8,420.9 338.5,421.9 338.5,423.9 334.8,422.9 331,422ZM395.6,432.5 399.5,432.7 403.3,432.9 403.3,434.9 399.5,434.7 395.6,434.5ZM406.6,433.1 410.5,433.3 414.3,433.6 414.3,435.6 410.5,435.3 406.6,435.1ZM417.6,433.8 421.4,434 425.3,434.2 425.3,436.2 421.4,436 417.6,435.8ZM428.6,434.3 432.4,434.5 436.3,434.6 436.3,436.6 432.4,436.5 428.6,436.3ZM439.6,434.6 443.4,434.6 447.3,434.5 447.3,436.5 443.4,436.6 439.6,436.6ZM450.6,434.4 454.4,434.2 458.3,433.9 458.3,435.9 454.4,436.2 450.6,436.4ZM461.5,433.7 465.4,433.4 469.2,433.1 469.2,435.1 465.4,435.4 461.5,435.7ZM472.5,432.8 476.4,432.5 480.2,432.2 480.2,434.2 476.4,434.5 472.5,434.8ZM483.5,432 487.3,431.8 491.2,431.7 491.2,433.7 487.3,433.8 483.5,434ZM494.5,431.7 498.3,431.6 502.2,431.7 502.2,433.7 498.3,433.6 494.5,433.7ZM505.5,431.7 509.3,431.8 513.2,432 513.2,434 509.3,433.8 505.5,433.7ZM516.5,432.1 520.3,432.3 524.2,432.6 524.2,434.6 520.3,434.3 516.5,434.1ZM527.5,432.8 531.3,433.1 535.1,433.4 535.1,435.4 531.3,435.1 527.5,434.8ZM538.4,433.6 542.3,433.9 546.1,434.1 546.1,436.1 542.3,435.9 538.4,435.6ZM549.4,434.3 553.2,434.5 557.1,434.7 557.1,436.7 553.2,436.5 549.4,436.3ZM560.4,434.8 564.2,434.8 568.1,434.8 568.1,436.8 564.2,436.8 560.4,436.8ZM571.4,434.7 575.2,434.5 579.1,434.3 579.1,436.3 575.2,436.5 571.4,436.7ZM582.4,434.1 586.2,433.8 590,433.5 590,435.5 586.2,435.8 582.4,436.1ZM593.3,433.2 597.2,432.9 601,432.5 601,434.5 597.2,434.9 593.3,435.2ZM604.3,432.3 608.1,432 612,431.7 612,433.7 608.1,434 604.3,434.3ZM615.3,431.4 619.1,431.1 622.9,430.9 622.9,432.9 619.1,433.1 615.3,433.4ZM626.2,430.6 630.1,430.3 633.9,429.9 633.9,431.9 630.1,432.3 626.2,432.6ZM637.2,429.6 641,429.2 644.8,428.7 644.8,430.7 641,431.2 637.2,431.6ZM648.1,428.2 651.9,427.6 655.7,427 655.7,429 651.9,429.6 648.1,430.2ZM658.9,426.4 662.7,425.6 666.5,424.9 666.5,426.9 662.7,427.6 658.9,428.4ZM669.7,424.2 673.5,423.4 677.3,422.6 677.3,424.6 673.5,425.4 669.7,426.2ZM680.5,422 684.3,421.2 688,420.4 688,422.4 684.3,423.2 680.5,424ZM691.3,419.8 695.1,419.1 698.8,418.4 698.8,420.4 695.1,421.1 691.3,421.8ZM702.1,417.8 705.9,417.1 709.7,416.5 709.7,418.5 705.9,419.1 702.1,419.8ZM712.9,416 716.7,415.4 720.5,414.8 720.5,416.8 716.7,417.4 712.9,418ZM723.8,414.2 727.6,413.7 731.4,413.1 731.4,415.1 727.6,415.7 723.8,416.2ZM734.7,412.6 738.5,412.1 742.3,411.5 742.3,413.5 738.5,414.1 734.7,414.6ZM745.6,411.1 749.4,410.6 753.2,410.2 753.2,412.2 749.4,412.6 745.6,413.1ZM756.5,409.8 760.3,409.4 764.2,409 764.2,411 760.3,411.4 756.5,411.8ZM767.4,408.8 768,408.7 768,410.7 767.4,410.8Z"/>
<path d="M136,413.6 140.4,413.4 140.4,414.4 136,414.6ZM144.9,413.2 148.2,413.1 151.5,413.1 151.5,414.1 148.2,414.1 144.9,414.2ZM156,413 159.3,413 162.6,413 162.6,414 159.3,414 156,414ZM167.1,412.9 170.4,412.9 173.7,412.9 173.7,413.9 170.4,413.9 167.1,413.9ZM178.2,412.8 181.5,412.8 184.8,412.7 184.8,413.7 181.5,413.8 178.2,413.8ZM189.3,412.7 192.6,412.7 195.9,412.7 195.9,413.7 192.6,413.7 189.3,413.7ZM200.4,412.7 203.7,412.7 207,412.8 207,413.8 203.7,413.7 200.4,413.7ZM211.5,413 214.8,413.1 218.1,413.2 218.1,414.2 214.8,414.1 211.5,414ZM222.6,413.5 225.9,413.7 229.2,413.9 229.2,414.9 225.9,414.7 222.6,414.5ZM233.6,414.3 236.9,414.6 240.2,414.8 240.2,415.8 236.9,415.6 233.6,415.3ZM244.7,415.3 248,415.6 251.3,415.9 251.3,416.9 248,416.6 244.7,416.3ZM255.7,416.4 259,416.7 262.3,417.1 262.3,418.1 259,417.7 255.7,417.4ZM266.8,417.5 270.1,417.9 273.3,418.2 273.3,419.2 270.1,418.9 266.8,418.5ZM277.8,418.7 281.1,419 284.4,419.3 284.4,420.3 281.1,420 277.8,419.7ZM288.9,419.7 292.2,419.9 295.5,420.2 295.5,421.2 292.2,420.9 288.9,420.7ZM299.9,420.6 303.2,420.9 306.5,421.2 306.5,422.2 303.2,421.9 299.9,421.6ZM311,421.7 314.3,422.2 317.5,422.6 317.5,423.6 314.3,423.2 311,422.7ZM322,423.4 325.2,424 328.4,424.6 328.4,425.6 325.2,425 322,424.4ZM332.8,425.7 336,426.5 339.2,427.3 339.2,428.3 336,427.5 332.8,426.7ZM343.5,428.5 346.7,429.4 349.9,430.3 349.9,431.3 346.7,430.4 343.5,429.5ZM354.3,431.4 357.5,432.2 360.7,433 360.7,434 357.5,433.2 354.3,432.4ZM365,434 368.3,434.7 371.5,435.2 371.5,436.2 368.3,435.7 365,435ZM376,435.9 379.3,436.3 382.5,436.7 382.5,437.7 379.3,437.3 376,436.9ZM387,437.2 390.3,437.4 393.6,437.7 393.6,438.7 390.3,438.4 387,438.2ZM398.1,438 401.4,438.2 404.7,438.4 404.7,439.4 401.4,439.2 398.1,439ZM409.2,438.7 412.5,438.9 415.7,439.1 415.7,440.1 412.5,439.9 409.2,439.7ZM420.2,439.4 423.5,439.5 426.8,439.7 426.8,440.7 423.5,440.5 420.2,440.4ZM431.3,439.8 434.6,439.9 437.9,440 437.9,441 434.6,440.9 431.3,440.8ZM442.4,439.9 445.7,439.9 449,439.7 449,440.7 445.7,440.9 442.4,440.9ZM453.5,439.5 456.8,439.3 460.1,439 460.1,440 456.8,440.3 453.5,440.5ZM464.6,438.7 467.9,438.4 471.2,438.1 471.2,439.1 467.9,439.4 464.6,439.7ZM475.6,437.7 478.9,437.5 482.2,437.3 482.2,438.3 478.9,438.5 475.6,438.7ZM486.7,437 490,436.9 493.3,436.8 493.3,437.8 490,437.9 486.7,438ZM497.8,436.8 501.1,436.8 504.4,436.9 504.4,437.9 501.1,437.8 497.8,437.8ZM508.9,437 512.2,437.1 515.5,437.2 515.5,438.2 512.2,438.1 508.9,438ZM520,437.5 523.3,437.7 526.6,437.9 526.6,438.9 523.3,438.7 520,438.5ZM531.1,438.2 534.4,438.4 537.7,438.7 537.7,439.7 534.4,439.4 531.1,439.2ZM542.2,439 545.4,439.2 548.7,439.4 548.7,440.4 545.4,440.2 542.2,440ZM553.2,439.7 556.5,439.8 559.8,439.9 559.8,440.9 556.5,440.8 553.2,440.7ZM564.3,440 567.6,439.9 570.9,439.9 570.9,440.9 567.6,440.9 564.3,441ZM575.4,439.7 578.7,439.6 582,439.4 582,440.4 578.7,440.6 575.4,440.7ZM586.5,439.1 589.8,438.9 593.1,438.6 593.1,439.6 589.8,439.9 586.5,440.1ZM597.6,438.3 600.9,438 604.2,437.8 604.2,438.8 600.9,439 597.6,439.3ZM608.6,437.4 611.9,437.2 615.2,437 615.2,438 611.9,438.2 608.6,438.4ZM619.7,436.7 623,436.5 626.3,436.2 626.3,437.2 623,437.5 619.7,437.7ZM630.8,435.9 634.1,435.6 637.4,435.2 637.4,436.2 634.1,436.6 630.8,436.9ZM641.8,434.7 645.1,434.3 648.4,433.8 648.4,434.8 645.1,435.3 641.8,435.7ZM652.8,433.1 656.1,432.5 659.3,431.9 659.3,432.9 656.1,433.5 652.8,434.1ZM663.7,431 666.9,430.4 670.2,429.7 670.2,430.7 666.9,431.4 663.7,432ZM674.6,428.8 677.8,428.1 681,427.4 681,428.4 677.8,429.1 674.6,429.8ZM685.4,426.5 688.7,425.8 691.9,425.2 691.9,426.2 688.7,426.8 685.4,427.5ZM696.3,424.3 699.6,423.7 702.8,423.1 702.8,424.1 699.6,424.7 696.3,425.3ZM707.3,422.4 710.5,421.8 713.8,421.3 713.8,422.3 710.5,422.8 707.3,423.4ZM718.2,420.5 721.5,420 724.7,419.5 724.7,420.5 721.5,421 718.2,421.5ZM729.2,418.8 732.4,418.3 735.7,417.8 735.7,418.8 732.4,419.3 729.2,419.8ZM740.1,417.2 743.4,416.7 746.7,416.3 746.7,417.3 743.4,417.7 740.1,418.2ZM751.2,415.7 754.4,415.4 757.7,415 757.7,416 754.4,416.4 751.2,416.7ZM762.2,414.6 765.1,414.3 768,414.1 768,415.1 765.1,415.3 762.2,415.6Z"/>
<path d="M136,418 138.7,417.9 141.5,417.8 141.5,419.8 138.7,419.9 136,420ZM144.8,417.7 148.6,417.6 152.5,417.5 152.5,419.5 148.6,419.6 144.8,419.7ZM155.8,417.5 159.6,417.5 163.5,417.5 163.5,419.5 159.6,419.5 155.8,419.5ZM166.8,417.5 170.6,417.4 174.5,417.4 174.5,419.4 170.6,419.4 166.8,419.5ZM177.8,417.3 181.6,417.3 185.5,417.2 185.5,419.2 181.6,419.3 177.8,419.3ZM188.8,417.2 192.6,417.2 196.5,417.2 196.5,419.2 192.6,419.2 188.8,419.2ZM199.8,417.2 203.6,417.2 207.5,417.3 207.5,419.3 203.6,419.2 199.8,419.2ZM210.8,417.4 214.6,417.6 218.5,417.8 218.5,419.8 214.6,419.6 210.8,419.4ZM221.8,418 225.6,418.2 229.5,418.5 229.5,420.5 225.6,420.2 221.8,420ZM232.7,418.7 236.6,419 240.4,419.4 240.4,421.4 236.6,421 232.7,420.7ZM243.7,419.7 247.5,420 251.4,420.4 251.4,422.4 247.5,422 243.7,421.7ZM254.7,420.7 258.5,421.1 262.3,421.5 262.3,423.5 258.5,423.1 254.7,422.7ZM265.6,421.8 269.4,422.2 273.3,422.6 273.3,424.6 269.4,424.2 265.6,423.8ZM276.5,422.9 280.4,423.3 284.2,423.7 284.2,425.7 280.4,425.3 276.5,424.9ZM287.5,424 291.3,424.3 295.2,424.6 295.2,426.6 291.3,426.3 287.5,426ZM298.5,424.9 302.3,425.3 306.1,425.7 306.1,427.7 302.3,427.3 298.5,426.9ZM309.4,426.1 313.2,426.5 317,427.1 317,429.1 313.2,428.5 309.4,428.1ZM320.3,427.6 324.1,428.2 327.9,429 327.9,431 324.1,430.2 320.3,429.6ZM331.1,429.7 334.8,430.6 338.6,431.5 338.6,433.5 334.8,432.6 331.1,431.7ZM395.8,442.1 399.6,442.4 403.5,442.7 403.5,444.7 399.6,444.4 395.8,444.1ZM406.7,442.9 410.6,443.2 414.4,443.4 414.4,445.4 410.6,445.2 406.7,444.9ZM417.7,443.6 421.6,443.8 425.4,444 425.4,446 421.6,445.8 417.7,445.6ZM428.7,444.2 432.6,444.3 436.4,444.3 436.4,446.3 432.6,446.3 428.7,446.2ZM439.7,444.3 443.6,444.3 447.4,444.1 447.4,446.1 443.6,446.3 439.7,446.3ZM450.7,444 454.5,443.7 458.4,443.4 458.4,445.4 454.5,445.7 450.7,446ZM461.7,443.1 465.5,442.8 469.3,442.4 469.3,444.4 465.5,444.8 461.7,445.1ZM472.6,442.1 476.5,441.8 480.3,441.5 480.3,443.5 476.5,443.8 472.6,444.1ZM483.6,441.3 487.4,441.1 491.3,441 491.3,443 487.4,443.1 483.6,443.3ZM494.6,440.9 498.4,440.9 502.3,440.9 502.3,442.9 498.4,442.9 494.6,442.9ZM505.6,441 509.4,441.1 513.3,441.3 513.3,443.3 509.4,443.1 505.6,443ZM516.6,441.4 520.4,441.6 524.3,441.9 524.3,443.9 520.4,443.6 516.6,443.4ZM527.6,442.1 531.4,442.4 535.2,442.7 535.2,444.7 531.4,444.4 527.6,444.1ZM538.5,442.9 542.4,443.2 546.2,443.4 546.2,445.4 542.4,445.2 538.5,444.9ZM549.5,443.6 553.3,443.8 557.2,444 557.2,446 553.3,445.8 549.5,445.6ZM560.5,444.1 564.3,444.2 568.2,444.2 568.2,446.2 564.3,446.2 560.5,446.1ZM571.5,444.1 575.3,444 579.2,443.9 579.2,445.9 575.3,446 571.5,446.1ZM582.5,443.7 586.3,443.5 590.2,443.3 590.2,445.3 586.3,445.5 582.5,445.7ZM593.5,443 597.3,442.8 601.1,442.5 601.1,444.5 597.3,444.8 593.5,445ZM604.4,442.3 608.3,442 612.1,441.7 612.1,443.7 608.3,444 604.4,444.3ZM615.4,441.5 619.2,441.2 623.1,440.9 623.1,442.9 619.2,443.2 615.4,443.5ZM626.4,440.6 630.2,440.3 634,439.9 634,441.9 630.2,442.3 626.4,442.6ZM637.3,439.6 641.1,439.1 645,438.6 645,440.6 641.1,441.1 637.3,441.6ZM648.2,438.1 652,437.5 655.8,436.8 655.8,438.8 652,439.5 648.2,440.1ZM659.1,436.2 662.8,435.5 666.6,434.7 666.6,436.7 662.8,437.5 659.1,438.2ZM669.8,434 673.6,433.2 677.4,432.4 677.4,434.4 673.6,435.2 669.8,436ZM680.6,431.7 684.4,430.9 688.1,430.2 688.1,432.2 684.4,432.9 680.6,433.7ZM691.4,429.5 695.2,428.8 698.9,428.1 698.9,430.1 695.2,430.8 691.4,431.5ZM702.2,427.5 706,426.9 709.8,426.2 709.8,428.2 706,428.9 702.2,429.5ZM713,425.7 716.8,425 720.6,424.4 720.6,426.4 716.8,427 713,427.7ZM723.9,423.9 727.7,423.3 731.5,422.7 731.5,424.7 727.7,425.3 723.9,425.9ZM734.8,422.2 738.6,421.6 742.4,421.1 742.4,423.1 738.6,423.6 734.8,424.2ZM745.6,420.7 749.5,420.2 753.3,419.7 753.3,421.7 749.5,422.2 745.6,422.7ZM756.6,419.4 760.4,419 764.2,418.6 764.2,420.6 760.4,421 756.6,421.4ZM767.5,418.4 768,418.4 768,420.4 767.5,420.4Z"/>
<path d="M136,423.3 140.4,423.2 140.4,424.2 136,424.3ZM144.9,423 148.2,423 151.5,422.9 151.5,423.9 148.2,424 144.9,424ZM156,422.9 159.3,422.9 162.6,422.9 162.6,423.9 159.3,423.9 156,423.9ZM167.1,422.9 170.4,422.8 173.7,422.8 173.7,423.8 170.4,423.8 167.1,423.9ZM178.2,422.7 181.5,422.7 184.8,422.7 184.8,423.7 181.5,423.7 178.2,423.7ZM189.3,422.6 192.6,422.6 195.9,422.6 195.9,423.6 192.6,423.6 189.3,423.6ZM200.4,422.7 203.7,422.7 207,422.8 207,423.8 203.7,423.7 200.4,423.7ZM211.5,423 214.8,423.1 218.1,423.2 218.1,424.2 214.8,424.1 211.5,424ZM222.6,423.5 225.9,423.7 229.2,423.9 229.2,424.9 225.9,424.7 222.6,424.5ZM233.6,424.2 236.9,424.5 240.2,424.8 240.2,425.8 236.9,425.5 233.6,425.2ZM244.7,425.2 248,425.5 251.3,425.8 251.3,426.8 248,426.5 244.7,426.2ZM255.8,426.2 259,426.5 262.3,426.8 262.3,427.8 259,427.5 255.8,427.2ZM266.8,427.3 270.1,427.6 273.4,427.9 273.4,428.9 270.1,428.6 266.8,428.3ZM277.9,428.4 281.1,428.7 284.4,429.1 284.4,430.1 281.1,429.7 277.9,429.4ZM288.9,429.5 292.2,429.9 295.5,430.2 295.5,431.2 292.2,430.9 288.9,430.5ZM299.9,430.7 303.2,431 306.5,431.4 306.5,432.4 303.2,432 299.9,431.7ZM311,432 314.2,432.4 317.5,432.9 317.5,433.9 314.2,433.4 311,433ZM321.9,433.7 325.2,434.2 328.4,434.9 328.4,435.9 325.2,435.2 321.9,434.7ZM332.8,435.8 336,436.5 339.3,437.3 339.3,438.3 336,437.5 332.8,436.8ZM343.6,438.3 346.8,439.1 350,439.9 350,440.9 346.8,440.1 343.6,439.3ZM354.4,440.9 357.7,441.6 360.9,442.3 360.9,443.3 357.7,442.6 354.4,441.9ZM365.3,443.2 368.5,443.8 371.8,444.3 371.8,445.3 368.5,444.8 365.3,444.2ZM376.2,445 379.5,445.5 382.8,445.9 382.8,446.9 379.5,446.5 376.2,446ZM387.3,446.4 390.5,446.7 393.8,447 393.8,448 390.5,447.7 387.3,447.4ZM398.3,447.4 401.6,447.7 404.9,448 404.9,449 401.6,448.7 398.3,448.4ZM409.4,448.3 412.7,448.6 415.9,448.8 415.9,449.8 412.7,449.6 409.4,449.3ZM420.4,449.1 423.7,449.3 427,449.5 427,450.5 423.7,450.3 420.4,450.1ZM431.5,449.6 434.8,449.7 438.1,449.7 438.1,450.7 434.8,450.7 431.5,450.6ZM442.6,449.7 445.9,449.6 449.2,449.4 449.2,450.4 445.9,450.6 442.6,450.7ZM453.7,449.1 457,448.8 460.3,448.5 460.3,449.5 457,449.8 453.7,450.1ZM464.8,448.1 468,447.7 471.3,447.4 471.3,448.4 468,448.7 464.8,449.1ZM475.8,447 479.1,446.7 482.4,446.4 482.4,447.4 479.1,447.7 475.8,448ZM486.9,446.2 490.2,446 493.5,445.9 493.5,446.9 490.2,447 486.9,447.2ZM498,445.9 501.3,445.9 504.6,446 504.6,447 501.3,446.9 498,446.9ZM509.1,446.1 512.4,446.3 515.7,446.4 515.7,447.4 512.4,447.3 509.1,447.1ZM520.2,446.7 523.4,446.9 526.7,447.2 526.7,448.2 523.4,447.9 520.2,447.7ZM531.2,447.5 534.5,447.8 537.8,448 537.8,449 534.5,448.8 531.2,448.5ZM542.3,448.4 545.6,448.6 548.9,448.8 548.9,449.8 545.6,449.6 542.3,449.4ZM553.4,449.1 556.7,449.3 560,449.4 560,450.4 556.7,450.3 553.4,450.1ZM564.5,449.5 567.8,449.6 571.1,449.5 571.1,450.5 567.8,450.6 564.5,450.5ZM575.6,449.5 578.9,449.4 582.2,449.2 582.2,450.2 578.9,450.4 575.6,450.5ZM586.6,449 589.9,448.8 593.2,448.6 593.2,449.6 589.9,449.8 586.6,450ZM597.7,448.3 601,448 604.3,447.8 604.3,448.8 601,449 597.7,449.3ZM608.8,447.4 612.1,447.1 615.4,446.8 615.4,447.8 612.1,448.1 608.8,448.4ZM619.8,446.4 623.1,446.1 626.4,445.7 626.4,446.7 623.1,447.1 619.8,447.4ZM630.9,445.2 634.2,444.8 637.4,444.4 637.4,445.4 634.2,445.8 630.9,446.2ZM641.9,443.8 645.1,443.3 648.4,442.8 648.4,443.8 645.1,444.3 641.9,444.8ZM652.8,442 656.1,441.4 659.3,440.8 659.3,441.8 656.1,442.4 652.8,443ZM663.8,439.9 667,439.3 670.2,438.6 670.2,439.6 667,440.3 663.8,440.9ZM674.6,437.8 677.9,437.1 681.1,436.4 681.1,437.4 677.9,438.1 674.6,438.8ZM685.5,435.6 688.8,435 692,434.4 692,435.4 688.8,436 685.5,436.6ZM696.4,433.6 699.7,433 702.9,432.4 702.9,433.4 699.7,434 696.4,434.6ZM707.4,431.7 710.6,431.1 713.9,430.6 713.9,431.6 710.6,432.1 707.4,432.7ZM718.3,429.9 721.6,429.4 724.8,428.9 724.8,429.9 721.6,430.4 718.3,430.9ZM729.3,428.2 732.6,427.7 735.8,427.2 735.8,428.2 732.6,428.7 729.3,429.2ZM740.3,426.6 743.5,426.1 746.8,425.7 746.8,426.7 743.5,427.1 740.3,427.6ZM751.3,425.2 754.6,424.8 757.8,424.4 757.8,425.4 754.6,425.8 751.3,426.2ZM762.3,424 765.2,423.8 768,423.6 768,424.6 765.2,424.8 762.3,425Z"/>
<path d="M136,427.7 138.7,427.6 141.5,427.5 141.5,429.5 138.7,429.6 136,429.7ZM144.8,427.4 148.6,427.3 152.5,427.3 152.5,429.3 148.6,429.3 144.8,429.4ZM155.8,427.2 159.6,427.2 163.5,427.2 163.5,429.2 159.6,429.2 155.8,429.2ZM166.8,427.2 170.6,427.2 174.5,427.2 174.5,429.2 170.6,429.2 166.8,429.2ZM177.8,427.1 181.6,427.1 185.5,427.1 185.5,429.1 181.6,429.1 177.8,429.1ZM188.8,427.1 192.6,427.2 196.5,427.2 196.5,429.2 192.6,429.2 188.8,429.1ZM199.8,427.2 203.6,427.3 207.5,427.4 207.5,429.4 203.6,429.3 199.8,429.2ZM210.8,427.5 214.6,427.7 218.5,427.8 218.5,429.8 214.6,429.7 210.8,429.5ZM221.8,428 225.6,428.2 229.5,428.4 229.5,430.4 225.6,430.2 221.8,430ZM232.8,428.6 236.6,428.9 240.4,429.2 240.4,431.2 236.6,430.9 232.8,430.6ZM243.7,429.4 247.6,429.7 251.4,430.1 251.4,432.1 247.6,431.7 243.7,431.4ZM254.7,430.4 258.5,430.7 262.4,431.1 262.4,433.1 258.5,432.7 254.7,432.4ZM265.6,431.4 269.5,431.8 273.3,432.2 273.3,434.2 269.5,433.8 265.6,433.4ZM276.6,432.6 280.4,433 284.2,433.5 284.2,435.5 280.4,435 276.6,434.6ZM287.5,433.9 291.3,434.4 295.1,434.9 295.1,436.9 291.3,436.4 287.5,435.9ZM298.4,435.3 302.2,435.8 306,436.4 306,438.4 302.2,437.8 298.4,437.3ZM309.3,436.9 313.1,437.5 316.9,438.1 316.9,440.1 313.1,439.5 309.3,438.9ZM320.2,438.6 323.9,439.3 327.7,440 327.7,442 323.9,441.3 320.2,440.6ZM331,440.7 334.7,441.4 338.5,442.2 338.5,444.2 334.7,443.4 331,442.7ZM396.1,451.2 399.9,451.5 403.7,451.9 403.7,453.9 399.9,453.5 396.1,453.2ZM407,452.2 410.9,452.5 414.7,452.9 414.7,454.9 410.9,454.5 407,454.2ZM418,453.1 421.8,453.4 425.7,453.7 425.7,455.7 421.8,455.4 418,455.1ZM429,453.9 432.8,454 436.7,454.1 436.7,456.1 432.8,456 429,455.9ZM440,454.1 443.8,454.1 447.6,453.9 447.6,455.9 443.8,456.1 440,456.1ZM450.9,453.7 454.8,453.4 458.6,453 458.6,455 454.8,455.4 450.9,455.7ZM461.9,452.6 465.7,452.2 469.5,451.7 469.5,453.7 465.7,454.2 461.9,454.6ZM472.8,451.4 476.6,450.9 480.5,450.6 480.5,452.6 476.6,452.9 472.8,453.4ZM483.8,450.3 487.6,450 491.4,449.9 491.4,451.9 487.6,452 483.8,452.3ZM494.7,449.8 498.6,449.8 502.4,449.8 502.4,451.8 498.6,451.8 494.7,451.8ZM505.7,449.9 509.6,450.1 513.4,450.3 513.4,452.3 509.6,452.1 505.7,451.9ZM516.7,450.5 520.6,450.7 524.4,451 524.4,453 520.6,452.7 516.7,452.5ZM527.7,451.3 531.5,451.7 535.4,452 535.4,454 531.5,453.7 527.7,453.3ZM538.7,452.3 542.5,452.7 546.3,453 546.3,455 542.5,454.7 538.7,454.3ZM549.6,453.3 553.5,453.5 557.3,453.8 557.3,455.8 553.5,455.5 549.6,455.3ZM560.6,454 564.4,454.1 568.3,454.2 568.3,456.2 564.4,456.1 560.6,456ZM571.6,454.2 575.4,454.1 579.3,454 579.3,456 575.4,456.1 571.6,456.2ZM582.6,453.9 586.4,453.7 590.3,453.5 590.3,455.5 586.4,455.7 582.6,455.9ZM593.6,453.2 597.4,452.9 601.2,452.5 601.2,454.5 597.4,454.9 593.6,455.2ZM604.5,452.2 608.3,451.7 612.2,451.3 612.2,453.3 608.3,453.7 604.5,454.2ZM615.4,450.8 619.2,450.3 623.1,449.8 623.1,451.8 619.2,452.3 615.4,452.8ZM626.3,449.3 630.1,448.7 633.9,448.1 633.9,450.1 630.1,450.7 626.3,451.3ZM637.2,447.6 641,446.9 644.8,446.3 644.8,448.3 641,448.9 637.2,449.6ZM648,445.7 651.8,445 655.6,444.3 655.6,446.3 651.8,447 648,447.7ZM658.8,443.7 662.6,443 666.4,442.3 666.4,444.3 662.6,445 658.8,445.7ZM669.7,441.7 673.5,441.1 677.2,440.4 677.2,442.4 673.5,443.1 669.7,443.7ZM680.5,439.8 684.3,439.2 688.1,438.5 688.1,440.5 684.3,441.2 680.5,441.8ZM691.3,438 695.1,437.4 698.9,436.8 698.9,438.8 695.1,439.4 691.3,440ZM702.2,436.3 706,435.7 709.8,435.2 709.8,437.2 706,437.7 702.2,438.3ZM713.1,434.7 716.9,434.1 720.7,433.6 720.7,435.6 716.9,436.1 713.1,436.7ZM724,433.1 727.8,432.6 731.6,432 731.6,434 727.8,434.6 724,435.1ZM734.9,431.6 738.7,431 742.5,430.5 742.5,432.5 738.7,433 734.9,433.6ZM745.8,430.1 749.6,429.6 753.4,429.2 753.4,431.2 749.6,431.6 745.8,432.1ZM756.7,428.8 760.5,428.5 764.4,428.2 764.4,430.2 760.5,430.5 756.7,430.8ZM767.7,427.9 768,427.9 768,429.9 767.7,429.9Z"/>
</g>
<g fill="none" stroke="#000" stroke-linecap="round" stroke-linejoin="round" shape-rendering="crispEdges">
<path transform="translate(355 324.8) rotate(18.3)" d="M-15,-5.4 -16.7,-4.8 -17.9,-3.3 -18.4,-0.8 -18.4,0.8 -17.9,3.3 -16.7,4.8 -15,5.4 -13.8,5.4 -12.1,4.8 -10.9,3.3 -10.4,0.8 -10.4,-0.8 -10.9,-3.3 -12.1,-4.8 -13.8,-5.4 -15,-5.4M-5.8,4.3 -6.3,4.8 -5.8,5.4 -5.2,4.8 -5.8,4.3M2.3,-5.4 0.6,-4.8 -0.6,-3.3 -1.2,-0.8 -1.2,0.8 -0.6,3.3 0.6,4.8 2.3,5.4 3.5,5.4 5.2,4.8 6.3,3.3 6.9,0.8 6.9,-0.8 6.3,-3.3 5.2,-4.8 3.5,-5.4 2.3,-5.4M17.3,-5.4 11.5,-5.4 10.9,-0.8 11.5,-1.3 13.2,-1.8 15,-1.8 16.7,-1.3 17.9,-0.3 18.4,1.3 18.4,2.3 17.9,3.8 16.7,4.8 15,5.4 13.2,5.4 11.5,4.8 10.9,4.3 10.4,3.3" stroke-width="2"/>
<path transform="translate(355.8 342.6) rotate(16.6)" d="M-14.8,-5.4 -16.5,-4.8 -17.6,-3.3 -18.2,-0.8 -18.2,0.8 -17.6,3.3 -16.5,4.8 -14.8,5.4 -13.7,5.4 -12,4.8 -10.9,3.3 -10.4,0.8 -10.4,-0.8 -10.9,-3.3 -12,-4.8 -13.7,-5.4 -14.8,-5.4M-5.9,4.3 -6.4,4.8 -5.9,5.4 -5.3,4.8 -5.9,4.3M2,-5.4 0.3,-4.8 -0.8,-3.3 -1.4,-0.8 -1.4,0.8 -0.8,3.3 0.3,4.8 2,5.4 3.1,5.4 4.8,4.8 5.9,3.3 6.4,0.8 6.4,-0.8 5.9,-3.3 4.8,-4.8 3.1,-5.4 2,-5.4M15.4,-5.4 9.8,1.8 18.2,1.8M15.4,-5.4 15.4,5.4" stroke-width="2"/>
<path transform="translate(356.5 357.9) rotate(14.5)" d="M-14.6,-5.4 -16.3,-4.8 -17.4,-3.3 -18,-0.8 -18,0.8 -17.4,3.3 -16.3,4.8 -14.6,5.4 -13.5,5.4 -11.8,4.8 -10.7,3.3 -10.1,0.8 -10.1,-0.8 -10.7,-3.3 -11.8,-4.8 -13.5,-5.4 -14.6,-5.4M-5.6,4.3 -6.2,4.8 -5.6,5.4 -5.1,4.8 -5.6,4.3M2.2,-5.4 0.6,-4.8 -0.6,-3.3 -1.1,-0.8 -1.1,0.8 -0.6,3.3 0.6,4.8 2.2,5.4 3.4,5.4 5.1,4.8 6.2,3.3 6.7,0.8 6.7,-0.8 6.2,-3.3 5.1,-4.8 3.4,-5.4 2.2,-5.4M11.2,-5.4 17.4,-5.4 14,-1.3 15.7,-1.3 16.8,-0.8 17.4,-0.3 18,1.3 18,2.3 17.4,3.8 16.3,4.8 14.6,5.4 12.9,5.4 11.2,4.8 10.7,4.3 10.1,3.3" stroke-width="2"/>
<path transform="translate(357.2 371.8) rotate(12.8)" d="M-14.5,-5.4 -16.1,-4.8 -17.2,-3.3 -17.8,-0.8 -17.8,0.8 -17.2,3.3 -16.1,4.8 -14.5,5.4 -13.3,5.4 -11.7,4.8 -10.6,3.3 -10,0.8 -10,-0.8 -10.6,-3.3 -11.7,-4.8 -13.3,-5.4 -14.5,-5.4M-5.6,4.3 -6.1,4.8 -5.6,5.4 -5,4.8 -5.6,4.3M2.2,-5.4 0.6,-4.8 -0.6,-3.3 -1.1,-0.8 -1.1,0.8 -0.6,3.3 0.6,4.8 2.2,5.4 3.3,5.4 5,4.8 6.1,3.3 6.7,0.8 6.7,-0.8 6.1,-3.3 5,-4.8 3.3,-5.4 2.2,-5.4M10.6,-2.8 10.6,-3.3 11.1,-4.3 11.7,-4.8 12.8,-5.4 15,-5.4 16.1,-4.8 16.7,-4.3 17.2,-3.3 17.2,-2.3 16.7,-1.3 15.6,0.3 10,5.4 17.8,5.4" stroke-width="2"/>
<path transform="translate(358 384.8) rotate(11.7)" d="M-14,-5.4 -15.8,-4.8 -17.1,-3.3 -17.7,-0.8 -17.7,0.8 -17.1,3.3 -15.8,4.8 -14,5.4 -12.8,5.4 -11,4.8 -9.7,3.3 -9.1,0.8 -9.1,-0.8 -9.7,-3.3 -11,-4.8 -12.8,-5.4 -14,-5.4M-4.3,4.3 -4.9,4.8 -4.3,5.4 -3.7,4.8 -4.3,4.3M4.3,-5.4 2.4,-4.8 1.2,-3.3 0.6,-0.8 0.6,0.8 1.2,3.3 2.4,4.8 4.3,5.4 5.5,5.4 7.3,4.8 8.5,3.3 9.1,0.8 9.1,-0.8 8.5,-3.3 7.3,-4.8 5.5,-5.4 4.3,-5.4M14.6,-3.3 15.8,-3.8 17.7,-5.4 17.7,5.4" stroke-width="2"/>
<path transform="translate(358.8 397.1) rotate(11.5)" d="M-14.3,-5.4 -16,-4.8 -17.1,-3.3 -17.6,-0.8 -17.6,0.8 -17.1,3.3 -16,4.8 -14.3,5.4 -13.2,5.4 -11.6,4.8 -10.5,3.3 -9.9,0.8 -9.9,-0.8 -10.5,-3.3 -11.6,-4.8 -13.2,-5.4 -14.3,-5.4M-5.5,4.3 -6.1,4.8 -5.5,5.4 -5,4.8 -5.5,4.3M2.2,-5.4 0.6,-4.8 -0.6,-3.3 -1.1,-0.8 -1.1,0.8 -0.6,3.3 0.6,4.8 2.2,5.4 3.3,5.4 5,4.8 6.1,3.3 6.6,0.8 6.6,-0.8 6.1,-3.3 5,-4.8 3.3,-5.4 2.2,-5.4M13.2,-5.4 11.6,-4.8 10.5,-3.3 9.9,-0.8 9.9,0.8 10.5,3.3 11.6,4.8 13.2,5.4 14.3,5.4 16,4.8 17.1,3.3 17.6,0.8 17.6,-0.8 17.1,-3.3 16,-4.8 14.3,-5.4 13.2,-5.4" stroke-width="2"/>
<path transform="translate(367.5 410.1) rotate(9.1)" d="M-24.3,0.8 -13.8,0.8M-6.2,-5.4 -7.9,-4.8 -9.1,-3.3 -9.7,-0.8 -9.7,0.8 -9.1,3.3 -7.9,4.8 -6.2,5.4 -5,5.4 -3.2,4.8 -2.1,3.3 -1.5,0.8 -1.5,-0.8 -2.1,-3.3 -3.2,-4.8 -5,-5.4 -6.2,-5.4M3.2,4.3 2.6,4.8 3.2,5.4 3.8,4.8 3.2,4.3M11.4,-5.4 9.7,-4.8 8.5,-3.3 7.9,-0.8 7.9,0.8 8.5,3.3 9.7,4.8 11.4,5.4 12.6,5.4 14.4,4.8 15.5,3.3 16.1,0.8 16.1,-0.8 15.5,-3.3 14.4,-4.8 12.6,-5.4 11.4,-5.4M21.4,-3.3 22.6,-3.8 24.3,-5.4 24.3,5.4" stroke-width="2"/>
<path transform="translate(367.5 420.6) rotate(9.8)" d="M-24.4,0.8 -14.5,0.8M-7.4,-5.4 -9,-4.8 -10.1,-3.3 -10.7,-0.8 -10.7,0.8 -10.1,3.3 -9,4.8 -7.4,5.4 -6.3,5.4 -4.7,4.8 -3.6,3.3 -3,0.8 -3,-0.8 -3.6,-3.3 -4.7,-4.8 -6.3,-5.4 -7.4,-5.4M1.4,4.3 0.8,4.8 1.4,5.4 1.9,4.8 1.4,4.3M9,-5.4 7.4,-4.8 6.3,-3.3 5.7,-0.8 5.7,0.8 6.3,3.3 7.4,4.8 9,5.4 10.1,5.4 11.8,4.8 12.9,3.3 13.4,0.8 13.4,-0.8 12.9,-3.3 11.8,-4.8 10.1,-5.4 9,-5.4M17.2,-2.8 17.2,-3.3 17.8,-4.3 18.3,-4.8 19.4,-5.4 21.6,-5.4 22.7,-4.8 23.3,-4.3 23.8,-3.3 23.8,-2.3 23.3,-1.3 22.2,0.3 16.7,5.4 24.4,5.4" stroke-width="2"/>
<path transform="translate(367.5 430.4) rotate(10.7)" d="M-24.4,0.8 -14.5,0.8M-7.4,-5.4 -9.1,-4.8 -10.2,-3.3 -10.7,-0.8 -10.7,0.8 -10.2,3.3 -9.1,4.8 -7.4,5.4 -6.3,5.4 -4.7,4.8 -3.6,3.3 -3,0.8 -3,-0.8 -3.6,-3.3 -4.7,-4.8 -6.3,-5.4 -7.4,-5.4M1.4,4.3 0.8,4.8 1.4,5.4 1.9,4.8 1.4,4.3M9.1,-5.4 7.4,-4.8 6.3,-3.3 5.8,-0.8 5.8,0.8 6.3,3.3 7.4,4.8 9.1,5.4 10.2,5.4 11.8,4.8 12.9,3.3 13.4,0.8 13.4,-0.8 12.9,-3.3 11.8,-4.8 10.2,-5.4 9.1,-5.4M17.8,-5.4 23.9,-5.4 20.6,-1.3 22.2,-1.3 23.3,-0.8 23.9,-0.3 24.4,1.3 24.4,2.3 23.9,3.8 22.8,4.8 21.1,5.4 19.5,5.4 17.8,4.8 17.3,4.3 16.7,3.3" stroke-width="2"/>
<path transform="translate(367.5 439.5) rotate(10.8)" d="M-24.4,0.8 -14.7,0.8M-7.6,-5.4 -9.2,-4.8 -10.3,-3.3 -10.9,-0.8 -10.9,0.8 -10.3,3.3 -9.2,4.8 -7.6,5.4 -6.5,5.4 -4.9,4.8 -3.8,3.3 -3.3,0.8 -3.3,-0.8 -3.8,-3.3 -4.9,-4.8 -6.5,-5.4 -7.6,-5.4M1.1,4.3 0.5,4.8 1.1,5.4 1.6,4.8 1.1,4.3M8.7,-5.4 7.1,-4.8 6,-3.3 5.4,-0.8 5.4,0.8 6,3.3 7.1,4.8 8.7,5.4 9.8,5.4 11.4,4.8 12.5,3.3 13,0.8 13,-0.8 12.5,-3.3 11.4,-4.8 9.8,-5.4 8.7,-5.4M21.7,-5.4 16.3,1.8 24.4,1.8M21.7,-5.4 21.7,5.4" stroke-width="2"/>
<path transform="translate(367.5 448.7) rotate(8.9)" d="M-24.3,0.8 -14.5,0.8M-7.4,-5.4 -9,-4.8 -10.1,-3.3 -10.6,-0.8 -10.6,0.8 -10.1,3.3 -9,4.8 -7.4,5.4 -6.3,5.4 -4.6,4.8 -3.5,3.3 -3,0.8 -3,-0.8 -3.5,-3.3 -4.6,-4.8 -6.3,-5.4 -7.4,-5.4M1.4,4.3 0.8,4.8 1.4,5.4 1.9,4.8 1.4,4.3M9,-5.4 7.4,-4.8 6.3,-3.3 5.7,-0.8 5.7,0.8 6.3,3.3 7.4,4.8 9,5.4 10.1,5.4 11.7,4.8 12.8,3.3 13.4,0.8 13.4,-0.8 12.8,-3.3 11.7,-4.8 10.1,-5.4 9,-5.4M23.2,-5.4 17.7,-5.4 17.2,-0.8 17.7,-1.3 19.4,-1.8 21,-1.8 22.7,-1.3 23.7,-0.3 24.3,1.3 24.3,2.3 23.7,3.8 22.7,4.8 21,5.4 19.4,5.4 17.7,4.8 17.2,4.3 16.7,3.3" stroke-width="2"/>
</g>
<g fill="#000" shape-rendering="crispEdges">
<rect x="135" y="156" width="634" height="2"/><rect x="135" y="472" width="634" height="2"/><rect x="135" y="156" width="2" height="318"/><rect x="767" y="156" width="2" height="318"/>
<rect x="160" y="158" width="1" height="4"/><rect x="160" y="468" width="1" height="4"/>
<rect x="184" y="158" width="2" height="9"/><rect x="184" y="463" width="2" height="9"/>
<rect x="210" y="158" width="1" height="4"/><rect x="210" y="468" width="1" height="4"/>
<rect x="235" y="158" width="2" height="9"/><rect x="235" y="463" width="2" height="9"/>
<rect x="261" y="158" width="1" height="4"/><rect x="261" y="468" width="1" height="4"/>
<rect x="286" y="158" width="2" height="9"/><rect x="286" y="463" width="2" height="9"/>
<rect x="312" y="158" width="1" height="4"/><rect x="312" y="468" width="1" height="4"/>
<rect x="336" y="158" width="2" height="9"/><rect x="336" y="463" width="2" height="9"/>
<rect x="363" y="158" width="1" height="4"/><rect x="363" y="468" width="1" height="4"/>
<rect x="387" y="158" width="2" height="9"/><rect x="387" y="463" width="2" height="9"/>
<rect x="414" y="158" width="1" height="4"/><rect x="414" y="468" width="1" height="4"/>
<rect x="438" y="158" width="2" height="9"/><rect x="438" y="463" width="2" height="9"/>
<rect x="464" y="158" width="1" height="4"/><rect x="464" y="468" width="1" height="4"/>
<rect x="489" y="158" width="2" height="9"/><rect x="489" y="463" width="2" height="9"/>
<rect x="515" y="158" width="1" height="4"/><rect x="515" y="468" width="1" height="4"/>
<rect x="540" y="158" width="2" height="9"/><rect x="540" y="463" width="2" height="9"/>
<rect x="566" y="158" width="1" height="4"/><rect x="566" y="468" width="1" height="4"/>
<rect x="590" y="158" width="2" height="9"/><rect x="590" y="463" width="2" height="9"/>
<rect x="617" y="158" width="1" height="4"/><rect x="617" y="468" width="1" height="4"/>
<rect x="641" y="158" width="2" height="9"/><rect x="641" y="463" width="2" height="9"/>
<rect x="668" y="158" width="1" height="4"/><rect x="668" y="468" width="1" height="4"/>
<rect x="692" y="158" width="2" height="9"/><rect x="692" y="463" width="2" height="9"/>
<rect x="719" y="158" width="1" height="4"/><rect x="719" y="468" width="1" height="4"/>
<rect x="743" y="158" width="2" height="9"/><rect x="743" y="463" width="2" height="9"/>
<rect x="137" y="459" width="4" height="1"/><rect x="763" y="459" width="4" height="1"/>
<rect x="137" y="443" width="4" height="1"/><rect x="763" y="443" width="4" height="1"/>
<rect x="137" y="427" width="4" height="1"/><rect x="763" y="427" width="4" height="1"/>
<rect x="137" y="411" width="4" height="1"/><rect x="763" y="411" width="4" height="1"/>
<rect x="137" y="394" width="8" height="2"/><rect x="759" y="394" width="8" height="2"/>
<rect x="137" y="379" width="4" height="1"/><rect x="763" y="379" width="4" height="1"/>
<rect x="137" y="363" width="4" height="1"/><rect x="763" y="363" width="4" height="1"/>
<rect x="137" y="347" width="4" height="1"/><rect x="763" y="347" width="4" height="1"/>
<rect x="137" y="331" width="4" height="1"/><rect x="763" y="331" width="4" height="1"/>
<rect x="137" y="314" width="8" height="2"/><rect x="759" y="314" width="8" height="2"/>
<rect x="137" y="299" width="4" height="1"/><rect x="763" y="299" width="4" height="1"/>
<rect x="137" y="283" width="4" height="1"/><rect x="763" y="283" width="4" height="1"/>
<rect x="137" y="267" width="4" height="1"/><rect x="763" y="267" width="4" height="1"/>
<rect x="137" y="251" width="4" height="1"/><rect x="763" y="251" width="4" height="1"/>
<rect x="137" y="234" width="8" height="2"/><rect x="759" y="234" width="8" height="2"/>
<rect x="137" y="219" width="4" height="1"/><rect x="763" y="219" width="4" height="1"/>
<rect x="137" y="203" width="4" height="1"/><rect x="763" y="203" width="4" height="1"/>
<rect x="137" y="187" width="4" height="1"/><rect x="763" y="187" width="4" height="1"/>
<rect x="137" y="171" width="4" height="1"/><rect x="763" y="171" width="4" height="1"/>
</g>
<g fill="none" stroke="#000" stroke-linecap="round" stroke-linejoin="round" shape-rendering="crispEdges">
<path transform="translate(303 111.8)" d="M11.1,-19.3 11.1,0M11.1,-10.1 9.2,-11.9 7.4,-12.9 4.6,-12.9 2.8,-11.9 0.9,-10.1 0,-7.3 0,-5.5 0.9,-2.8 2.8,-0.9 4.6,0 7.4,0 9.2,-0.9 11.1,-2.8M17.5,-19.3 18.4,-18.4 19.3,-19.3 18.4,-20.2 17.5,-19.3M18.4,-12.9 18.4,0M35,-10.1 34.1,-11.9 31.3,-12.9 28.6,-12.9 25.8,-11.9 24.9,-10.1 25.8,-8.3 27.6,-7.3 32.2,-6.4 34.1,-5.5 35,-3.7 35,-2.8 34.1,-0.9 31.3,0 28.6,0 25.8,-0.9 24.9,-2.8M42.4,-19.3 42.4,-3.7 43.3,-0.9 45.1,0 47,0M39.6,-12.9 46.1,-12.9M52.5,-12.9 52.5,-3.7 53.4,-0.9 55.3,0 58,0 59.9,-0.9 62.6,-3.7M62.6,-12.9 62.6,0M70,-12.9 70,0M70,-7.3 70.9,-10.1 72.8,-11.9 74.6,-12.9 77.4,-12.9M82,-19.3 82,0M82,-10.1 83.8,-11.9 85.7,-12.9 88.4,-12.9 90.3,-11.9 92.1,-10.1 93,-7.3 93,-5.5 92.1,-2.8 90.3,-0.9 88.4,0 85.7,0 83.8,-0.9 82,-2.8M99.5,-12.9 99.5,-3.7 100.4,-0.9 102.2,0 105,0 106.8,-0.9 109.6,-3.7M109.6,-12.9 109.6,0M117,-12.9 117,0M117,-9.2 119.7,-11.9 121.6,-12.9 124.3,-12.9 126.2,-11.9 127.1,-9.2 127.1,0M144.6,-10.1 142.8,-11.9 140.9,-12.9 138.1,-12.9 136.3,-11.9 134.5,-10.1 133.5,-7.3 133.5,-5.5 134.5,-2.8 136.3,-0.9 138.1,0 140.9,0 142.8,-0.9 144.6,-2.8M150.1,-7.3 161.2,-7.3 161.2,-9.2 160.3,-11 159.3,-11.9 157.5,-12.9 154.7,-12.9 152.9,-11.9 151,-10.1 150.1,-7.3 150.1,-5.5 151,-2.8 152.9,-0.9 154.7,0 157.5,0 159.3,-0.9 161.2,-2.8M186,-12.9 184.2,-11.9 182.4,-10.1 181.4,-7.3 181.4,-5.5 182.4,-2.8 184.2,-0.9 186,0 188.8,0 190.6,-0.9 192.5,-2.8 193.4,-5.5 193.4,-7.3 192.5,-10.1 190.6,-11.9 188.8,-12.9 186,-12.9M205.4,-19.3 203.5,-19.3 201.7,-18.4 200.8,-15.6 200.8,0M198,-12.9 204.5,-12.9M225.6,-19.3 225.6,0M225.6,-19.3 237.6,-19.3M225.6,-10.1 233,-10.1M225.6,0 237.6,0M242.2,-12.9 252.4,0M252.4,-12.9 242.2,0M258.8,-12.9 258.8,0M258.8,-9.2 261.6,-11.9 263.4,-12.9 266.2,-12.9 268,-11.9 268.9,-9.2 268.9,0M275.4,-7.3 286.4,-7.3 286.4,-9.2 285.5,-11 284.6,-11.9 282.7,-12.9 280,-12.9 278.1,-11.9 276.3,-10.1 275.4,-7.3 275.4,-5.5 276.3,-2.8 278.1,-0.9 280,0 282.7,0 284.6,-0.9 286.4,-2.8M292.9,-12.9 292.9,0M292.9,-7.3 293.8,-10.1 295.6,-11.9 297.5,-12.9 300.2,-12.9" stroke-width="2"/>
<path transform="translate(125.2 394)" d="M-1.2,-6 -7,-6 -7.6,-0.9 -7,-1.4 -5.3,-2 -3.5,-2 -1.8,-1.4 -0.6,-0.3 0,1.4 0,2.6 -0.6,4.3 -1.8,5.5 -3.5,6 -5.3,6 -7,5.5 -7.6,4.9 -8.2,3.7" stroke-width="2"/>
<path transform="translate(125.2 314)" d="M-18.1,-3.7 -17,-4.3 -15.2,-6 -15.2,6M-4.7,-6 -6.4,-5.5 -7.6,-3.7 -8.2,-0.9 -8.2,0.9 -7.6,3.7 -6.4,5.5 -4.7,6 -3.5,6 -1.8,5.5 -0.6,3.7 0,0.9 0,-0.9 -0.6,-3.7 -1.8,-5.5 -3.5,-6 -4.7,-6" stroke-width="2"/>
<path transform="translate(125.2 234)" d="M-18.1,-3.7 -17,-4.3 -15.2,-6 -15.2,6M-1.2,-6 -7,-6 -7.6,-0.9 -7,-1.4 -5.3,-2 -3.5,-2 -1.8,-1.4 -0.6,-0.3 0,1.4 0,2.6 -0.6,4.3 -1.8,5.5 -3.5,6 -5.3,6 -7,5.5 -7.6,4.9 -8.2,3.7" stroke-width="2"/>
<path transform="translate(185.5 493.9)" d="M1.5,-11.6 -4.4,-3.9 4.4,-3.9M1.5,-11.6 1.5,0" stroke-width="2"/>
<path transform="translate(236.3 493.9)" d="M-1.2,-11.6 -2.9,-11 -3.5,-9.9 -3.5,-8.8 -2.9,-7.7 -1.8,-7.2 0.6,-6.6 2.3,-6.1 3.5,-5 4.1,-3.9 4.1,-2.2 3.5,-1.1 2.9,-0.6 1.2,0 -1.2,0 -2.9,-0.6 -3.5,-1.1 -4.1,-2.2 -4.1,-3.9 -3.5,-5 -2.3,-6.1 -0.6,-6.6 1.8,-7.2 2.9,-7.7 3.5,-8.8 3.5,-9.9 2.9,-11 1.2,-11.6 -1.2,-11.6" stroke-width="2"/>
<path transform="translate(287.2 493.9)" d="M-9.1,-9.4 -7.9,-9.9 -6.1,-11.6 -6.1,0M1.5,-8.8 1.5,-9.4 2,-10.5 2.6,-11 3.8,-11.6 6.1,-11.6 7.3,-11 7.9,-10.5 8.5,-9.4 8.5,-8.2 7.9,-7.2 6.7,-5.5 0.9,0 9.1,0" stroke-width="2"/>
<path transform="translate(338 493.9)" d="M-9.1,-9.4 -7.9,-9.9 -6.1,-11.6 -6.1,0M8.5,-9.9 7.9,-11 6.1,-11.6 5,-11.6 3.2,-11 2,-9.4 1.5,-6.6 1.5,-3.9 2,-1.7 3.2,-0.6 5,0 5.6,0 7.3,-0.6 8.5,-1.7 9.1,-3.3 9.1,-3.9 8.5,-5.5 7.3,-6.6 5.6,-7.2 5,-7.2 3.2,-6.6 2,-5.5 1.5,-3.9" stroke-width="2"/>
<path transform="translate(388.8 493.9)" d="M-9.4,-8.8 -9.4,-9.4 -8.8,-10.5 -8.2,-11 -7,-11.6 -4.7,-11.6 -3.5,-11 -2.9,-10.5 -2.3,-9.4 -2.3,-8.2 -2.9,-7.2 -4.1,-5.5 -9.9,0 -1.8,0M5.3,-11.6 3.5,-11 2.3,-9.4 1.8,-6.6 1.8,-5 2.3,-2.2 3.5,-0.6 5.3,0 6.4,0 8.2,-0.6 9.4,-2.2 9.9,-5 9.9,-6.6 9.4,-9.4 8.2,-11 6.4,-11.6 5.3,-11.6" stroke-width="2"/>
<path transform="translate(439.6 493.9)" d="M-9.7,-8.8 -9.7,-9.4 -9.1,-10.5 -8.5,-11 -7.3,-11.6 -5,-11.6 -3.8,-11 -3.2,-10.5 -2.6,-9.4 -2.6,-8.2 -3.2,-7.2 -4.4,-5.5 -10.2,0 -2,0M7.3,-11.6 1.5,-3.9 10.2,-3.9M7.3,-11.6 7.3,0" stroke-width="2"/>
<path transform="translate(490.4 493.9)" d="M-9.4,-8.8 -9.4,-9.4 -8.8,-10.5 -8.2,-11 -7,-11.6 -4.7,-11.6 -3.5,-11 -2.9,-10.5 -2.3,-9.4 -2.3,-8.2 -2.9,-7.2 -4.1,-5.5 -9.9,0 -1.8,0M4.7,-11.6 2.9,-11 2.3,-9.9 2.3,-8.8 2.9,-7.7 4.1,-7.2 6.4,-6.6 8.2,-6.1 9.4,-5 9.9,-3.9 9.9,-2.2 9.4,-1.1 8.8,-0.6 7,0 4.7,0 2.9,-0.6 2.3,-1.1 1.8,-2.2 1.8,-3.9 2.3,-5 3.5,-6.1 5.3,-6.6 7.6,-7.2 8.8,-7.7 9.4,-8.8 9.4,-9.9 8.8,-11 7,-11.6 4.7,-11.6" stroke-width="2"/>
<path transform="translate(541.3 493.9)" d="M-8.8,-11.6 -2.3,-11.6 -5.8,-7.2 -4.1,-7.2 -2.9,-6.6 -2.3,-6.1 -1.8,-4.4 -1.8,-3.3 -2.3,-1.7 -3.5,-0.6 -5.3,0 -7,0 -8.8,-0.6 -9.4,-1.1 -9.9,-2.2M2.3,-8.8 2.3,-9.4 2.9,-10.5 3.5,-11 4.7,-11.6 7,-11.6 8.2,-11 8.8,-10.5 9.4,-9.4 9.4,-8.2 8.8,-7.2 7.6,-5.5 1.8,0 9.9,0" stroke-width="2"/>
<path transform="translate(592.1 493.9)" d="M-8.8,-11.6 -2.3,-11.6 -5.8,-7.2 -4.1,-7.2 -2.9,-6.6 -2.3,-6.1 -1.8,-4.4 -1.8,-3.3 -2.3,-1.7 -3.5,-0.6 -5.3,0 -7,0 -8.8,-0.6 -9.4,-1.1 -9.9,-2.2M9.4,-9.9 8.8,-11 7,-11.6 5.8,-11.6 4.1,-11 2.9,-9.4 2.3,-6.6 2.3,-3.9 2.9,-1.7 4.1,-0.6 5.8,0 6.4,0 8.2,-0.6 9.4,-1.7 9.9,-3.3 9.9,-3.9 9.4,-5.5 8.2,-6.6 6.4,-7.2 5.8,-7.2 4.1,-6.6 2.9,-5.5 2.3,-3.9" stroke-width="2"/>
<path transform="translate(642.9 493.9)" d="M-4.1,-11.6 -9.9,-3.9 -1.2,-3.9M-4.1,-11.6 -4.1,0M5.3,-11.6 3.5,-11 2.3,-9.4 1.8,-6.6 1.8,-5 2.3,-2.2 3.5,-0.6 5.3,0 6.4,0 8.2,-0.6 9.4,-2.2 9.9,-5 9.9,-6.6 9.4,-9.4 8.2,-11 6.4,-11.6 5.3,-11.6" stroke-width="2"/>
<path transform="translate(693.7 493.9)" d="M-4.4,-11.6 -10.2,-3.9 -1.5,-3.9M-4.4,-11.6 -4.4,0M7.3,-11.6 1.5,-3.9 10.2,-3.9M7.3,-11.6 7.3,0" stroke-width="2"/>
<path transform="translate(744.5 493.9)" d="M-4.1,-11.6 -9.9,-3.9 -1.2,-3.9M-4.1,-11.6 -4.1,0M4.7,-11.6 2.9,-11 2.3,-9.9 2.3,-8.8 2.9,-7.7 4.1,-7.2 6.4,-6.6 8.2,-6.1 9.4,-5 9.9,-3.9 9.9,-2.2 9.4,-1.1 8.8,-0.6 7,0 4.7,0 2.9,-0.6 2.3,-1.1 1.8,-2.2 1.8,-3.9 2.3,-5 3.5,-6.1 5.3,-6.6 7.6,-7.2 8.8,-7.7 9.4,-8.8 9.4,-9.9 8.8,-11 7,-11.6 4.7,-11.6" stroke-width="2"/>
<path transform="translate(48.8 506)" d="M4,-12.9 2.9,-12 1.7,-10.8 0.6,-9.1 0,-7 0,-5.3 0.6,-3.2 1.7,-1.5 2.9,-0.3 4,0.6M7.5,-7.8 14.5,-1.1M14.5,-7.8 7.5,-1.1M19.7,-9.5 20.8,-10.1 22.5,-11.8 22.5,0M32.9,-11.8 31.2,-11.2 30.1,-9.5 29.5,-6.7 29.5,-5 30.1,-2.2 31.2,-0.6 32.9,0 34.1,0 35.8,-0.6 37,-2.2 37.6,-5 37.6,-6.7 37,-9.5 35.8,-11.2 34.1,-11.8 32.9,-11.8M44.5,-11.8 42.8,-11.2 41.6,-9.5 41,-6.7 41,-5 41.6,-2.2 42.8,-0.6 44.5,0 45.7,0 47.4,-0.6 48.6,-2.2 49.1,-5 49.1,-6.7 48.6,-9.5 47.4,-11.2 45.7,-11.8 44.5,-11.8M56.1,-11.8 54.3,-11.2 53.2,-9.5 52.6,-6.7 52.6,-5 53.2,-2.2 54.3,-0.6 56.1,0 57.2,0 59,-0.6 60.1,-2.2 60.7,-5 60.7,-6.7 60.1,-9.5 59,-11.2 57.2,-11.8 56.1,-11.8M72.2,-7.8 72.2,0M72.2,-5.6 74,-7.3 75.1,-7.8 76.9,-7.8 78,-7.3 78.6,-5.6 78.6,0M78.6,-5.6 80.3,-7.3 81.5,-7.8 83.2,-7.8 84.4,-7.3 85,-5.6 85,0M89,-12.9 90.2,-12 91.3,-10.8 92.5,-9.1 93.1,-7 93.1,-5.3 92.5,-3.2 91.3,-1.5 90.2,-0.3 89,0.6" stroke-width="1.8"/>
<path transform="translate(686 517.2)" d="M4,-12.9 2.9,-12 1.7,-10.8 0.6,-9.1 0,-7 0,-5.3 0.6,-3.2 1.7,-1.5 2.9,-0.3 4,0.6M7.5,-7.8 14.5,-1.1M14.5,-7.8 7.5,-1.1M19.7,-9.5 20.8,-10.1 22.5,-11.8 22.5,0M32.9,-11.8 31.2,-11.2 30.1,-9.5 29.5,-6.7 29.5,-5 30.1,-2.2 31.2,-0.6 32.9,0 34.1,0 35.8,-0.6 37,-2.2 37.6,-5 37.6,-6.7 37,-9.5 35.8,-11.2 34.1,-11.8 32.9,-11.8M44.5,-11.8 42.8,-11.2 41.6,-9.5 41,-6.7 41,-5 41.6,-2.2 42.8,-0.6 44.5,0 45.7,0 47.4,-0.6 48.6,-2.2 49.1,-5 49.1,-6.7 48.6,-9.5 47.4,-11.2 45.7,-11.8 44.5,-11.8M56.1,-11.8 54.3,-11.2 53.2,-9.5 52.6,-6.7 52.6,-5 53.2,-2.2 54.3,-0.6 56.1,0 57.2,0 59,-0.6 60.1,-2.2 60.7,-5 60.7,-6.7 60.1,-9.5 59,-11.2 57.2,-11.8 56.1,-11.8M72.2,-7.8 72.2,0M72.2,-5.6 74,-7.3 75.1,-7.8 76.9,-7.8 78,-7.3 78.6,-5.6 78.6,0M78.6,-5.6 80.3,-7.3 81.5,-7.8 83.2,-7.8 84.4,-7.3 85,-5.6 85,0M89,-12.9 90.2,-12 91.3,-10.8 92.5,-9.1 93.1,-7 93.1,-5.3 92.5,-3.2 91.3,-1.5 90.2,-0.3 89,0.6" stroke-width="1.8"/>
<path transform="translate(377 546)" d="M0,-15.5 10.3,0M10.3,-15.5 0,0M15.4,-6.7 28.7,-6.7M42.6,-8.1 41.2,-9.6 39.7,-10.4 37.5,-10.4 36,-9.6 34.5,-8.1 33.8,-5.9 33.8,-4.4 34.5,-2.2 36,-0.7 37.5,0 39.7,0 41.2,-0.7 42.6,-2.2M50.7,-10.4 49.2,-9.6 47.8,-8.1 47,-5.9 47,-4.4 47.8,-2.2 49.2,-0.7 50.7,0 52.9,0 54.4,-0.7 55.9,-2.2 56.6,-4.4 56.6,-5.9 55.9,-8.1 54.4,-9.6 52.9,-10.4 50.7,-10.4M64.7,-10.4 63.2,-9.6 61.7,-8.1 61,-5.9 61,-4.4 61.7,-2.2 63.2,-0.7 64.7,0 66.9,0 68.4,-0.7 69.8,-2.2 70.6,-4.4 70.6,-5.9 69.8,-8.1 68.4,-9.6 66.9,-10.4 64.7,-10.4M75.7,-10.4 75.7,0M75.7,-5.9 76.4,-8.1 77.9,-9.6 79.4,-10.4 81.6,-10.4M93.3,-15.5 93.3,0M93.3,-8.1 91.9,-9.6 90.4,-10.4 88.2,-10.4 86.7,-9.6 85.3,-8.1 84.5,-5.9 84.5,-4.4 85.3,-2.2 86.7,-0.7 88.2,0 90.4,0 91.9,-0.7 93.3,-2.2M98.5,-15.5 99.2,-14.8 100,-15.5 99.2,-16.3 98.5,-15.5M99.2,-10.4 99.2,0M105.1,-10.4 105.1,0M105.1,-7.4 107.3,-9.6 108.8,-10.4 111,-10.4 112.5,-9.6 113.2,-7.4 113.2,0M127.2,-10.4 127.2,0M127.2,-8.1 125.7,-9.6 124.2,-10.4 122,-10.4 120.5,-9.6 119.1,-8.1 118.3,-5.9 118.3,-4.4 119.1,-2.2 120.5,-0.7 122,0 124.2,0 125.7,-0.7 127.2,-2.2M133.8,-15.5 133.8,-3 134.5,-0.7 136,0 137.4,0M131.6,-10.4 136.7,-10.4M141.1,-5.9 149.9,-5.9 149.9,-7.4 149.2,-8.9 148.5,-9.6 147,-10.4 144.8,-10.4 143.3,-9.6 141.9,-8.1 141.1,-5.9 141.1,-4.4 141.9,-2.2 143.3,-0.7 144.8,0 147,0 148.5,-0.7 149.9,-2.2" stroke-width="2"/>
<path transform="translate(89.8 389) rotate(-90)" d="M10.2,-15.5 0,0M0,-15.5 10.2,-15.5M0,0 10.2,0M15.4,-6.7 28.5,-6.7M42.5,-8.1 41,-9.6 39.5,-10.4 37.3,-10.4 35.9,-9.6 34.4,-8.1 33.7,-5.9 33.7,-4.4 34.4,-2.2 35.9,-0.7 37.3,0 39.5,0 41,-0.7 42.5,-2.2M50.5,-10.4 49,-9.6 47.6,-8.1 46.8,-5.9 46.8,-4.4 47.6,-2.2 49,-0.7 50.5,0 52.7,0 54.2,-0.7 55.6,-2.2 56.4,-4.4 56.4,-5.9 55.6,-8.1 54.2,-9.6 52.7,-10.4 50.5,-10.4M64.4,-10.4 63,-9.6 61.5,-8.1 60.8,-5.9 60.8,-4.4 61.5,-2.2 63,-0.7 64.4,0 66.6,0 68.1,-0.7 69.5,-2.2 70.3,-4.4 70.3,-5.9 69.5,-8.1 68.1,-9.6 66.6,-10.4 64.4,-10.4M75.4,-10.4 75.4,0M75.4,-5.9 76.1,-8.1 77.6,-9.6 79.1,-10.4 81.3,-10.4M93,-15.5 93,0M93,-8.1 91.5,-9.6 90,-10.4 87.8,-10.4 86.4,-9.6 84.9,-8.1 84.2,-5.9 84.2,-4.4 84.9,-2.2 86.4,-0.7 87.8,0 90,0 91.5,-0.7 93,-2.2M98.1,-15.5 98.8,-14.8 99.6,-15.5 98.8,-16.3 98.1,-15.5M98.8,-10.4 98.8,0M104.7,-10.4 104.7,0M104.7,-7.4 106.9,-9.6 108.3,-10.4 110.5,-10.4 112,-9.6 112.7,-7.4 112.7,0M126.6,-10.4 126.6,0M126.6,-8.1 125.2,-9.6 123.7,-10.4 121.5,-10.4 120,-9.6 118.6,-8.1 117.9,-5.9 117.9,-4.4 118.6,-2.2 120,-0.7 121.5,0 123.7,0 125.2,-0.7 126.6,-2.2M133.2,-15.5 133.2,-3 134,-0.7 135.4,0 136.9,0M131,-10.4 136.2,-10.4M140.5,-5.9 149.3,-5.9 149.3,-7.4 148.6,-8.9 147.9,-9.6 146.4,-10.4 144.2,-10.4 142.7,-9.6 141.3,-8.1 140.5,-5.9 140.5,-4.4 141.3,-2.2 142.7,-0.7 144.2,0 146.4,0 147.9,-0.7 149.3,-2.2" stroke-width="2"/>
<path transform="translate(305.8 591.9)" d="M8.4,-9.2 7.8,-10.3 6.7,-11.5 5.6,-12.1 3.3,-12.1 2.2,-11.5 1.1,-10.3 0.6,-9.2 0,-7.5 0,-4.6 0.6,-2.9 1.1,-1.7 2.2,-0.6 3.3,0 5.6,0 6.7,-0.6 7.8,-1.7 8.4,-2.9M15.1,-12.1 14,-11.5 12.8,-10.3 12.3,-9.2 11.7,-7.5 11.7,-4.6 12.3,-2.9 12.8,-1.7 14,-0.6 15.1,0 17.3,0 18.4,-0.6 19.5,-1.7 20.1,-2.9 20.6,-4.6 20.6,-7.5 20.1,-9.2 19.5,-10.3 18.4,-11.5 17.3,-12.1 15.1,-12.1M24.6,-12.1 24.6,0M24.6,-12.1 32.4,0M32.4,-12.1 32.4,0M39.1,-12.1 39.1,0M35.2,-12.1 43,-12.1M48.5,-12.1 47.4,-11.5 46.3,-10.3 45.8,-9.2 45.2,-7.5 45.2,-4.6 45.8,-2.9 46.3,-1.7 47.4,-0.6 48.5,0 50.8,0 51.9,-0.6 53,-1.7 53.6,-2.9 54.1,-4.6 54.1,-7.5 53.6,-9.2 53,-10.3 51.9,-11.5 50.8,-12.1 48.5,-12.1M58,-12.1 58,-3.4 58.6,-1.7 59.7,-0.6 61.4,0 62.5,0 64.2,-0.6 65.3,-1.7 65.8,-3.4 65.8,-12.1M70.3,-12.1 70.3,0M70.3,-12.1 75.3,-12.1 77,-11.5 77.6,-10.9 78.1,-9.8 78.1,-8.6 77.6,-7.5 77,-6.9 75.3,-6.3 70.3,-6.3M74.2,-6.3 78.1,0M91,-12.1 91,0M95.4,-12.1 95.4,0M95.4,-12.1 103.2,0M103.2,-12.1 103.2,0M109.9,-12.1 109.9,0M106,-12.1 113.8,-12.1M116.6,-12.1 116.6,0M116.6,-12.1 123.9,-12.1M116.6,-6.3 121.1,-6.3M116.6,0 123.9,0M127.2,-12.1 127.2,0M127.2,-12.1 132.2,-12.1 133.9,-11.5 134.5,-10.9 135,-9.8 135,-8.6 134.5,-7.5 133.9,-6.9 132.2,-6.3 127.2,-6.3M131.1,-6.3 135,0M137.3,-12.1 141.7,0M146.2,-12.1 141.7,0M151.8,-12.1 147.3,0M151.8,-12.1 156.2,0M149,-4 154.6,-4M159,-12.1 159,0M159,0 165.7,0M177.4,-6.9 187.5,-6.9M177.4,-3.4 187.5,-3.4M207,-12.1 201.4,-12.1 200.9,-6.9 201.4,-7.5 203.1,-8 204.8,-8 206.5,-7.5 207.6,-6.3 208.1,-4.6 208.1,-3.4 207.6,-1.7 206.5,-0.6 204.8,0 203.1,0 201.4,-0.6 200.9,-1.1 200.3,-2.3M212.6,-1.1 212,-0.6 212.6,0 213.2,-0.6 212.6,-1.1M220.4,-12.1 218.7,-11.5 217.6,-9.8 217.1,-6.9 217.1,-5.2 217.6,-2.3 218.7,-0.6 220.4,0 221.5,0 223.2,-0.6 224.3,-2.3 224.9,-5.2 224.9,-6.9 224.3,-9.8 223.2,-11.5 221.5,-12.1 220.4,-12.1M231.6,-12.1 229.9,-11.5 228.8,-9.8 228.2,-6.9 228.2,-5.2 228.8,-2.3 229.9,-0.6 231.6,0 232.7,0 234.4,-0.6 235.5,-2.3 236,-5.2 236,-6.9 235.5,-9.8 234.4,-11.5 232.7,-12.1 231.6,-12.1M242.7,-12.1 241.1,-11.5 239.9,-9.8 239.4,-6.9 239.4,-5.2 239.9,-2.3 241.1,-0.6 242.7,0 243.8,0 245.5,-0.6 246.6,-2.3 247.2,-5.2 247.2,-6.9 246.6,-9.8 245.5,-11.5 243.8,-12.1 242.7,-12.1M251.1,-12.1 251.1,0M251.1,-12.1 258.4,-12.1M251.1,-6.3 255.6,-6.3M251.1,0 258.4,0M261.7,-5.2 271.7,-5.2M279,-12.1 277.3,-11.5 276.2,-9.8 275.7,-6.9 275.7,-5.2 276.2,-2.3 277.3,-0.6 279,0 280.1,0 281.8,-0.6 282.9,-2.3 283.5,-5.2 283.5,-6.9 282.9,-9.8 281.8,-11.5 280.1,-12.1 279,-12.1M287.9,-12.1 294.1,-12.1 290.7,-7.5 292.4,-7.5 293.5,-6.9 294.1,-6.3 294.6,-4.6 294.6,-3.4 294.1,-1.7 293,-0.6 291.3,0 289.6,0 287.9,-0.6 287.4,-1.1 286.8,-2.3" stroke-width="2"/>
<path transform="translate(343.9 645.9)" d="M-22,-4.2 -13.2,-4.2M-6.9,-9.9 -8.3,-9.4 -9.3,-8 -9.8,-5.6 -9.8,-4.2 -9.3,-1.9 -8.3,-0.5 -6.9,0 -5.9,0 -4.4,-0.5 -3.4,-1.9 -2.9,-4.2 -2.9,-5.6 -3.4,-8 -4.4,-9.4 -5.9,-9.9 -6.9,-9.9M1,-0.9 0.5,-0.5 1,0 1.5,-0.5 1,-0.9M7.8,-9.9 6.4,-9.4 5.4,-8 4.9,-5.6 4.9,-4.2 5.4,-1.9 6.4,-0.5 7.8,0 8.8,0 10.3,-0.5 11.3,-1.9 11.8,-4.2 11.8,-5.6 11.3,-8 10.3,-9.4 8.8,-9.9 7.8,-9.9M19.6,-9.9 14.7,-3.3 22,-3.3M19.6,-9.9 19.6,0" stroke-width="2"/>
<path transform="translate(398.5 645.9)" d="M-21.8,-4.2 -13,-4.2M-6.6,-9.9 -8.1,-9.4 -9.1,-8 -9.6,-5.6 -9.6,-4.2 -9.1,-1.9 -8.1,-0.5 -6.6,0 -5.6,0 -4.2,-0.5 -3.2,-1.9 -2.7,-4.2 -2.7,-5.6 -3.2,-8 -4.2,-9.4 -5.6,-9.9 -6.6,-9.9M1.2,-0.9 0.7,-0.5 1.2,0 1.7,-0.5 1.2,-0.9M8.1,-9.9 6.6,-9.4 5.6,-8 5.1,-5.6 5.1,-4.2 5.6,-1.9 6.6,-0.5 8.1,0 9.1,0 10.5,-0.5 11.5,-1.9 12,-4.2 12,-5.6 11.5,-8 10.5,-9.4 9.1,-9.9 8.1,-9.9M15.4,-7.5 15.4,-8 15.9,-8.9 16.4,-9.4 17.4,-9.9 19.4,-9.9 20.3,-9.4 20.8,-8.9 21.3,-8 21.3,-7 20.8,-6.1 19.8,-4.7 14.9,0 21.8,0" stroke-width="2"/>
<path transform="translate(453.1 645.9)" d="M-0.5,-9.9 -2,-9.4 -2.9,-8 -3.4,-5.6 -3.4,-4.2 -2.9,-1.9 -2,-0.5 -0.5,0 0.5,0 2,-0.5 2.9,-1.9 3.4,-4.2 3.4,-5.6 2.9,-8 2,-9.4 0.5,-9.9 -0.5,-9.9" stroke-width="2"/>
<path transform="translate(507.7 645.9)" d="M-12.7,-9.9 -14.2,-9.4 -15.2,-8 -15.7,-5.6 -15.7,-4.2 -15.2,-1.9 -14.2,-0.5 -12.7,0 -11.8,0 -10.3,-0.5 -9.3,-1.9 -8.8,-4.2 -8.8,-5.6 -9.3,-8 -10.3,-9.4 -11.8,-9.9 -12.7,-9.9M-4.9,-0.9 -5.4,-0.5 -4.9,0 -4.4,-0.5 -4.9,-0.9M2,-9.9 0.5,-9.4 -0.5,-8 -1,-5.6 -1,-4.2 -0.5,-1.9 0.5,-0.5 2,0 2.9,0 4.4,-0.5 5.4,-1.9 5.9,-4.2 5.9,-5.6 5.4,-8 4.4,-9.4 2.9,-9.9 2,-9.9M9.3,-7.5 9.3,-8 9.8,-8.9 10.3,-9.4 11.3,-9.9 13.2,-9.9 14.2,-9.4 14.7,-8.9 15.2,-8 15.2,-7 14.7,-6.1 13.7,-4.7 8.8,0 15.7,0" stroke-width="2"/>
<path transform="translate(562.3 645.9)" d="M-13,-9.9 -14.5,-9.4 -15.4,-8 -15.9,-5.6 -15.9,-4.2 -15.4,-1.9 -14.5,-0.5 -13,0 -12,0 -10.5,-0.5 -9.6,-1.9 -9.1,-4.2 -9.1,-5.6 -9.6,-8 -10.5,-9.4 -12,-9.9 -13,-9.9M-5.1,-0.9 -5.6,-0.5 -5.1,0 -4.7,-0.5 -5.1,-0.9M1.7,-9.9 0.2,-9.4 -0.7,-8 -1.2,-5.6 -1.2,-4.2 -0.7,-1.9 0.2,-0.5 1.7,0 2.7,0 4.2,-0.5 5.1,-1.9 5.6,-4.2 5.6,-5.6 5.1,-8 4.2,-9.4 2.7,-9.9 1.7,-9.9M13.5,-9.9 8.6,-3.3 15.9,-3.3M13.5,-9.9 13.5,0" stroke-width="2"/>
</g>
<g shape-rendering="crispEdges"><rect x="315" y="608" width="274" height="20" fill="#000"/>
<rect x="317" y="610" width="1" height="16" fill="#9500c5"/>
<rect x="320" y="610" width="1" height="16" fill="#8800ca"/>
<rect x="323" y="610" width="1" height="16" fill="#7b00cf"/>
<rect x="328" y="610" width="1" height="16" fill="#5800d9"/>
<rect x="331" y="610" width="1" height="16" fill="#4200df"/>
<rect x="336" y="610" width="1" height="16" fill="#1a00f0"/>
<rect x="339" y="610" width="1" height="16" fill="#0a00f8"/>
<rect x="342" y="610" width="1" height="16" fill="#0200fe"/>
<rect x="347" y="610" width="1" height="16" fill="#0007ff"/>
<rect x="350" y="610" width="1" height="16" fill="#000bff"/>
<rect x="355" y="610" width="1" height="16" fill="#0013ff"/>
<rect x="358" y="610" width="1" height="16" fill="#0018ff"/>
<rect x="361" y="610" width="1" height="16" fill="#001dff"/>
<rect x="366" y="610" width="1" height="16" fill="#0037ff"/>
<rect x="369" y="610" width="1" height="16" fill="#0049ff"/>
<rect x="374" y="610" width="1" height="16" fill="#005eff"/>
<rect x="377" y="610" width="1" height="16" fill="#0069ff"/>
<rect x="382" y="610" width="1" height="16" fill="#007cff"/>
<rect x="385" y="610" width="1" height="16" fill="#0089ff"/>
<rect x="388" y="610" width="1" height="16" fill="#009bff"/>
<rect x="393" y="610" width="1" height="16" fill="#00b9ff"/>
<rect x="396" y="610" width="1" height="16" fill="#00cbff"/>
<rect x="401" y="610" width="1" height="16" fill="#00eaff"/>
<rect x="404" y="610" width="1" height="16" fill="#00f6fc"/>
<rect x="407" y="610" width="1" height="16" fill="#00faf5"/>
<rect x="412" y="610" width="1" height="16" fill="#00ffe6"/>
<rect x="415" y="610" width="1" height="16" fill="#00ffd5"/>
<rect x="420" y="610" width="1" height="16" fill="#00ffba"/>
<rect x="423" y="610" width="1" height="16" fill="#00ffa9"/>
<rect x="426" y="610" width="1" height="16" fill="#00ff98"/>
<rect x="431" y="610" width="1" height="16" fill="#00ff78"/>
<rect x="434" y="610" width="1" height="16" fill="#00ff64"/>
<rect x="439" y="610" width="1" height="16" fill="#00ff45"/>
<rect x="442" y="610" width="1" height="16" fill="#00ff33"/>
<rect x="445" y="610" width="1" height="16" fill="#03ff22"/>
<rect x="450" y="610" width="1" height="16" fill="#0fff0a"/>
<rect x="453" y="610" width="1" height="16" fill="#19ff00"/>
<rect x="458" y="610" width="1" height="16" fill="#2fff00"/>
<rect x="461" y="610" width="1" height="16" fill="#3dff00"/>
<rect x="464" y="610" width="1" height="16" fill="#4bff00"/>
<rect x="469" y="610" width="1" height="16" fill="#62ff00"/>
<rect x="472" y="610" width="1" height="16" fill="#70ff00"/>
<rect x="477" y="610" width="1" height="16" fill="#86ff00"/>
<rect x="480" y="610" width="1" height="16" fill="#94ff00"/>
<rect x="483" y="610" width="1" height="16" fill="#a2ff00"/>
<rect x="488" y="610" width="1" height="16" fill="#b9ff00"/>
<rect x="491" y="610" width="1" height="16" fill="#c7ff00"/>
<rect x="496" y="610" width="1" height="16" fill="#ddff00"/>
<rect x="499" y="610" width="1" height="16" fill="#e7fa00"/>
<rect x="502" y="610" width="1" height="16" fill="#f0f600"/>
<rect x="507" y="610" width="1" height="16" fill="#ffef00"/>
<rect x="510" y="610" width="1" height="16" fill="#ffe400"/>
<rect x="515" y="610" width="1" height="16" fill="#ffd100"/>
<rect x="518" y="610" width="1" height="16" fill="#ffc600"/>
<rect x="521" y="610" width="1" height="16" fill="#ffb800"/>
<rect x="526" y="610" width="1" height="16" fill="#ffa100"/>
<rect x="529" y="610" width="1" height="16" fill="#ff9300"/>
<rect x="534" y="610" width="1" height="16" fill="#ff7d00"/>
<rect x="537" y="610" width="1" height="16" fill="#ff6f00"/>
<rect x="542" y="610" width="1" height="16" fill="#ff5500"/>
<rect x="545" y="610" width="1" height="16" fill="#ff4500"/>
<rect x="548" y="610" width="1" height="16" fill="#ff3500"/>
<rect x="553" y="610" width="1" height="16" fill="#ff1b00"/>
<rect x="556" y="610" width="1" height="16" fill="#ff0c00"/>
<rect x="561" y="610" width="1" height="16" fill="#ff0f0f"/>
<rect x="564" y="610" width="1" height="16" fill="#ff2222"/>
<rect x="567" y="610" width="1" height="16" fill="#ff3434"/>
<rect x="572" y="610" width="1" height="16" fill="#ff4c4c"/>
<rect x="575" y="610" width="1" height="16" fill="#ff5b5b"/>
<rect x="580" y="610" width="1" height="16" fill="#ff7373"/>
<rect x="583" y="610" width="1" height="16" fill="#ff8282"/>
<rect x="586" y="610" width="1" height="16" fill="#ff9292"/>
</g>
</svg></body></html>
